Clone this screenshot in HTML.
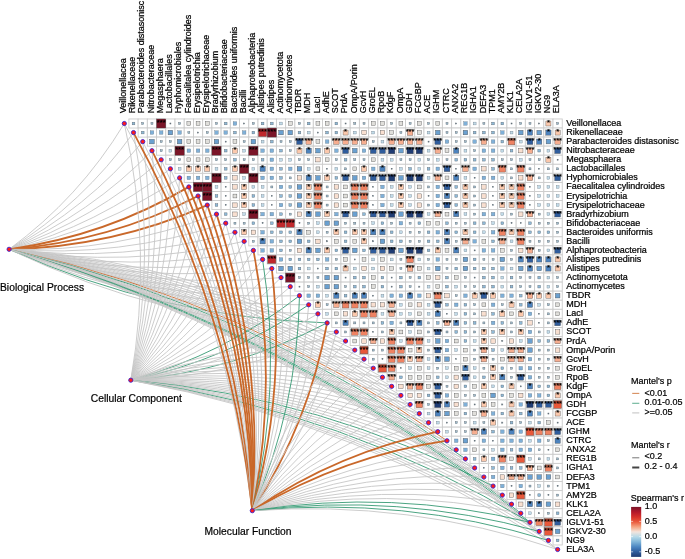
<!DOCTYPE html><html><head><meta charset="utf-8"><title>Mantel correlation plot</title><style>html,body{margin:0;padding:0;background:#fff}svg{display:block}</style></head><body><svg width="685" height="559" viewBox="0 0 685 559" font-family="Liberation Sans, Arial, sans-serif"><rect width="685" height="559" fill="#fff"/><g fill="#fff" stroke="#cccccc" stroke-width="0.9"><rect x="128.91" y="118.97" width="9.22" height="9.06"/><rect x="138.13" y="118.97" width="9.22" height="9.06"/><rect x="147.35" y="118.97" width="9.22" height="9.06"/><rect x="156.57" y="118.97" width="9.22" height="9.06"/><rect x="165.79" y="118.97" width="9.22" height="9.06"/><rect x="175.01" y="118.97" width="9.22" height="9.06"/><rect x="184.23" y="118.97" width="9.22" height="9.06"/><rect x="193.45" y="118.97" width="9.22" height="9.06"/><rect x="202.67" y="118.97" width="9.22" height="9.06"/><rect x="211.89" y="118.97" width="9.22" height="9.06"/><rect x="221.11" y="118.97" width="9.22" height="9.06"/><rect x="230.33" y="118.97" width="9.22" height="9.06"/><rect x="239.55" y="118.97" width="9.22" height="9.06"/><rect x="248.77" y="118.97" width="9.22" height="9.06"/><rect x="257.99" y="118.97" width="9.22" height="9.06"/><rect x="267.21" y="118.97" width="9.22" height="9.06"/><rect x="276.43" y="118.97" width="9.22" height="9.06"/><rect x="285.65" y="118.97" width="9.22" height="9.06"/><rect x="294.87" y="118.97" width="9.22" height="9.06"/><rect x="304.09" y="118.97" width="9.22" height="9.06"/><rect x="313.31" y="118.97" width="9.22" height="9.06"/><rect x="322.53" y="118.97" width="9.22" height="9.06"/><rect x="331.75" y="118.97" width="9.22" height="9.06"/><rect x="340.97" y="118.97" width="9.22" height="9.06"/><rect x="350.19" y="118.97" width="9.22" height="9.06"/><rect x="359.41" y="118.97" width="9.22" height="9.06"/><rect x="368.63" y="118.97" width="9.22" height="9.06"/><rect x="377.85" y="118.97" width="9.22" height="9.06"/><rect x="387.07" y="118.97" width="9.22" height="9.06"/><rect x="396.29" y="118.97" width="9.22" height="9.06"/><rect x="405.51" y="118.97" width="9.22" height="9.06"/><rect x="414.73" y="118.97" width="9.22" height="9.06"/><rect x="423.95" y="118.97" width="9.22" height="9.06"/><rect x="433.17" y="118.97" width="9.22" height="9.06"/><rect x="442.39" y="118.97" width="9.22" height="9.06"/><rect x="451.61" y="118.97" width="9.22" height="9.06"/><rect x="460.83" y="118.97" width="9.22" height="9.06"/><rect x="470.05" y="118.97" width="9.22" height="9.06"/><rect x="479.27" y="118.97" width="9.22" height="9.06"/><rect x="488.49" y="118.97" width="9.22" height="9.06"/><rect x="497.71" y="118.97" width="9.22" height="9.06"/><rect x="506.93" y="118.97" width="9.22" height="9.06"/><rect x="516.15" y="118.97" width="9.22" height="9.06"/><rect x="525.37" y="118.97" width="9.22" height="9.06"/><rect x="534.59" y="118.97" width="9.22" height="9.06"/><rect x="543.81" y="118.97" width="9.22" height="9.06"/><rect x="553.03" y="118.97" width="9.22" height="9.06"/><rect x="138.13" y="128.03" width="9.22" height="9.06"/><rect x="147.35" y="128.03" width="9.22" height="9.06"/><rect x="156.57" y="128.03" width="9.22" height="9.06"/><rect x="165.79" y="128.03" width="9.22" height="9.06"/><rect x="175.01" y="128.03" width="9.22" height="9.06"/><rect x="184.23" y="128.03" width="9.22" height="9.06"/><rect x="193.45" y="128.03" width="9.22" height="9.06"/><rect x="202.67" y="128.03" width="9.22" height="9.06"/><rect x="211.89" y="128.03" width="9.22" height="9.06"/><rect x="221.11" y="128.03" width="9.22" height="9.06"/><rect x="230.33" y="128.03" width="9.22" height="9.06"/><rect x="239.55" y="128.03" width="9.22" height="9.06"/><rect x="248.77" y="128.03" width="9.22" height="9.06"/><rect x="257.99" y="128.03" width="9.22" height="9.06"/><rect x="267.21" y="128.03" width="9.22" height="9.06"/><rect x="276.43" y="128.03" width="9.22" height="9.06"/><rect x="285.65" y="128.03" width="9.22" height="9.06"/><rect x="294.87" y="128.03" width="9.22" height="9.06"/><rect x="304.09" y="128.03" width="9.22" height="9.06"/><rect x="313.31" y="128.03" width="9.22" height="9.06"/><rect x="322.53" y="128.03" width="9.22" height="9.06"/><rect x="331.75" y="128.03" width="9.22" height="9.06"/><rect x="340.97" y="128.03" width="9.22" height="9.06"/><rect x="350.19" y="128.03" width="9.22" height="9.06"/><rect x="359.41" y="128.03" width="9.22" height="9.06"/><rect x="368.63" y="128.03" width="9.22" height="9.06"/><rect x="377.85" y="128.03" width="9.22" height="9.06"/><rect x="387.07" y="128.03" width="9.22" height="9.06"/><rect x="396.29" y="128.03" width="9.22" height="9.06"/><rect x="405.51" y="128.03" width="9.22" height="9.06"/><rect x="414.73" y="128.03" width="9.22" height="9.06"/><rect x="423.95" y="128.03" width="9.22" height="9.06"/><rect x="433.17" y="128.03" width="9.22" height="9.06"/><rect x="442.39" y="128.03" width="9.22" height="9.06"/><rect x="451.61" y="128.03" width="9.22" height="9.06"/><rect x="460.83" y="128.03" width="9.22" height="9.06"/><rect x="470.05" y="128.03" width="9.22" height="9.06"/><rect x="479.27" y="128.03" width="9.22" height="9.06"/><rect x="488.49" y="128.03" width="9.22" height="9.06"/><rect x="497.71" y="128.03" width="9.22" height="9.06"/><rect x="506.93" y="128.03" width="9.22" height="9.06"/><rect x="516.15" y="128.03" width="9.22" height="9.06"/><rect x="525.37" y="128.03" width="9.22" height="9.06"/><rect x="534.59" y="128.03" width="9.22" height="9.06"/><rect x="543.81" y="128.03" width="9.22" height="9.06"/><rect x="553.03" y="128.03" width="9.22" height="9.06"/><rect x="147.35" y="137.10" width="9.22" height="9.06"/><rect x="156.57" y="137.10" width="9.22" height="9.06"/><rect x="165.79" y="137.10" width="9.22" height="9.06"/><rect x="175.01" y="137.10" width="9.22" height="9.06"/><rect x="184.23" y="137.10" width="9.22" height="9.06"/><rect x="193.45" y="137.10" width="9.22" height="9.06"/><rect x="202.67" y="137.10" width="9.22" height="9.06"/><rect x="211.89" y="137.10" width="9.22" height="9.06"/><rect x="221.11" y="137.10" width="9.22" height="9.06"/><rect x="230.33" y="137.10" width="9.22" height="9.06"/><rect x="239.55" y="137.10" width="9.22" height="9.06"/><rect x="248.77" y="137.10" width="9.22" height="9.06"/><rect x="257.99" y="137.10" width="9.22" height="9.06"/><rect x="267.21" y="137.10" width="9.22" height="9.06"/><rect x="276.43" y="137.10" width="9.22" height="9.06"/><rect x="285.65" y="137.10" width="9.22" height="9.06"/><rect x="294.87" y="137.10" width="9.22" height="9.06"/><rect x="304.09" y="137.10" width="9.22" height="9.06"/><rect x="313.31" y="137.10" width="9.22" height="9.06"/><rect x="322.53" y="137.10" width="9.22" height="9.06"/><rect x="331.75" y="137.10" width="9.22" height="9.06"/><rect x="340.97" y="137.10" width="9.22" height="9.06"/><rect x="350.19" y="137.10" width="9.22" height="9.06"/><rect x="359.41" y="137.10" width="9.22" height="9.06"/><rect x="368.63" y="137.10" width="9.22" height="9.06"/><rect x="377.85" y="137.10" width="9.22" height="9.06"/><rect x="387.07" y="137.10" width="9.22" height="9.06"/><rect x="396.29" y="137.10" width="9.22" height="9.06"/><rect x="405.51" y="137.10" width="9.22" height="9.06"/><rect x="414.73" y="137.10" width="9.22" height="9.06"/><rect x="423.95" y="137.10" width="9.22" height="9.06"/><rect x="433.17" y="137.10" width="9.22" height="9.06"/><rect x="442.39" y="137.10" width="9.22" height="9.06"/><rect x="451.61" y="137.10" width="9.22" height="9.06"/><rect x="460.83" y="137.10" width="9.22" height="9.06"/><rect x="470.05" y="137.10" width="9.22" height="9.06"/><rect x="479.27" y="137.10" width="9.22" height="9.06"/><rect x="488.49" y="137.10" width="9.22" height="9.06"/><rect x="497.71" y="137.10" width="9.22" height="9.06"/><rect x="506.93" y="137.10" width="9.22" height="9.06"/><rect x="516.15" y="137.10" width="9.22" height="9.06"/><rect x="525.37" y="137.10" width="9.22" height="9.06"/><rect x="534.59" y="137.10" width="9.22" height="9.06"/><rect x="543.81" y="137.10" width="9.22" height="9.06"/><rect x="553.03" y="137.10" width="9.22" height="9.06"/><rect x="156.57" y="146.16" width="9.22" height="9.06"/><rect x="165.79" y="146.16" width="9.22" height="9.06"/><rect x="175.01" y="146.16" width="9.22" height="9.06"/><rect x="184.23" y="146.16" width="9.22" height="9.06"/><rect x="193.45" y="146.16" width="9.22" height="9.06"/><rect x="202.67" y="146.16" width="9.22" height="9.06"/><rect x="211.89" y="146.16" width="9.22" height="9.06"/><rect x="221.11" y="146.16" width="9.22" height="9.06"/><rect x="230.33" y="146.16" width="9.22" height="9.06"/><rect x="239.55" y="146.16" width="9.22" height="9.06"/><rect x="248.77" y="146.16" width="9.22" height="9.06"/><rect x="257.99" y="146.16" width="9.22" height="9.06"/><rect x="267.21" y="146.16" width="9.22" height="9.06"/><rect x="276.43" y="146.16" width="9.22" height="9.06"/><rect x="285.65" y="146.16" width="9.22" height="9.06"/><rect x="294.87" y="146.16" width="9.22" height="9.06"/><rect x="304.09" y="146.16" width="9.22" height="9.06"/><rect x="313.31" y="146.16" width="9.22" height="9.06"/><rect x="322.53" y="146.16" width="9.22" height="9.06"/><rect x="331.75" y="146.16" width="9.22" height="9.06"/><rect x="340.97" y="146.16" width="9.22" height="9.06"/><rect x="350.19" y="146.16" width="9.22" height="9.06"/><rect x="359.41" y="146.16" width="9.22" height="9.06"/><rect x="368.63" y="146.16" width="9.22" height="9.06"/><rect x="377.85" y="146.16" width="9.22" height="9.06"/><rect x="387.07" y="146.16" width="9.22" height="9.06"/><rect x="396.29" y="146.16" width="9.22" height="9.06"/><rect x="405.51" y="146.16" width="9.22" height="9.06"/><rect x="414.73" y="146.16" width="9.22" height="9.06"/><rect x="423.95" y="146.16" width="9.22" height="9.06"/><rect x="433.17" y="146.16" width="9.22" height="9.06"/><rect x="442.39" y="146.16" width="9.22" height="9.06"/><rect x="451.61" y="146.16" width="9.22" height="9.06"/><rect x="460.83" y="146.16" width="9.22" height="9.06"/><rect x="470.05" y="146.16" width="9.22" height="9.06"/><rect x="479.27" y="146.16" width="9.22" height="9.06"/><rect x="488.49" y="146.16" width="9.22" height="9.06"/><rect x="497.71" y="146.16" width="9.22" height="9.06"/><rect x="506.93" y="146.16" width="9.22" height="9.06"/><rect x="516.15" y="146.16" width="9.22" height="9.06"/><rect x="525.37" y="146.16" width="9.22" height="9.06"/><rect x="534.59" y="146.16" width="9.22" height="9.06"/><rect x="543.81" y="146.16" width="9.22" height="9.06"/><rect x="553.03" y="146.16" width="9.22" height="9.06"/><rect x="165.79" y="155.22" width="9.22" height="9.06"/><rect x="175.01" y="155.22" width="9.22" height="9.06"/><rect x="184.23" y="155.22" width="9.22" height="9.06"/><rect x="193.45" y="155.22" width="9.22" height="9.06"/><rect x="202.67" y="155.22" width="9.22" height="9.06"/><rect x="211.89" y="155.22" width="9.22" height="9.06"/><rect x="221.11" y="155.22" width="9.22" height="9.06"/><rect x="230.33" y="155.22" width="9.22" height="9.06"/><rect x="239.55" y="155.22" width="9.22" height="9.06"/><rect x="248.77" y="155.22" width="9.22" height="9.06"/><rect x="257.99" y="155.22" width="9.22" height="9.06"/><rect x="267.21" y="155.22" width="9.22" height="9.06"/><rect x="276.43" y="155.22" width="9.22" height="9.06"/><rect x="285.65" y="155.22" width="9.22" height="9.06"/><rect x="294.87" y="155.22" width="9.22" height="9.06"/><rect x="304.09" y="155.22" width="9.22" height="9.06"/><rect x="313.31" y="155.22" width="9.22" height="9.06"/><rect x="322.53" y="155.22" width="9.22" height="9.06"/><rect x="331.75" y="155.22" width="9.22" height="9.06"/><rect x="340.97" y="155.22" width="9.22" height="9.06"/><rect x="350.19" y="155.22" width="9.22" height="9.06"/><rect x="359.41" y="155.22" width="9.22" height="9.06"/><rect x="368.63" y="155.22" width="9.22" height="9.06"/><rect x="377.85" y="155.22" width="9.22" height="9.06"/><rect x="387.07" y="155.22" width="9.22" height="9.06"/><rect x="396.29" y="155.22" width="9.22" height="9.06"/><rect x="405.51" y="155.22" width="9.22" height="9.06"/><rect x="414.73" y="155.22" width="9.22" height="9.06"/><rect x="423.95" y="155.22" width="9.22" height="9.06"/><rect x="433.17" y="155.22" width="9.22" height="9.06"/><rect x="442.39" y="155.22" width="9.22" height="9.06"/><rect x="451.61" y="155.22" width="9.22" height="9.06"/><rect x="460.83" y="155.22" width="9.22" height="9.06"/><rect x="470.05" y="155.22" width="9.22" height="9.06"/><rect x="479.27" y="155.22" width="9.22" height="9.06"/><rect x="488.49" y="155.22" width="9.22" height="9.06"/><rect x="497.71" y="155.22" width="9.22" height="9.06"/><rect x="506.93" y="155.22" width="9.22" height="9.06"/><rect x="516.15" y="155.22" width="9.22" height="9.06"/><rect x="525.37" y="155.22" width="9.22" height="9.06"/><rect x="534.59" y="155.22" width="9.22" height="9.06"/><rect x="543.81" y="155.22" width="9.22" height="9.06"/><rect x="553.03" y="155.22" width="9.22" height="9.06"/><rect x="175.01" y="164.29" width="9.22" height="9.06"/><rect x="184.23" y="164.29" width="9.22" height="9.06"/><rect x="193.45" y="164.29" width="9.22" height="9.06"/><rect x="202.67" y="164.29" width="9.22" height="9.06"/><rect x="211.89" y="164.29" width="9.22" height="9.06"/><rect x="221.11" y="164.29" width="9.22" height="9.06"/><rect x="230.33" y="164.29" width="9.22" height="9.06"/><rect x="239.55" y="164.29" width="9.22" height="9.06"/><rect x="248.77" y="164.29" width="9.22" height="9.06"/><rect x="257.99" y="164.29" width="9.22" height="9.06"/><rect x="267.21" y="164.29" width="9.22" height="9.06"/><rect x="276.43" y="164.29" width="9.22" height="9.06"/><rect x="285.65" y="164.29" width="9.22" height="9.06"/><rect x="294.87" y="164.29" width="9.22" height="9.06"/><rect x="304.09" y="164.29" width="9.22" height="9.06"/><rect x="313.31" y="164.29" width="9.22" height="9.06"/><rect x="322.53" y="164.29" width="9.22" height="9.06"/><rect x="331.75" y="164.29" width="9.22" height="9.06"/><rect x="340.97" y="164.29" width="9.22" height="9.06"/><rect x="350.19" y="164.29" width="9.22" height="9.06"/><rect x="359.41" y="164.29" width="9.22" height="9.06"/><rect x="368.63" y="164.29" width="9.22" height="9.06"/><rect x="377.85" y="164.29" width="9.22" height="9.06"/><rect x="387.07" y="164.29" width="9.22" height="9.06"/><rect x="396.29" y="164.29" width="9.22" height="9.06"/><rect x="405.51" y="164.29" width="9.22" height="9.06"/><rect x="414.73" y="164.29" width="9.22" height="9.06"/><rect x="423.95" y="164.29" width="9.22" height="9.06"/><rect x="433.17" y="164.29" width="9.22" height="9.06"/><rect x="442.39" y="164.29" width="9.22" height="9.06"/><rect x="451.61" y="164.29" width="9.22" height="9.06"/><rect x="460.83" y="164.29" width="9.22" height="9.06"/><rect x="470.05" y="164.29" width="9.22" height="9.06"/><rect x="479.27" y="164.29" width="9.22" height="9.06"/><rect x="488.49" y="164.29" width="9.22" height="9.06"/><rect x="497.71" y="164.29" width="9.22" height="9.06"/><rect x="506.93" y="164.29" width="9.22" height="9.06"/><rect x="516.15" y="164.29" width="9.22" height="9.06"/><rect x="525.37" y="164.29" width="9.22" height="9.06"/><rect x="534.59" y="164.29" width="9.22" height="9.06"/><rect x="543.81" y="164.29" width="9.22" height="9.06"/><rect x="553.03" y="164.29" width="9.22" height="9.06"/><rect x="184.23" y="173.35" width="9.22" height="9.06"/><rect x="193.45" y="173.35" width="9.22" height="9.06"/><rect x="202.67" y="173.35" width="9.22" height="9.06"/><rect x="211.89" y="173.35" width="9.22" height="9.06"/><rect x="221.11" y="173.35" width="9.22" height="9.06"/><rect x="230.33" y="173.35" width="9.22" height="9.06"/><rect x="239.55" y="173.35" width="9.22" height="9.06"/><rect x="248.77" y="173.35" width="9.22" height="9.06"/><rect x="257.99" y="173.35" width="9.22" height="9.06"/><rect x="267.21" y="173.35" width="9.22" height="9.06"/><rect x="276.43" y="173.35" width="9.22" height="9.06"/><rect x="285.65" y="173.35" width="9.22" height="9.06"/><rect x="294.87" y="173.35" width="9.22" height="9.06"/><rect x="304.09" y="173.35" width="9.22" height="9.06"/><rect x="313.31" y="173.35" width="9.22" height="9.06"/><rect x="322.53" y="173.35" width="9.22" height="9.06"/><rect x="331.75" y="173.35" width="9.22" height="9.06"/><rect x="340.97" y="173.35" width="9.22" height="9.06"/><rect x="350.19" y="173.35" width="9.22" height="9.06"/><rect x="359.41" y="173.35" width="9.22" height="9.06"/><rect x="368.63" y="173.35" width="9.22" height="9.06"/><rect x="377.85" y="173.35" width="9.22" height="9.06"/><rect x="387.07" y="173.35" width="9.22" height="9.06"/><rect x="396.29" y="173.35" width="9.22" height="9.06"/><rect x="405.51" y="173.35" width="9.22" height="9.06"/><rect x="414.73" y="173.35" width="9.22" height="9.06"/><rect x="423.95" y="173.35" width="9.22" height="9.06"/><rect x="433.17" y="173.35" width="9.22" height="9.06"/><rect x="442.39" y="173.35" width="9.22" height="9.06"/><rect x="451.61" y="173.35" width="9.22" height="9.06"/><rect x="460.83" y="173.35" width="9.22" height="9.06"/><rect x="470.05" y="173.35" width="9.22" height="9.06"/><rect x="479.27" y="173.35" width="9.22" height="9.06"/><rect x="488.49" y="173.35" width="9.22" height="9.06"/><rect x="497.71" y="173.35" width="9.22" height="9.06"/><rect x="506.93" y="173.35" width="9.22" height="9.06"/><rect x="516.15" y="173.35" width="9.22" height="9.06"/><rect x="525.37" y="173.35" width="9.22" height="9.06"/><rect x="534.59" y="173.35" width="9.22" height="9.06"/><rect x="543.81" y="173.35" width="9.22" height="9.06"/><rect x="553.03" y="173.35" width="9.22" height="9.06"/><rect x="193.45" y="182.42" width="9.22" height="9.06"/><rect x="202.67" y="182.42" width="9.22" height="9.06"/><rect x="211.89" y="182.42" width="9.22" height="9.06"/><rect x="221.11" y="182.42" width="9.22" height="9.06"/><rect x="230.33" y="182.42" width="9.22" height="9.06"/><rect x="239.55" y="182.42" width="9.22" height="9.06"/><rect x="248.77" y="182.42" width="9.22" height="9.06"/><rect x="257.99" y="182.42" width="9.22" height="9.06"/><rect x="267.21" y="182.42" width="9.22" height="9.06"/><rect x="276.43" y="182.42" width="9.22" height="9.06"/><rect x="285.65" y="182.42" width="9.22" height="9.06"/><rect x="294.87" y="182.42" width="9.22" height="9.06"/><rect x="304.09" y="182.42" width="9.22" height="9.06"/><rect x="313.31" y="182.42" width="9.22" height="9.06"/><rect x="322.53" y="182.42" width="9.22" height="9.06"/><rect x="331.75" y="182.42" width="9.22" height="9.06"/><rect x="340.97" y="182.42" width="9.22" height="9.06"/><rect x="350.19" y="182.42" width="9.22" height="9.06"/><rect x="359.41" y="182.42" width="9.22" height="9.06"/><rect x="368.63" y="182.42" width="9.22" height="9.06"/><rect x="377.85" y="182.42" width="9.22" height="9.06"/><rect x="387.07" y="182.42" width="9.22" height="9.06"/><rect x="396.29" y="182.42" width="9.22" height="9.06"/><rect x="405.51" y="182.42" width="9.22" height="9.06"/><rect x="414.73" y="182.42" width="9.22" height="9.06"/><rect x="423.95" y="182.42" width="9.22" height="9.06"/><rect x="433.17" y="182.42" width="9.22" height="9.06"/><rect x="442.39" y="182.42" width="9.22" height="9.06"/><rect x="451.61" y="182.42" width="9.22" height="9.06"/><rect x="460.83" y="182.42" width="9.22" height="9.06"/><rect x="470.05" y="182.42" width="9.22" height="9.06"/><rect x="479.27" y="182.42" width="9.22" height="9.06"/><rect x="488.49" y="182.42" width="9.22" height="9.06"/><rect x="497.71" y="182.42" width="9.22" height="9.06"/><rect x="506.93" y="182.42" width="9.22" height="9.06"/><rect x="516.15" y="182.42" width="9.22" height="9.06"/><rect x="525.37" y="182.42" width="9.22" height="9.06"/><rect x="534.59" y="182.42" width="9.22" height="9.06"/><rect x="543.81" y="182.42" width="9.22" height="9.06"/><rect x="553.03" y="182.42" width="9.22" height="9.06"/><rect x="202.67" y="191.48" width="9.22" height="9.06"/><rect x="211.89" y="191.48" width="9.22" height="9.06"/><rect x="221.11" y="191.48" width="9.22" height="9.06"/><rect x="230.33" y="191.48" width="9.22" height="9.06"/><rect x="239.55" y="191.48" width="9.22" height="9.06"/><rect x="248.77" y="191.48" width="9.22" height="9.06"/><rect x="257.99" y="191.48" width="9.22" height="9.06"/><rect x="267.21" y="191.48" width="9.22" height="9.06"/><rect x="276.43" y="191.48" width="9.22" height="9.06"/><rect x="285.65" y="191.48" width="9.22" height="9.06"/><rect x="294.87" y="191.48" width="9.22" height="9.06"/><rect x="304.09" y="191.48" width="9.22" height="9.06"/><rect x="313.31" y="191.48" width="9.22" height="9.06"/><rect x="322.53" y="191.48" width="9.22" height="9.06"/><rect x="331.75" y="191.48" width="9.22" height="9.06"/><rect x="340.97" y="191.48" width="9.22" height="9.06"/><rect x="350.19" y="191.48" width="9.22" height="9.06"/><rect x="359.41" y="191.48" width="9.22" height="9.06"/><rect x="368.63" y="191.48" width="9.22" height="9.06"/><rect x="377.85" y="191.48" width="9.22" height="9.06"/><rect x="387.07" y="191.48" width="9.22" height="9.06"/><rect x="396.29" y="191.48" width="9.22" height="9.06"/><rect x="405.51" y="191.48" width="9.22" height="9.06"/><rect x="414.73" y="191.48" width="9.22" height="9.06"/><rect x="423.95" y="191.48" width="9.22" height="9.06"/><rect x="433.17" y="191.48" width="9.22" height="9.06"/><rect x="442.39" y="191.48" width="9.22" height="9.06"/><rect x="451.61" y="191.48" width="9.22" height="9.06"/><rect x="460.83" y="191.48" width="9.22" height="9.06"/><rect x="470.05" y="191.48" width="9.22" height="9.06"/><rect x="479.27" y="191.48" width="9.22" height="9.06"/><rect x="488.49" y="191.48" width="9.22" height="9.06"/><rect x="497.71" y="191.48" width="9.22" height="9.06"/><rect x="506.93" y="191.48" width="9.22" height="9.06"/><rect x="516.15" y="191.48" width="9.22" height="9.06"/><rect x="525.37" y="191.48" width="9.22" height="9.06"/><rect x="534.59" y="191.48" width="9.22" height="9.06"/><rect x="543.81" y="191.48" width="9.22" height="9.06"/><rect x="553.03" y="191.48" width="9.22" height="9.06"/><rect x="211.89" y="200.54" width="9.22" height="9.06"/><rect x="221.11" y="200.54" width="9.22" height="9.06"/><rect x="230.33" y="200.54" width="9.22" height="9.06"/><rect x="239.55" y="200.54" width="9.22" height="9.06"/><rect x="248.77" y="200.54" width="9.22" height="9.06"/><rect x="257.99" y="200.54" width="9.22" height="9.06"/><rect x="267.21" y="200.54" width="9.22" height="9.06"/><rect x="276.43" y="200.54" width="9.22" height="9.06"/><rect x="285.65" y="200.54" width="9.22" height="9.06"/><rect x="294.87" y="200.54" width="9.22" height="9.06"/><rect x="304.09" y="200.54" width="9.22" height="9.06"/><rect x="313.31" y="200.54" width="9.22" height="9.06"/><rect x="322.53" y="200.54" width="9.22" height="9.06"/><rect x="331.75" y="200.54" width="9.22" height="9.06"/><rect x="340.97" y="200.54" width="9.22" height="9.06"/><rect x="350.19" y="200.54" width="9.22" height="9.06"/><rect x="359.41" y="200.54" width="9.22" height="9.06"/><rect x="368.63" y="200.54" width="9.22" height="9.06"/><rect x="377.85" y="200.54" width="9.22" height="9.06"/><rect x="387.07" y="200.54" width="9.22" height="9.06"/><rect x="396.29" y="200.54" width="9.22" height="9.06"/><rect x="405.51" y="200.54" width="9.22" height="9.06"/><rect x="414.73" y="200.54" width="9.22" height="9.06"/><rect x="423.95" y="200.54" width="9.22" height="9.06"/><rect x="433.17" y="200.54" width="9.22" height="9.06"/><rect x="442.39" y="200.54" width="9.22" height="9.06"/><rect x="451.61" y="200.54" width="9.22" height="9.06"/><rect x="460.83" y="200.54" width="9.22" height="9.06"/><rect x="470.05" y="200.54" width="9.22" height="9.06"/><rect x="479.27" y="200.54" width="9.22" height="9.06"/><rect x="488.49" y="200.54" width="9.22" height="9.06"/><rect x="497.71" y="200.54" width="9.22" height="9.06"/><rect x="506.93" y="200.54" width="9.22" height="9.06"/><rect x="516.15" y="200.54" width="9.22" height="9.06"/><rect x="525.37" y="200.54" width="9.22" height="9.06"/><rect x="534.59" y="200.54" width="9.22" height="9.06"/><rect x="543.81" y="200.54" width="9.22" height="9.06"/><rect x="553.03" y="200.54" width="9.22" height="9.06"/><rect x="221.11" y="209.61" width="9.22" height="9.06"/><rect x="230.33" y="209.61" width="9.22" height="9.06"/><rect x="239.55" y="209.61" width="9.22" height="9.06"/><rect x="248.77" y="209.61" width="9.22" height="9.06"/><rect x="257.99" y="209.61" width="9.22" height="9.06"/><rect x="267.21" y="209.61" width="9.22" height="9.06"/><rect x="276.43" y="209.61" width="9.22" height="9.06"/><rect x="285.65" y="209.61" width="9.22" height="9.06"/><rect x="294.87" y="209.61" width="9.22" height="9.06"/><rect x="304.09" y="209.61" width="9.22" height="9.06"/><rect x="313.31" y="209.61" width="9.22" height="9.06"/><rect x="322.53" y="209.61" width="9.22" height="9.06"/><rect x="331.75" y="209.61" width="9.22" height="9.06"/><rect x="340.97" y="209.61" width="9.22" height="9.06"/><rect x="350.19" y="209.61" width="9.22" height="9.06"/><rect x="359.41" y="209.61" width="9.22" height="9.06"/><rect x="368.63" y="209.61" width="9.22" height="9.06"/><rect x="377.85" y="209.61" width="9.22" height="9.06"/><rect x="387.07" y="209.61" width="9.22" height="9.06"/><rect x="396.29" y="209.61" width="9.22" height="9.06"/><rect x="405.51" y="209.61" width="9.22" height="9.06"/><rect x="414.73" y="209.61" width="9.22" height="9.06"/><rect x="423.95" y="209.61" width="9.22" height="9.06"/><rect x="433.17" y="209.61" width="9.22" height="9.06"/><rect x="442.39" y="209.61" width="9.22" height="9.06"/><rect x="451.61" y="209.61" width="9.22" height="9.06"/><rect x="460.83" y="209.61" width="9.22" height="9.06"/><rect x="470.05" y="209.61" width="9.22" height="9.06"/><rect x="479.27" y="209.61" width="9.22" height="9.06"/><rect x="488.49" y="209.61" width="9.22" height="9.06"/><rect x="497.71" y="209.61" width="9.22" height="9.06"/><rect x="506.93" y="209.61" width="9.22" height="9.06"/><rect x="516.15" y="209.61" width="9.22" height="9.06"/><rect x="525.37" y="209.61" width="9.22" height="9.06"/><rect x="534.59" y="209.61" width="9.22" height="9.06"/><rect x="543.81" y="209.61" width="9.22" height="9.06"/><rect x="553.03" y="209.61" width="9.22" height="9.06"/><rect x="230.33" y="218.67" width="9.22" height="9.06"/><rect x="239.55" y="218.67" width="9.22" height="9.06"/><rect x="248.77" y="218.67" width="9.22" height="9.06"/><rect x="257.99" y="218.67" width="9.22" height="9.06"/><rect x="267.21" y="218.67" width="9.22" height="9.06"/><rect x="276.43" y="218.67" width="9.22" height="9.06"/><rect x="285.65" y="218.67" width="9.22" height="9.06"/><rect x="294.87" y="218.67" width="9.22" height="9.06"/><rect x="304.09" y="218.67" width="9.22" height="9.06"/><rect x="313.31" y="218.67" width="9.22" height="9.06"/><rect x="322.53" y="218.67" width="9.22" height="9.06"/><rect x="331.75" y="218.67" width="9.22" height="9.06"/><rect x="340.97" y="218.67" width="9.22" height="9.06"/><rect x="350.19" y="218.67" width="9.22" height="9.06"/><rect x="359.41" y="218.67" width="9.22" height="9.06"/><rect x="368.63" y="218.67" width="9.22" height="9.06"/><rect x="377.85" y="218.67" width="9.22" height="9.06"/><rect x="387.07" y="218.67" width="9.22" height="9.06"/><rect x="396.29" y="218.67" width="9.22" height="9.06"/><rect x="405.51" y="218.67" width="9.22" height="9.06"/><rect x="414.73" y="218.67" width="9.22" height="9.06"/><rect x="423.95" y="218.67" width="9.22" height="9.06"/><rect x="433.17" y="218.67" width="9.22" height="9.06"/><rect x="442.39" y="218.67" width="9.22" height="9.06"/><rect x="451.61" y="218.67" width="9.22" height="9.06"/><rect x="460.83" y="218.67" width="9.22" height="9.06"/><rect x="470.05" y="218.67" width="9.22" height="9.06"/><rect x="479.27" y="218.67" width="9.22" height="9.06"/><rect x="488.49" y="218.67" width="9.22" height="9.06"/><rect x="497.71" y="218.67" width="9.22" height="9.06"/><rect x="506.93" y="218.67" width="9.22" height="9.06"/><rect x="516.15" y="218.67" width="9.22" height="9.06"/><rect x="525.37" y="218.67" width="9.22" height="9.06"/><rect x="534.59" y="218.67" width="9.22" height="9.06"/><rect x="543.81" y="218.67" width="9.22" height="9.06"/><rect x="553.03" y="218.67" width="9.22" height="9.06"/><rect x="239.55" y="227.74" width="9.22" height="9.06"/><rect x="248.77" y="227.74" width="9.22" height="9.06"/><rect x="257.99" y="227.74" width="9.22" height="9.06"/><rect x="267.21" y="227.74" width="9.22" height="9.06"/><rect x="276.43" y="227.74" width="9.22" height="9.06"/><rect x="285.65" y="227.74" width="9.22" height="9.06"/><rect x="294.87" y="227.74" width="9.22" height="9.06"/><rect x="304.09" y="227.74" width="9.22" height="9.06"/><rect x="313.31" y="227.74" width="9.22" height="9.06"/><rect x="322.53" y="227.74" width="9.22" height="9.06"/><rect x="331.75" y="227.74" width="9.22" height="9.06"/><rect x="340.97" y="227.74" width="9.22" height="9.06"/><rect x="350.19" y="227.74" width="9.22" height="9.06"/><rect x="359.41" y="227.74" width="9.22" height="9.06"/><rect x="368.63" y="227.74" width="9.22" height="9.06"/><rect x="377.85" y="227.74" width="9.22" height="9.06"/><rect x="387.07" y="227.74" width="9.22" height="9.06"/><rect x="396.29" y="227.74" width="9.22" height="9.06"/><rect x="405.51" y="227.74" width="9.22" height="9.06"/><rect x="414.73" y="227.74" width="9.22" height="9.06"/><rect x="423.95" y="227.74" width="9.22" height="9.06"/><rect x="433.17" y="227.74" width="9.22" height="9.06"/><rect x="442.39" y="227.74" width="9.22" height="9.06"/><rect x="451.61" y="227.74" width="9.22" height="9.06"/><rect x="460.83" y="227.74" width="9.22" height="9.06"/><rect x="470.05" y="227.74" width="9.22" height="9.06"/><rect x="479.27" y="227.74" width="9.22" height="9.06"/><rect x="488.49" y="227.74" width="9.22" height="9.06"/><rect x="497.71" y="227.74" width="9.22" height="9.06"/><rect x="506.93" y="227.74" width="9.22" height="9.06"/><rect x="516.15" y="227.74" width="9.22" height="9.06"/><rect x="525.37" y="227.74" width="9.22" height="9.06"/><rect x="534.59" y="227.74" width="9.22" height="9.06"/><rect x="543.81" y="227.74" width="9.22" height="9.06"/><rect x="553.03" y="227.74" width="9.22" height="9.06"/><rect x="248.77" y="236.80" width="9.22" height="9.06"/><rect x="257.99" y="236.80" width="9.22" height="9.06"/><rect x="267.21" y="236.80" width="9.22" height="9.06"/><rect x="276.43" y="236.80" width="9.22" height="9.06"/><rect x="285.65" y="236.80" width="9.22" height="9.06"/><rect x="294.87" y="236.80" width="9.22" height="9.06"/><rect x="304.09" y="236.80" width="9.22" height="9.06"/><rect x="313.31" y="236.80" width="9.22" height="9.06"/><rect x="322.53" y="236.80" width="9.22" height="9.06"/><rect x="331.75" y="236.80" width="9.22" height="9.06"/><rect x="340.97" y="236.80" width="9.22" height="9.06"/><rect x="350.19" y="236.80" width="9.22" height="9.06"/><rect x="359.41" y="236.80" width="9.22" height="9.06"/><rect x="368.63" y="236.80" width="9.22" height="9.06"/><rect x="377.85" y="236.80" width="9.22" height="9.06"/><rect x="387.07" y="236.80" width="9.22" height="9.06"/><rect x="396.29" y="236.80" width="9.22" height="9.06"/><rect x="405.51" y="236.80" width="9.22" height="9.06"/><rect x="414.73" y="236.80" width="9.22" height="9.06"/><rect x="423.95" y="236.80" width="9.22" height="9.06"/><rect x="433.17" y="236.80" width="9.22" height="9.06"/><rect x="442.39" y="236.80" width="9.22" height="9.06"/><rect x="451.61" y="236.80" width="9.22" height="9.06"/><rect x="460.83" y="236.80" width="9.22" height="9.06"/><rect x="470.05" y="236.80" width="9.22" height="9.06"/><rect x="479.27" y="236.80" width="9.22" height="9.06"/><rect x="488.49" y="236.80" width="9.22" height="9.06"/><rect x="497.71" y="236.80" width="9.22" height="9.06"/><rect x="506.93" y="236.80" width="9.22" height="9.06"/><rect x="516.15" y="236.80" width="9.22" height="9.06"/><rect x="525.37" y="236.80" width="9.22" height="9.06"/><rect x="534.59" y="236.80" width="9.22" height="9.06"/><rect x="543.81" y="236.80" width="9.22" height="9.06"/><rect x="553.03" y="236.80" width="9.22" height="9.06"/><rect x="257.99" y="245.86" width="9.22" height="9.06"/><rect x="267.21" y="245.86" width="9.22" height="9.06"/><rect x="276.43" y="245.86" width="9.22" height="9.06"/><rect x="285.65" y="245.86" width="9.22" height="9.06"/><rect x="294.87" y="245.86" width="9.22" height="9.06"/><rect x="304.09" y="245.86" width="9.22" height="9.06"/><rect x="313.31" y="245.86" width="9.22" height="9.06"/><rect x="322.53" y="245.86" width="9.22" height="9.06"/><rect x="331.75" y="245.86" width="9.22" height="9.06"/><rect x="340.97" y="245.86" width="9.22" height="9.06"/><rect x="350.19" y="245.86" width="9.22" height="9.06"/><rect x="359.41" y="245.86" width="9.22" height="9.06"/><rect x="368.63" y="245.86" width="9.22" height="9.06"/><rect x="377.85" y="245.86" width="9.22" height="9.06"/><rect x="387.07" y="245.86" width="9.22" height="9.06"/><rect x="396.29" y="245.86" width="9.22" height="9.06"/><rect x="405.51" y="245.86" width="9.22" height="9.06"/><rect x="414.73" y="245.86" width="9.22" height="9.06"/><rect x="423.95" y="245.86" width="9.22" height="9.06"/><rect x="433.17" y="245.86" width="9.22" height="9.06"/><rect x="442.39" y="245.86" width="9.22" height="9.06"/><rect x="451.61" y="245.86" width="9.22" height="9.06"/><rect x="460.83" y="245.86" width="9.22" height="9.06"/><rect x="470.05" y="245.86" width="9.22" height="9.06"/><rect x="479.27" y="245.86" width="9.22" height="9.06"/><rect x="488.49" y="245.86" width="9.22" height="9.06"/><rect x="497.71" y="245.86" width="9.22" height="9.06"/><rect x="506.93" y="245.86" width="9.22" height="9.06"/><rect x="516.15" y="245.86" width="9.22" height="9.06"/><rect x="525.37" y="245.86" width="9.22" height="9.06"/><rect x="534.59" y="245.86" width="9.22" height="9.06"/><rect x="543.81" y="245.86" width="9.22" height="9.06"/><rect x="553.03" y="245.86" width="9.22" height="9.06"/><rect x="267.21" y="254.93" width="9.22" height="9.06"/><rect x="276.43" y="254.93" width="9.22" height="9.06"/><rect x="285.65" y="254.93" width="9.22" height="9.06"/><rect x="294.87" y="254.93" width="9.22" height="9.06"/><rect x="304.09" y="254.93" width="9.22" height="9.06"/><rect x="313.31" y="254.93" width="9.22" height="9.06"/><rect x="322.53" y="254.93" width="9.22" height="9.06"/><rect x="331.75" y="254.93" width="9.22" height="9.06"/><rect x="340.97" y="254.93" width="9.22" height="9.06"/><rect x="350.19" y="254.93" width="9.22" height="9.06"/><rect x="359.41" y="254.93" width="9.22" height="9.06"/><rect x="368.63" y="254.93" width="9.22" height="9.06"/><rect x="377.85" y="254.93" width="9.22" height="9.06"/><rect x="387.07" y="254.93" width="9.22" height="9.06"/><rect x="396.29" y="254.93" width="9.22" height="9.06"/><rect x="405.51" y="254.93" width="9.22" height="9.06"/><rect x="414.73" y="254.93" width="9.22" height="9.06"/><rect x="423.95" y="254.93" width="9.22" height="9.06"/><rect x="433.17" y="254.93" width="9.22" height="9.06"/><rect x="442.39" y="254.93" width="9.22" height="9.06"/><rect x="451.61" y="254.93" width="9.22" height="9.06"/><rect x="460.83" y="254.93" width="9.22" height="9.06"/><rect x="470.05" y="254.93" width="9.22" height="9.06"/><rect x="479.27" y="254.93" width="9.22" height="9.06"/><rect x="488.49" y="254.93" width="9.22" height="9.06"/><rect x="497.71" y="254.93" width="9.22" height="9.06"/><rect x="506.93" y="254.93" width="9.22" height="9.06"/><rect x="516.15" y="254.93" width="9.22" height="9.06"/><rect x="525.37" y="254.93" width="9.22" height="9.06"/><rect x="534.59" y="254.93" width="9.22" height="9.06"/><rect x="543.81" y="254.93" width="9.22" height="9.06"/><rect x="553.03" y="254.93" width="9.22" height="9.06"/><rect x="276.43" y="263.99" width="9.22" height="9.06"/><rect x="285.65" y="263.99" width="9.22" height="9.06"/><rect x="294.87" y="263.99" width="9.22" height="9.06"/><rect x="304.09" y="263.99" width="9.22" height="9.06"/><rect x="313.31" y="263.99" width="9.22" height="9.06"/><rect x="322.53" y="263.99" width="9.22" height="9.06"/><rect x="331.75" y="263.99" width="9.22" height="9.06"/><rect x="340.97" y="263.99" width="9.22" height="9.06"/><rect x="350.19" y="263.99" width="9.22" height="9.06"/><rect x="359.41" y="263.99" width="9.22" height="9.06"/><rect x="368.63" y="263.99" width="9.22" height="9.06"/><rect x="377.85" y="263.99" width="9.22" height="9.06"/><rect x="387.07" y="263.99" width="9.22" height="9.06"/><rect x="396.29" y="263.99" width="9.22" height="9.06"/><rect x="405.51" y="263.99" width="9.22" height="9.06"/><rect x="414.73" y="263.99" width="9.22" height="9.06"/><rect x="423.95" y="263.99" width="9.22" height="9.06"/><rect x="433.17" y="263.99" width="9.22" height="9.06"/><rect x="442.39" y="263.99" width="9.22" height="9.06"/><rect x="451.61" y="263.99" width="9.22" height="9.06"/><rect x="460.83" y="263.99" width="9.22" height="9.06"/><rect x="470.05" y="263.99" width="9.22" height="9.06"/><rect x="479.27" y="263.99" width="9.22" height="9.06"/><rect x="488.49" y="263.99" width="9.22" height="9.06"/><rect x="497.71" y="263.99" width="9.22" height="9.06"/><rect x="506.93" y="263.99" width="9.22" height="9.06"/><rect x="516.15" y="263.99" width="9.22" height="9.06"/><rect x="525.37" y="263.99" width="9.22" height="9.06"/><rect x="534.59" y="263.99" width="9.22" height="9.06"/><rect x="543.81" y="263.99" width="9.22" height="9.06"/><rect x="553.03" y="263.99" width="9.22" height="9.06"/><rect x="285.65" y="273.06" width="9.22" height="9.06"/><rect x="294.87" y="273.06" width="9.22" height="9.06"/><rect x="304.09" y="273.06" width="9.22" height="9.06"/><rect x="313.31" y="273.06" width="9.22" height="9.06"/><rect x="322.53" y="273.06" width="9.22" height="9.06"/><rect x="331.75" y="273.06" width="9.22" height="9.06"/><rect x="340.97" y="273.06" width="9.22" height="9.06"/><rect x="350.19" y="273.06" width="9.22" height="9.06"/><rect x="359.41" y="273.06" width="9.22" height="9.06"/><rect x="368.63" y="273.06" width="9.22" height="9.06"/><rect x="377.85" y="273.06" width="9.22" height="9.06"/><rect x="387.07" y="273.06" width="9.22" height="9.06"/><rect x="396.29" y="273.06" width="9.22" height="9.06"/><rect x="405.51" y="273.06" width="9.22" height="9.06"/><rect x="414.73" y="273.06" width="9.22" height="9.06"/><rect x="423.95" y="273.06" width="9.22" height="9.06"/><rect x="433.17" y="273.06" width="9.22" height="9.06"/><rect x="442.39" y="273.06" width="9.22" height="9.06"/><rect x="451.61" y="273.06" width="9.22" height="9.06"/><rect x="460.83" y="273.06" width="9.22" height="9.06"/><rect x="470.05" y="273.06" width="9.22" height="9.06"/><rect x="479.27" y="273.06" width="9.22" height="9.06"/><rect x="488.49" y="273.06" width="9.22" height="9.06"/><rect x="497.71" y="273.06" width="9.22" height="9.06"/><rect x="506.93" y="273.06" width="9.22" height="9.06"/><rect x="516.15" y="273.06" width="9.22" height="9.06"/><rect x="525.37" y="273.06" width="9.22" height="9.06"/><rect x="534.59" y="273.06" width="9.22" height="9.06"/><rect x="543.81" y="273.06" width="9.22" height="9.06"/><rect x="553.03" y="273.06" width="9.22" height="9.06"/><rect x="294.87" y="282.12" width="9.22" height="9.06"/><rect x="304.09" y="282.12" width="9.22" height="9.06"/><rect x="313.31" y="282.12" width="9.22" height="9.06"/><rect x="322.53" y="282.12" width="9.22" height="9.06"/><rect x="331.75" y="282.12" width="9.22" height="9.06"/><rect x="340.97" y="282.12" width="9.22" height="9.06"/><rect x="350.19" y="282.12" width="9.22" height="9.06"/><rect x="359.41" y="282.12" width="9.22" height="9.06"/><rect x="368.63" y="282.12" width="9.22" height="9.06"/><rect x="377.85" y="282.12" width="9.22" height="9.06"/><rect x="387.07" y="282.12" width="9.22" height="9.06"/><rect x="396.29" y="282.12" width="9.22" height="9.06"/><rect x="405.51" y="282.12" width="9.22" height="9.06"/><rect x="414.73" y="282.12" width="9.22" height="9.06"/><rect x="423.95" y="282.12" width="9.22" height="9.06"/><rect x="433.17" y="282.12" width="9.22" height="9.06"/><rect x="442.39" y="282.12" width="9.22" height="9.06"/><rect x="451.61" y="282.12" width="9.22" height="9.06"/><rect x="460.83" y="282.12" width="9.22" height="9.06"/><rect x="470.05" y="282.12" width="9.22" height="9.06"/><rect x="479.27" y="282.12" width="9.22" height="9.06"/><rect x="488.49" y="282.12" width="9.22" height="9.06"/><rect x="497.71" y="282.12" width="9.22" height="9.06"/><rect x="506.93" y="282.12" width="9.22" height="9.06"/><rect x="516.15" y="282.12" width="9.22" height="9.06"/><rect x="525.37" y="282.12" width="9.22" height="9.06"/><rect x="534.59" y="282.12" width="9.22" height="9.06"/><rect x="543.81" y="282.12" width="9.22" height="9.06"/><rect x="553.03" y="282.12" width="9.22" height="9.06"/><rect x="304.09" y="291.18" width="9.22" height="9.06"/><rect x="313.31" y="291.18" width="9.22" height="9.06"/><rect x="322.53" y="291.18" width="9.22" height="9.06"/><rect x="331.75" y="291.18" width="9.22" height="9.06"/><rect x="340.97" y="291.18" width="9.22" height="9.06"/><rect x="350.19" y="291.18" width="9.22" height="9.06"/><rect x="359.41" y="291.18" width="9.22" height="9.06"/><rect x="368.63" y="291.18" width="9.22" height="9.06"/><rect x="377.85" y="291.18" width="9.22" height="9.06"/><rect x="387.07" y="291.18" width="9.22" height="9.06"/><rect x="396.29" y="291.18" width="9.22" height="9.06"/><rect x="405.51" y="291.18" width="9.22" height="9.06"/><rect x="414.73" y="291.18" width="9.22" height="9.06"/><rect x="423.95" y="291.18" width="9.22" height="9.06"/><rect x="433.17" y="291.18" width="9.22" height="9.06"/><rect x="442.39" y="291.18" width="9.22" height="9.06"/><rect x="451.61" y="291.18" width="9.22" height="9.06"/><rect x="460.83" y="291.18" width="9.22" height="9.06"/><rect x="470.05" y="291.18" width="9.22" height="9.06"/><rect x="479.27" y="291.18" width="9.22" height="9.06"/><rect x="488.49" y="291.18" width="9.22" height="9.06"/><rect x="497.71" y="291.18" width="9.22" height="9.06"/><rect x="506.93" y="291.18" width="9.22" height="9.06"/><rect x="516.15" y="291.18" width="9.22" height="9.06"/><rect x="525.37" y="291.18" width="9.22" height="9.06"/><rect x="534.59" y="291.18" width="9.22" height="9.06"/><rect x="543.81" y="291.18" width="9.22" height="9.06"/><rect x="553.03" y="291.18" width="9.22" height="9.06"/><rect x="313.31" y="300.25" width="9.22" height="9.06"/><rect x="322.53" y="300.25" width="9.22" height="9.06"/><rect x="331.75" y="300.25" width="9.22" height="9.06"/><rect x="340.97" y="300.25" width="9.22" height="9.06"/><rect x="350.19" y="300.25" width="9.22" height="9.06"/><rect x="359.41" y="300.25" width="9.22" height="9.06"/><rect x="368.63" y="300.25" width="9.22" height="9.06"/><rect x="377.85" y="300.25" width="9.22" height="9.06"/><rect x="387.07" y="300.25" width="9.22" height="9.06"/><rect x="396.29" y="300.25" width="9.22" height="9.06"/><rect x="405.51" y="300.25" width="9.22" height="9.06"/><rect x="414.73" y="300.25" width="9.22" height="9.06"/><rect x="423.95" y="300.25" width="9.22" height="9.06"/><rect x="433.17" y="300.25" width="9.22" height="9.06"/><rect x="442.39" y="300.25" width="9.22" height="9.06"/><rect x="451.61" y="300.25" width="9.22" height="9.06"/><rect x="460.83" y="300.25" width="9.22" height="9.06"/><rect x="470.05" y="300.25" width="9.22" height="9.06"/><rect x="479.27" y="300.25" width="9.22" height="9.06"/><rect x="488.49" y="300.25" width="9.22" height="9.06"/><rect x="497.71" y="300.25" width="9.22" height="9.06"/><rect x="506.93" y="300.25" width="9.22" height="9.06"/><rect x="516.15" y="300.25" width="9.22" height="9.06"/><rect x="525.37" y="300.25" width="9.22" height="9.06"/><rect x="534.59" y="300.25" width="9.22" height="9.06"/><rect x="543.81" y="300.25" width="9.22" height="9.06"/><rect x="553.03" y="300.25" width="9.22" height="9.06"/><rect x="322.53" y="309.31" width="9.22" height="9.06"/><rect x="331.75" y="309.31" width="9.22" height="9.06"/><rect x="340.97" y="309.31" width="9.22" height="9.06"/><rect x="350.19" y="309.31" width="9.22" height="9.06"/><rect x="359.41" y="309.31" width="9.22" height="9.06"/><rect x="368.63" y="309.31" width="9.22" height="9.06"/><rect x="377.85" y="309.31" width="9.22" height="9.06"/><rect x="387.07" y="309.31" width="9.22" height="9.06"/><rect x="396.29" y="309.31" width="9.22" height="9.06"/><rect x="405.51" y="309.31" width="9.22" height="9.06"/><rect x="414.73" y="309.31" width="9.22" height="9.06"/><rect x="423.95" y="309.31" width="9.22" height="9.06"/><rect x="433.17" y="309.31" width="9.22" height="9.06"/><rect x="442.39" y="309.31" width="9.22" height="9.06"/><rect x="451.61" y="309.31" width="9.22" height="9.06"/><rect x="460.83" y="309.31" width="9.22" height="9.06"/><rect x="470.05" y="309.31" width="9.22" height="9.06"/><rect x="479.27" y="309.31" width="9.22" height="9.06"/><rect x="488.49" y="309.31" width="9.22" height="9.06"/><rect x="497.71" y="309.31" width="9.22" height="9.06"/><rect x="506.93" y="309.31" width="9.22" height="9.06"/><rect x="516.15" y="309.31" width="9.22" height="9.06"/><rect x="525.37" y="309.31" width="9.22" height="9.06"/><rect x="534.59" y="309.31" width="9.22" height="9.06"/><rect x="543.81" y="309.31" width="9.22" height="9.06"/><rect x="553.03" y="309.31" width="9.22" height="9.06"/><rect x="331.75" y="318.38" width="9.22" height="9.06"/><rect x="340.97" y="318.38" width="9.22" height="9.06"/><rect x="350.19" y="318.38" width="9.22" height="9.06"/><rect x="359.41" y="318.38" width="9.22" height="9.06"/><rect x="368.63" y="318.38" width="9.22" height="9.06"/><rect x="377.85" y="318.38" width="9.22" height="9.06"/><rect x="387.07" y="318.38" width="9.22" height="9.06"/><rect x="396.29" y="318.38" width="9.22" height="9.06"/><rect x="405.51" y="318.38" width="9.22" height="9.06"/><rect x="414.73" y="318.38" width="9.22" height="9.06"/><rect x="423.95" y="318.38" width="9.22" height="9.06"/><rect x="433.17" y="318.38" width="9.22" height="9.06"/><rect x="442.39" y="318.38" width="9.22" height="9.06"/><rect x="451.61" y="318.38" width="9.22" height="9.06"/><rect x="460.83" y="318.38" width="9.22" height="9.06"/><rect x="470.05" y="318.38" width="9.22" height="9.06"/><rect x="479.27" y="318.38" width="9.22" height="9.06"/><rect x="488.49" y="318.38" width="9.22" height="9.06"/><rect x="497.71" y="318.38" width="9.22" height="9.06"/><rect x="506.93" y="318.38" width="9.22" height="9.06"/><rect x="516.15" y="318.38" width="9.22" height="9.06"/><rect x="525.37" y="318.38" width="9.22" height="9.06"/><rect x="534.59" y="318.38" width="9.22" height="9.06"/><rect x="543.81" y="318.38" width="9.22" height="9.06"/><rect x="553.03" y="318.38" width="9.22" height="9.06"/><rect x="340.97" y="327.44" width="9.22" height="9.06"/><rect x="350.19" y="327.44" width="9.22" height="9.06"/><rect x="359.41" y="327.44" width="9.22" height="9.06"/><rect x="368.63" y="327.44" width="9.22" height="9.06"/><rect x="377.85" y="327.44" width="9.22" height="9.06"/><rect x="387.07" y="327.44" width="9.22" height="9.06"/><rect x="396.29" y="327.44" width="9.22" height="9.06"/><rect x="405.51" y="327.44" width="9.22" height="9.06"/><rect x="414.73" y="327.44" width="9.22" height="9.06"/><rect x="423.95" y="327.44" width="9.22" height="9.06"/><rect x="433.17" y="327.44" width="9.22" height="9.06"/><rect x="442.39" y="327.44" width="9.22" height="9.06"/><rect x="451.61" y="327.44" width="9.22" height="9.06"/><rect x="460.83" y="327.44" width="9.22" height="9.06"/><rect x="470.05" y="327.44" width="9.22" height="9.06"/><rect x="479.27" y="327.44" width="9.22" height="9.06"/><rect x="488.49" y="327.44" width="9.22" height="9.06"/><rect x="497.71" y="327.44" width="9.22" height="9.06"/><rect x="506.93" y="327.44" width="9.22" height="9.06"/><rect x="516.15" y="327.44" width="9.22" height="9.06"/><rect x="525.37" y="327.44" width="9.22" height="9.06"/><rect x="534.59" y="327.44" width="9.22" height="9.06"/><rect x="543.81" y="327.44" width="9.22" height="9.06"/><rect x="553.03" y="327.44" width="9.22" height="9.06"/><rect x="350.19" y="336.50" width="9.22" height="9.06"/><rect x="359.41" y="336.50" width="9.22" height="9.06"/><rect x="368.63" y="336.50" width="9.22" height="9.06"/><rect x="377.85" y="336.50" width="9.22" height="9.06"/><rect x="387.07" y="336.50" width="9.22" height="9.06"/><rect x="396.29" y="336.50" width="9.22" height="9.06"/><rect x="405.51" y="336.50" width="9.22" height="9.06"/><rect x="414.73" y="336.50" width="9.22" height="9.06"/><rect x="423.95" y="336.50" width="9.22" height="9.06"/><rect x="433.17" y="336.50" width="9.22" height="9.06"/><rect x="442.39" y="336.50" width="9.22" height="9.06"/><rect x="451.61" y="336.50" width="9.22" height="9.06"/><rect x="460.83" y="336.50" width="9.22" height="9.06"/><rect x="470.05" y="336.50" width="9.22" height="9.06"/><rect x="479.27" y="336.50" width="9.22" height="9.06"/><rect x="488.49" y="336.50" width="9.22" height="9.06"/><rect x="497.71" y="336.50" width="9.22" height="9.06"/><rect x="506.93" y="336.50" width="9.22" height="9.06"/><rect x="516.15" y="336.50" width="9.22" height="9.06"/><rect x="525.37" y="336.50" width="9.22" height="9.06"/><rect x="534.59" y="336.50" width="9.22" height="9.06"/><rect x="543.81" y="336.50" width="9.22" height="9.06"/><rect x="553.03" y="336.50" width="9.22" height="9.06"/><rect x="359.41" y="345.57" width="9.22" height="9.06"/><rect x="368.63" y="345.57" width="9.22" height="9.06"/><rect x="377.85" y="345.57" width="9.22" height="9.06"/><rect x="387.07" y="345.57" width="9.22" height="9.06"/><rect x="396.29" y="345.57" width="9.22" height="9.06"/><rect x="405.51" y="345.57" width="9.22" height="9.06"/><rect x="414.73" y="345.57" width="9.22" height="9.06"/><rect x="423.95" y="345.57" width="9.22" height="9.06"/><rect x="433.17" y="345.57" width="9.22" height="9.06"/><rect x="442.39" y="345.57" width="9.22" height="9.06"/><rect x="451.61" y="345.57" width="9.22" height="9.06"/><rect x="460.83" y="345.57" width="9.22" height="9.06"/><rect x="470.05" y="345.57" width="9.22" height="9.06"/><rect x="479.27" y="345.57" width="9.22" height="9.06"/><rect x="488.49" y="345.57" width="9.22" height="9.06"/><rect x="497.71" y="345.57" width="9.22" height="9.06"/><rect x="506.93" y="345.57" width="9.22" height="9.06"/><rect x="516.15" y="345.57" width="9.22" height="9.06"/><rect x="525.37" y="345.57" width="9.22" height="9.06"/><rect x="534.59" y="345.57" width="9.22" height="9.06"/><rect x="543.81" y="345.57" width="9.22" height="9.06"/><rect x="553.03" y="345.57" width="9.22" height="9.06"/><rect x="368.63" y="354.63" width="9.22" height="9.06"/><rect x="377.85" y="354.63" width="9.22" height="9.06"/><rect x="387.07" y="354.63" width="9.22" height="9.06"/><rect x="396.29" y="354.63" width="9.22" height="9.06"/><rect x="405.51" y="354.63" width="9.22" height="9.06"/><rect x="414.73" y="354.63" width="9.22" height="9.06"/><rect x="423.95" y="354.63" width="9.22" height="9.06"/><rect x="433.17" y="354.63" width="9.22" height="9.06"/><rect x="442.39" y="354.63" width="9.22" height="9.06"/><rect x="451.61" y="354.63" width="9.22" height="9.06"/><rect x="460.83" y="354.63" width="9.22" height="9.06"/><rect x="470.05" y="354.63" width="9.22" height="9.06"/><rect x="479.27" y="354.63" width="9.22" height="9.06"/><rect x="488.49" y="354.63" width="9.22" height="9.06"/><rect x="497.71" y="354.63" width="9.22" height="9.06"/><rect x="506.93" y="354.63" width="9.22" height="9.06"/><rect x="516.15" y="354.63" width="9.22" height="9.06"/><rect x="525.37" y="354.63" width="9.22" height="9.06"/><rect x="534.59" y="354.63" width="9.22" height="9.06"/><rect x="543.81" y="354.63" width="9.22" height="9.06"/><rect x="553.03" y="354.63" width="9.22" height="9.06"/><rect x="377.85" y="363.70" width="9.22" height="9.06"/><rect x="387.07" y="363.70" width="9.22" height="9.06"/><rect x="396.29" y="363.70" width="9.22" height="9.06"/><rect x="405.51" y="363.70" width="9.22" height="9.06"/><rect x="414.73" y="363.70" width="9.22" height="9.06"/><rect x="423.95" y="363.70" width="9.22" height="9.06"/><rect x="433.17" y="363.70" width="9.22" height="9.06"/><rect x="442.39" y="363.70" width="9.22" height="9.06"/><rect x="451.61" y="363.70" width="9.22" height="9.06"/><rect x="460.83" y="363.70" width="9.22" height="9.06"/><rect x="470.05" y="363.70" width="9.22" height="9.06"/><rect x="479.27" y="363.70" width="9.22" height="9.06"/><rect x="488.49" y="363.70" width="9.22" height="9.06"/><rect x="497.71" y="363.70" width="9.22" height="9.06"/><rect x="506.93" y="363.70" width="9.22" height="9.06"/><rect x="516.15" y="363.70" width="9.22" height="9.06"/><rect x="525.37" y="363.70" width="9.22" height="9.06"/><rect x="534.59" y="363.70" width="9.22" height="9.06"/><rect x="543.81" y="363.70" width="9.22" height="9.06"/><rect x="553.03" y="363.70" width="9.22" height="9.06"/><rect x="387.07" y="372.76" width="9.22" height="9.06"/><rect x="396.29" y="372.76" width="9.22" height="9.06"/><rect x="405.51" y="372.76" width="9.22" height="9.06"/><rect x="414.73" y="372.76" width="9.22" height="9.06"/><rect x="423.95" y="372.76" width="9.22" height="9.06"/><rect x="433.17" y="372.76" width="9.22" height="9.06"/><rect x="442.39" y="372.76" width="9.22" height="9.06"/><rect x="451.61" y="372.76" width="9.22" height="9.06"/><rect x="460.83" y="372.76" width="9.22" height="9.06"/><rect x="470.05" y="372.76" width="9.22" height="9.06"/><rect x="479.27" y="372.76" width="9.22" height="9.06"/><rect x="488.49" y="372.76" width="9.22" height="9.06"/><rect x="497.71" y="372.76" width="9.22" height="9.06"/><rect x="506.93" y="372.76" width="9.22" height="9.06"/><rect x="516.15" y="372.76" width="9.22" height="9.06"/><rect x="525.37" y="372.76" width="9.22" height="9.06"/><rect x="534.59" y="372.76" width="9.22" height="9.06"/><rect x="543.81" y="372.76" width="9.22" height="9.06"/><rect x="553.03" y="372.76" width="9.22" height="9.06"/><rect x="396.29" y="381.82" width="9.22" height="9.06"/><rect x="405.51" y="381.82" width="9.22" height="9.06"/><rect x="414.73" y="381.82" width="9.22" height="9.06"/><rect x="423.95" y="381.82" width="9.22" height="9.06"/><rect x="433.17" y="381.82" width="9.22" height="9.06"/><rect x="442.39" y="381.82" width="9.22" height="9.06"/><rect x="451.61" y="381.82" width="9.22" height="9.06"/><rect x="460.83" y="381.82" width="9.22" height="9.06"/><rect x="470.05" y="381.82" width="9.22" height="9.06"/><rect x="479.27" y="381.82" width="9.22" height="9.06"/><rect x="488.49" y="381.82" width="9.22" height="9.06"/><rect x="497.71" y="381.82" width="9.22" height="9.06"/><rect x="506.93" y="381.82" width="9.22" height="9.06"/><rect x="516.15" y="381.82" width="9.22" height="9.06"/><rect x="525.37" y="381.82" width="9.22" height="9.06"/><rect x="534.59" y="381.82" width="9.22" height="9.06"/><rect x="543.81" y="381.82" width="9.22" height="9.06"/><rect x="553.03" y="381.82" width="9.22" height="9.06"/><rect x="405.51" y="390.89" width="9.22" height="9.06"/><rect x="414.73" y="390.89" width="9.22" height="9.06"/><rect x="423.95" y="390.89" width="9.22" height="9.06"/><rect x="433.17" y="390.89" width="9.22" height="9.06"/><rect x="442.39" y="390.89" width="9.22" height="9.06"/><rect x="451.61" y="390.89" width="9.22" height="9.06"/><rect x="460.83" y="390.89" width="9.22" height="9.06"/><rect x="470.05" y="390.89" width="9.22" height="9.06"/><rect x="479.27" y="390.89" width="9.22" height="9.06"/><rect x="488.49" y="390.89" width="9.22" height="9.06"/><rect x="497.71" y="390.89" width="9.22" height="9.06"/><rect x="506.93" y="390.89" width="9.22" height="9.06"/><rect x="516.15" y="390.89" width="9.22" height="9.06"/><rect x="525.37" y="390.89" width="9.22" height="9.06"/><rect x="534.59" y="390.89" width="9.22" height="9.06"/><rect x="543.81" y="390.89" width="9.22" height="9.06"/><rect x="553.03" y="390.89" width="9.22" height="9.06"/><rect x="414.73" y="399.95" width="9.22" height="9.06"/><rect x="423.95" y="399.95" width="9.22" height="9.06"/><rect x="433.17" y="399.95" width="9.22" height="9.06"/><rect x="442.39" y="399.95" width="9.22" height="9.06"/><rect x="451.61" y="399.95" width="9.22" height="9.06"/><rect x="460.83" y="399.95" width="9.22" height="9.06"/><rect x="470.05" y="399.95" width="9.22" height="9.06"/><rect x="479.27" y="399.95" width="9.22" height="9.06"/><rect x="488.49" y="399.95" width="9.22" height="9.06"/><rect x="497.71" y="399.95" width="9.22" height="9.06"/><rect x="506.93" y="399.95" width="9.22" height="9.06"/><rect x="516.15" y="399.95" width="9.22" height="9.06"/><rect x="525.37" y="399.95" width="9.22" height="9.06"/><rect x="534.59" y="399.95" width="9.22" height="9.06"/><rect x="543.81" y="399.95" width="9.22" height="9.06"/><rect x="553.03" y="399.95" width="9.22" height="9.06"/><rect x="423.95" y="409.02" width="9.22" height="9.06"/><rect x="433.17" y="409.02" width="9.22" height="9.06"/><rect x="442.39" y="409.02" width="9.22" height="9.06"/><rect x="451.61" y="409.02" width="9.22" height="9.06"/><rect x="460.83" y="409.02" width="9.22" height="9.06"/><rect x="470.05" y="409.02" width="9.22" height="9.06"/><rect x="479.27" y="409.02" width="9.22" height="9.06"/><rect x="488.49" y="409.02" width="9.22" height="9.06"/><rect x="497.71" y="409.02" width="9.22" height="9.06"/><rect x="506.93" y="409.02" width="9.22" height="9.06"/><rect x="516.15" y="409.02" width="9.22" height="9.06"/><rect x="525.37" y="409.02" width="9.22" height="9.06"/><rect x="534.59" y="409.02" width="9.22" height="9.06"/><rect x="543.81" y="409.02" width="9.22" height="9.06"/><rect x="553.03" y="409.02" width="9.22" height="9.06"/><rect x="433.17" y="418.08" width="9.22" height="9.06"/><rect x="442.39" y="418.08" width="9.22" height="9.06"/><rect x="451.61" y="418.08" width="9.22" height="9.06"/><rect x="460.83" y="418.08" width="9.22" height="9.06"/><rect x="470.05" y="418.08" width="9.22" height="9.06"/><rect x="479.27" y="418.08" width="9.22" height="9.06"/><rect x="488.49" y="418.08" width="9.22" height="9.06"/><rect x="497.71" y="418.08" width="9.22" height="9.06"/><rect x="506.93" y="418.08" width="9.22" height="9.06"/><rect x="516.15" y="418.08" width="9.22" height="9.06"/><rect x="525.37" y="418.08" width="9.22" height="9.06"/><rect x="534.59" y="418.08" width="9.22" height="9.06"/><rect x="543.81" y="418.08" width="9.22" height="9.06"/><rect x="553.03" y="418.08" width="9.22" height="9.06"/><rect x="442.39" y="427.14" width="9.22" height="9.06"/><rect x="451.61" y="427.14" width="9.22" height="9.06"/><rect x="460.83" y="427.14" width="9.22" height="9.06"/><rect x="470.05" y="427.14" width="9.22" height="9.06"/><rect x="479.27" y="427.14" width="9.22" height="9.06"/><rect x="488.49" y="427.14" width="9.22" height="9.06"/><rect x="497.71" y="427.14" width="9.22" height="9.06"/><rect x="506.93" y="427.14" width="9.22" height="9.06"/><rect x="516.15" y="427.14" width="9.22" height="9.06"/><rect x="525.37" y="427.14" width="9.22" height="9.06"/><rect x="534.59" y="427.14" width="9.22" height="9.06"/><rect x="543.81" y="427.14" width="9.22" height="9.06"/><rect x="553.03" y="427.14" width="9.22" height="9.06"/><rect x="451.61" y="436.21" width="9.22" height="9.06"/><rect x="460.83" y="436.21" width="9.22" height="9.06"/><rect x="470.05" y="436.21" width="9.22" height="9.06"/><rect x="479.27" y="436.21" width="9.22" height="9.06"/><rect x="488.49" y="436.21" width="9.22" height="9.06"/><rect x="497.71" y="436.21" width="9.22" height="9.06"/><rect x="506.93" y="436.21" width="9.22" height="9.06"/><rect x="516.15" y="436.21" width="9.22" height="9.06"/><rect x="525.37" y="436.21" width="9.22" height="9.06"/><rect x="534.59" y="436.21" width="9.22" height="9.06"/><rect x="543.81" y="436.21" width="9.22" height="9.06"/><rect x="553.03" y="436.21" width="9.22" height="9.06"/><rect x="460.83" y="445.27" width="9.22" height="9.06"/><rect x="470.05" y="445.27" width="9.22" height="9.06"/><rect x="479.27" y="445.27" width="9.22" height="9.06"/><rect x="488.49" y="445.27" width="9.22" height="9.06"/><rect x="497.71" y="445.27" width="9.22" height="9.06"/><rect x="506.93" y="445.27" width="9.22" height="9.06"/><rect x="516.15" y="445.27" width="9.22" height="9.06"/><rect x="525.37" y="445.27" width="9.22" height="9.06"/><rect x="534.59" y="445.27" width="9.22" height="9.06"/><rect x="543.81" y="445.27" width="9.22" height="9.06"/><rect x="553.03" y="445.27" width="9.22" height="9.06"/><rect x="470.05" y="454.34" width="9.22" height="9.06"/><rect x="479.27" y="454.34" width="9.22" height="9.06"/><rect x="488.49" y="454.34" width="9.22" height="9.06"/><rect x="497.71" y="454.34" width="9.22" height="9.06"/><rect x="506.93" y="454.34" width="9.22" height="9.06"/><rect x="516.15" y="454.34" width="9.22" height="9.06"/><rect x="525.37" y="454.34" width="9.22" height="9.06"/><rect x="534.59" y="454.34" width="9.22" height="9.06"/><rect x="543.81" y="454.34" width="9.22" height="9.06"/><rect x="553.03" y="454.34" width="9.22" height="9.06"/><rect x="479.27" y="463.40" width="9.22" height="9.06"/><rect x="488.49" y="463.40" width="9.22" height="9.06"/><rect x="497.71" y="463.40" width="9.22" height="9.06"/><rect x="506.93" y="463.40" width="9.22" height="9.06"/><rect x="516.15" y="463.40" width="9.22" height="9.06"/><rect x="525.37" y="463.40" width="9.22" height="9.06"/><rect x="534.59" y="463.40" width="9.22" height="9.06"/><rect x="543.81" y="463.40" width="9.22" height="9.06"/><rect x="553.03" y="463.40" width="9.22" height="9.06"/><rect x="488.49" y="472.46" width="9.22" height="9.06"/><rect x="497.71" y="472.46" width="9.22" height="9.06"/><rect x="506.93" y="472.46" width="9.22" height="9.06"/><rect x="516.15" y="472.46" width="9.22" height="9.06"/><rect x="525.37" y="472.46" width="9.22" height="9.06"/><rect x="534.59" y="472.46" width="9.22" height="9.06"/><rect x="543.81" y="472.46" width="9.22" height="9.06"/><rect x="553.03" y="472.46" width="9.22" height="9.06"/><rect x="497.71" y="481.53" width="9.22" height="9.06"/><rect x="506.93" y="481.53" width="9.22" height="9.06"/><rect x="516.15" y="481.53" width="9.22" height="9.06"/><rect x="525.37" y="481.53" width="9.22" height="9.06"/><rect x="534.59" y="481.53" width="9.22" height="9.06"/><rect x="543.81" y="481.53" width="9.22" height="9.06"/><rect x="553.03" y="481.53" width="9.22" height="9.06"/><rect x="506.93" y="490.59" width="9.22" height="9.06"/><rect x="516.15" y="490.59" width="9.22" height="9.06"/><rect x="525.37" y="490.59" width="9.22" height="9.06"/><rect x="534.59" y="490.59" width="9.22" height="9.06"/><rect x="543.81" y="490.59" width="9.22" height="9.06"/><rect x="553.03" y="490.59" width="9.22" height="9.06"/><rect x="516.15" y="499.66" width="9.22" height="9.06"/><rect x="525.37" y="499.66" width="9.22" height="9.06"/><rect x="534.59" y="499.66" width="9.22" height="9.06"/><rect x="543.81" y="499.66" width="9.22" height="9.06"/><rect x="553.03" y="499.66" width="9.22" height="9.06"/><rect x="525.37" y="508.72" width="9.22" height="9.06"/><rect x="534.59" y="508.72" width="9.22" height="9.06"/><rect x="543.81" y="508.72" width="9.22" height="9.06"/><rect x="553.03" y="508.72" width="9.22" height="9.06"/><rect x="534.59" y="517.78" width="9.22" height="9.06"/><rect x="543.81" y="517.78" width="9.22" height="9.06"/><rect x="553.03" y="517.78" width="9.22" height="9.06"/><rect x="543.81" y="526.85" width="9.22" height="9.06"/><rect x="553.03" y="526.85" width="9.22" height="9.06"/><rect x="553.03" y="535.91" width="9.22" height="9.06"/></g><g stroke="#4a4a4a" stroke-width="0.38"><rect x="132.18" y="122.19" width="2.67" height="2.63" fill="#8fbad8" stroke-width="0.4" stroke="#5a6670"/><rect x="141.73" y="122.50" width="2.03" height="1.99" fill="#9fbccc" stroke-width="0.4" stroke="#5a6670"/><rect x="150.95" y="122.50" width="2.03" height="1.99" fill="#9fbccc" stroke-width="0.4" stroke="#5a6670"/><rect x="156.57" y="118.97" width="9.22" height="9.06" fill="#7a1528"/><rect x="169.85" y="122.96" width="1.11" height="1.09" fill="#8a9aa0" stroke-width="0.4" stroke="#5a6670"/><rect x="178.61" y="122.50" width="2.03" height="1.99" fill="#9fbccc" stroke-width="0.4" stroke="#5a6670"/><rect x="186.90" y="121.60" width="3.87" height="3.81" fill="#e0dfdb"/><rect x="196.12" y="121.60" width="3.87" height="3.81" fill="#e0dfdb"/><rect x="205.34" y="121.60" width="3.87" height="3.81" fill="#e0dfdb"/><rect x="215.49" y="122.50" width="2.03" height="1.99" fill="#9fbccc" stroke-width="0.4" stroke="#5a6670"/><rect x="224.38" y="122.19" width="2.67" height="2.63" fill="#8fbad8" stroke-width="0.4" stroke="#5a6670"/><rect x="233.14" y="121.73" width="3.60" height="3.53" fill="#7fb0d8" stroke-width="0.3" stroke="#5a6a78"/><rect x="243.61" y="122.96" width="1.11" height="1.09" fill="#8a9aa0" stroke-width="0.4" stroke="#5a6670"/><rect x="252.37" y="122.50" width="2.03" height="1.99" fill="#9fbccc" stroke-width="0.4" stroke="#5a6670"/><rect x="261.26" y="122.19" width="2.67" height="2.63" fill="#8fbad8" stroke-width="0.4" stroke="#5a6670"/><rect x="270.48" y="122.19" width="2.67" height="2.63" fill="#8fbad8" stroke-width="0.4" stroke="#5a6670"/><rect x="279.61" y="122.10" width="2.86" height="2.81" fill="#c2dbe8" stroke-width="0.3" stroke="#5a6a78"/><rect x="288.32" y="121.60" width="3.87" height="3.81" fill="#e0dfdb"/><rect x="298.47" y="122.50" width="2.03" height="1.99" fill="#9fbccc" stroke-width="0.4" stroke="#5a6670"/><rect x="307.36" y="122.19" width="2.67" height="2.63" fill="#8fbad8" stroke-width="0.4" stroke="#5a6670"/><rect x="315.98" y="121.60" width="3.87" height="3.81" fill="#e0dfdb"/><rect x="325.20" y="121.60" width="3.87" height="3.81" fill="#e0dfdb"/><rect x="335.02" y="122.19" width="2.67" height="2.63" fill="#8fbad8" stroke-width="0.4" stroke="#5a6670"/><rect x="345.03" y="122.96" width="1.11" height="1.09" fill="#8a9aa0" stroke-width="0.4" stroke="#5a6670"/><rect x="353.79" y="122.50" width="2.03" height="1.99" fill="#9fbccc" stroke-width="0.4" stroke="#5a6670"/><rect x="363.01" y="122.50" width="2.03" height="1.99" fill="#9fbccc" stroke-width="0.4" stroke="#5a6670"/><rect x="371.30" y="121.60" width="3.87" height="3.81" fill="#e0dfdb"/><rect x="380.52" y="121.60" width="3.87" height="3.81" fill="#e0dfdb"/><rect x="390.67" y="122.50" width="2.03" height="1.99" fill="#9fbccc" stroke-width="0.4" stroke="#5a6670"/><rect x="398.96" y="121.60" width="3.87" height="3.81" fill="#e0dfdb"/><rect x="409.11" y="122.50" width="2.03" height="1.99" fill="#9fbccc" stroke-width="0.4" stroke="#5a6670"/><rect x="417.40" y="121.60" width="3.87" height="3.81" fill="#e0dfdb"/><rect x="427.55" y="122.50" width="2.03" height="1.99" fill="#9fbccc" stroke-width="0.4" stroke="#5a6670"/><rect x="435.84" y="121.60" width="3.87" height="3.81" fill="#e0dfdb"/><rect x="445.99" y="122.50" width="2.03" height="1.99" fill="#9fbccc" stroke-width="0.4" stroke="#5a6670"/><rect x="455.67" y="122.96" width="1.11" height="1.09" fill="#8a9aa0" stroke-width="0.4" stroke="#5a6670"/><rect x="463.64" y="121.73" width="3.60" height="3.53" fill="#7fb0d8" stroke-width="0.3" stroke="#5a6a78"/><rect x="473.23" y="122.10" width="2.86" height="2.81" fill="#c2dbe8" stroke-width="0.3" stroke="#5a6a78"/><rect x="482.87" y="122.50" width="2.03" height="1.99" fill="#9fbccc" stroke-width="0.4" stroke="#5a6670"/><rect x="491.76" y="122.19" width="2.67" height="2.63" fill="#8fbad8" stroke-width="0.4" stroke="#5a6670"/><rect x="500.98" y="122.19" width="2.67" height="2.63" fill="#8fbad8" stroke-width="0.4" stroke="#5a6670"/><rect x="510.99" y="122.96" width="1.11" height="1.09" fill="#8a9aa0" stroke-width="0.4" stroke="#5a6670"/><rect x="519.75" y="122.50" width="2.03" height="1.99" fill="#9fbccc" stroke-width="0.4" stroke="#5a6670"/><rect x="528.97" y="122.50" width="2.03" height="1.99" fill="#9fbccc" stroke-width="0.4" stroke="#5a6670"/><rect x="538.65" y="122.96" width="1.11" height="1.09" fill="#8a9aa0" stroke-width="0.4" stroke="#5a6670"/><rect x="545.88" y="121.01" width="5.07" height="4.99" fill="#fbc8ac"/><rect x="556.63" y="122.50" width="2.03" height="1.99" fill="#9fbccc" stroke-width="0.4" stroke="#5a6670"/><rect x="141.40" y="131.25" width="2.67" height="2.63" fill="#8fbad8" stroke-width="0.4" stroke="#5a6670"/><rect x="150.16" y="130.80" width="3.60" height="3.53" fill="#7fb0d8" stroke-width="0.3" stroke="#5a6a78"/><rect x="159.38" y="130.80" width="3.60" height="3.53" fill="#7fb0d8" stroke-width="0.3" stroke="#5a6a78"/><rect x="168.09" y="130.30" width="4.61" height="4.53" fill="#6aa0d0"/><rect x="177.82" y="130.80" width="3.60" height="3.53" fill="#7fb0d8" stroke-width="0.3" stroke="#5a6a78"/><rect x="187.83" y="131.57" width="2.03" height="1.99" fill="#9fbccc" stroke-width="0.4" stroke="#5a6670"/><rect x="197.51" y="132.02" width="1.11" height="1.09" fill="#8a9aa0" stroke-width="0.4" stroke="#5a6670"/><rect x="206.27" y="131.57" width="2.03" height="1.99" fill="#9fbccc" stroke-width="0.4" stroke="#5a6670"/><rect x="214.70" y="130.80" width="3.60" height="3.53" fill="#7fb0d8" stroke-width="0.3" stroke="#5a6a78"/><rect x="223.92" y="130.80" width="3.60" height="3.53" fill="#7fb0d8" stroke-width="0.3" stroke="#5a6a78"/><rect x="233.60" y="131.25" width="2.67" height="2.63" fill="#8fbad8" stroke-width="0.4" stroke="#5a6670"/><rect x="242.36" y="130.80" width="3.60" height="3.53" fill="#7fb0d8" stroke-width="0.3" stroke="#5a6a78"/><rect x="252.04" y="131.25" width="2.67" height="2.63" fill="#8fbad8" stroke-width="0.4" stroke="#5a6670"/><rect x="258.54" y="128.58" width="8.11" height="7.98" fill="#c0282c"/><rect x="267.21" y="128.03" width="9.22" height="9.06" fill="#7a1528"/><rect x="278.74" y="130.30" width="4.61" height="4.53" fill="#6aa0d0"/><rect x="287.95" y="130.30" width="4.61" height="4.53" fill="#6aa0d0"/><rect x="298.14" y="131.25" width="2.67" height="2.63" fill="#8fbad8" stroke-width="0.4" stroke="#5a6670"/><rect x="307.27" y="131.16" width="2.86" height="2.81" fill="#c2dbe8" stroke-width="0.3" stroke="#5a6a78"/><rect x="317.37" y="132.02" width="1.11" height="1.09" fill="#8a9aa0" stroke-width="0.4" stroke="#5a6670"/><rect x="325.80" y="131.25" width="2.67" height="2.63" fill="#8fbad8" stroke-width="0.4" stroke="#5a6670"/><rect x="335.02" y="131.25" width="2.67" height="2.63" fill="#8fbad8" stroke-width="0.4" stroke="#5a6670"/><rect x="343.04" y="130.07" width="5.07" height="4.99" fill="#fbc8ac"/><rect x="353.37" y="131.16" width="2.86" height="2.81" fill="#c2dbe8" stroke-width="0.3" stroke="#5a6a78"/><rect x="361.81" y="130.39" width="4.43" height="4.35" fill="#f8dfd0"/><rect x="371.81" y="131.16" width="2.86" height="2.81" fill="#c2dbe8" stroke-width="0.3" stroke="#5a6a78"/><rect x="380.25" y="130.39" width="4.43" height="4.35" fill="#f8dfd0"/><rect x="389.74" y="130.66" width="3.87" height="3.81" fill="#e0dfdb"/><rect x="399.89" y="131.57" width="2.03" height="1.99" fill="#9fbccc" stroke-width="0.4" stroke="#5a6670"/><rect x="407.35" y="129.84" width="5.53" height="5.44" fill="#f6ad8f"/><rect x="417.40" y="130.66" width="3.87" height="3.81" fill="#e0dfdb"/><rect x="427.13" y="131.16" width="2.86" height="2.81" fill="#c2dbe8" stroke-width="0.3" stroke="#5a6a78"/><rect x="435.48" y="130.30" width="4.61" height="4.53" fill="#6aa0d0"/><rect x="445.99" y="131.57" width="2.03" height="1.99" fill="#9fbccc" stroke-width="0.4" stroke="#5a6670"/><rect x="455.21" y="131.57" width="2.03" height="1.99" fill="#9fbccc" stroke-width="0.4" stroke="#5a6670"/><rect x="463.14" y="130.30" width="4.61" height="4.53" fill="#6aa0d0"/><rect x="473.32" y="131.25" width="2.67" height="2.63" fill="#8fbad8" stroke-width="0.4" stroke="#5a6670"/><rect x="482.54" y="131.25" width="2.67" height="2.63" fill="#8fbad8" stroke-width="0.4" stroke="#5a6670"/><rect x="491.76" y="131.25" width="2.67" height="2.63" fill="#8fbad8" stroke-width="0.4" stroke="#5a6670"/><rect x="500.52" y="130.80" width="3.60" height="3.53" fill="#7fb0d8" stroke-width="0.3" stroke="#5a6a78"/><rect x="510.11" y="131.16" width="2.86" height="2.81" fill="#c2dbe8" stroke-width="0.3" stroke="#5a6a78"/><rect x="518.46" y="130.30" width="4.61" height="4.53" fill="#6aa0d0"/><rect x="527.35" y="129.98" width="5.26" height="5.17" fill="#4c82bd"/><rect x="536.90" y="130.30" width="4.61" height="4.53" fill="#6aa0d0"/><rect x="545.79" y="129.98" width="5.26" height="5.17" fill="#4c82bd"/><rect x="555.10" y="130.07" width="5.07" height="4.99" fill="#fbc8ac"/><rect x="149.66" y="139.36" width="4.61" height="4.53" fill="#6aa0d0"/><rect x="160.17" y="140.63" width="2.03" height="1.99" fill="#9fbccc" stroke-width="0.4" stroke="#5a6670"/><rect x="169.39" y="140.63" width="2.03" height="1.99" fill="#9fbccc" stroke-width="0.4" stroke="#5a6670"/><rect x="177.31" y="139.36" width="4.61" height="4.53" fill="#6aa0d0"/><rect x="186.90" y="139.72" width="3.87" height="3.81" fill="#e0dfdb"/><rect x="196.12" y="139.72" width="3.87" height="3.81" fill="#e0dfdb"/><rect x="205.34" y="139.72" width="3.87" height="3.81" fill="#e0dfdb"/><rect x="214.19" y="139.36" width="4.61" height="4.53" fill="#6aa0d0"/><rect x="225.17" y="141.08" width="1.11" height="1.09" fill="#8a9aa0" stroke-width="0.4" stroke="#5a6670"/><rect x="233.00" y="139.72" width="3.87" height="3.81" fill="#e0dfdb"/><rect x="243.15" y="140.63" width="2.03" height="1.99" fill="#9fbccc" stroke-width="0.4" stroke="#5a6670"/><rect x="251.07" y="139.36" width="4.61" height="4.53" fill="#6aa0d0"/><rect x="261.17" y="140.22" width="2.86" height="2.81" fill="#c2dbe8" stroke-width="0.3" stroke="#5a6a78"/><rect x="270.48" y="140.31" width="2.67" height="2.63" fill="#8fbad8" stroke-width="0.4" stroke="#5a6670"/><rect x="280.03" y="140.63" width="2.03" height="1.99" fill="#9fbccc" stroke-width="0.4" stroke="#5a6670"/><rect x="289.25" y="140.63" width="2.03" height="1.99" fill="#9fbccc" stroke-width="0.4" stroke="#5a6670"/><rect x="296.58" y="138.77" width="5.81" height="5.71" fill="#2f5c9c"/><rect x="305.93" y="138.91" width="5.53" height="5.44" fill="#f6ad8f"/><rect x="315.98" y="139.72" width="3.87" height="3.81" fill="#e0dfdb"/><rect x="325.34" y="139.86" width="3.60" height="3.53" fill="#7fb0d8" stroke-width="0.3" stroke="#5a6a78"/><rect x="333.59" y="138.91" width="5.53" height="5.44" fill="#f6ad8f"/><rect x="342.81" y="138.91" width="5.53" height="5.44" fill="#f6ad8f"/><rect x="352.03" y="138.91" width="5.53" height="5.44" fill="#f6ad8f"/><rect x="361.25" y="138.91" width="5.53" height="5.44" fill="#f6ad8f"/><rect x="372.23" y="140.63" width="2.03" height="1.99" fill="#9fbccc" stroke-width="0.4" stroke="#5a6670"/><rect x="381.03" y="140.22" width="2.86" height="2.81" fill="#c2dbe8" stroke-width="0.3" stroke="#5a6a78"/><rect x="388.91" y="138.91" width="5.53" height="5.44" fill="#f6ad8f"/><rect x="398.13" y="138.91" width="5.53" height="5.44" fill="#f6ad8f"/><rect x="407.35" y="138.91" width="5.53" height="5.44" fill="#f6ad8f"/><rect x="416.57" y="138.91" width="5.53" height="5.44" fill="#f6ad8f"/><rect x="428.01" y="141.08" width="1.11" height="1.09" fill="#8a9aa0" stroke-width="0.4" stroke="#5a6670"/><rect x="434.88" y="138.77" width="5.81" height="5.71" fill="#2f5c9c"/><rect x="445.20" y="139.86" width="3.60" height="3.53" fill="#7fb0d8" stroke-width="0.3" stroke="#5a6a78"/><rect x="455.21" y="140.63" width="2.03" height="1.99" fill="#9fbccc" stroke-width="0.4" stroke="#5a6670"/><rect x="464.43" y="140.63" width="2.03" height="1.99" fill="#9fbccc" stroke-width="0.4" stroke="#5a6670"/><rect x="472.86" y="139.86" width="3.60" height="3.53" fill="#7fb0d8" stroke-width="0.3" stroke="#5a6a78"/><rect x="481.11" y="138.91" width="5.53" height="5.44" fill="#f6ad8f"/><rect x="491.30" y="139.86" width="3.60" height="3.53" fill="#7fb0d8" stroke-width="0.3" stroke="#5a6a78"/><rect x="500.98" y="140.31" width="2.67" height="2.63" fill="#8fbad8" stroke-width="0.4" stroke="#5a6670"/><rect x="508.22" y="138.36" width="6.64" height="6.53" fill="#ef8262"/><rect x="519.33" y="140.22" width="2.86" height="2.81" fill="#c2dbe8" stroke-width="0.3" stroke="#5a6a78"/><rect x="527.08" y="138.77" width="5.81" height="5.71" fill="#2f5c9c"/><rect x="536.57" y="139.04" width="5.26" height="5.17" fill="#4c82bd"/><rect x="546.12" y="139.36" width="4.61" height="4.53" fill="#6aa0d0"/><rect x="554.87" y="138.91" width="5.53" height="5.44" fill="#f6ad8f"/><rect x="160.17" y="149.69" width="2.03" height="1.99" fill="#9fbccc" stroke-width="0.4" stroke="#5a6670"/><rect x="168.97" y="149.29" width="2.86" height="2.81" fill="#c2dbe8" stroke-width="0.3" stroke="#5a6a78"/><rect x="175.01" y="146.16" width="9.22" height="9.06" fill="#7a1528"/><rect x="187.04" y="148.92" width="3.60" height="3.53" fill="#7fb0d8" stroke-width="0.3" stroke="#5a6a78"/><rect x="196.26" y="148.92" width="3.60" height="3.53" fill="#7fb0d8" stroke-width="0.3" stroke="#5a6a78"/><rect x="205.48" y="148.92" width="3.60" height="3.53" fill="#7fb0d8" stroke-width="0.3" stroke="#5a6a78"/><rect x="211.89" y="146.16" width="9.22" height="9.06" fill="#7a1528"/><rect x="224.38" y="149.38" width="2.67" height="2.63" fill="#8fbad8" stroke-width="0.4" stroke="#5a6670"/><rect x="232.40" y="148.20" width="5.07" height="4.99" fill="#fbc8ac"/><rect x="242.73" y="149.29" width="2.86" height="2.81" fill="#c2dbe8" stroke-width="0.3" stroke="#5a6a78"/><rect x="248.77" y="146.16" width="9.22" height="9.06" fill="#7a1528"/><rect x="260.80" y="148.92" width="3.60" height="3.53" fill="#7fb0d8" stroke-width="0.3" stroke="#5a6a78"/><rect x="270.02" y="148.92" width="3.60" height="3.53" fill="#7fb0d8" stroke-width="0.3" stroke="#5a6a78"/><rect x="279.70" y="149.38" width="2.67" height="2.63" fill="#8fbad8" stroke-width="0.4" stroke="#5a6670"/><rect x="289.25" y="149.69" width="2.03" height="1.99" fill="#9fbccc" stroke-width="0.4" stroke="#5a6670"/><rect x="296.94" y="148.20" width="5.07" height="4.99" fill="#fbc8ac"/><rect x="306.07" y="148.11" width="5.26" height="5.17" fill="#4c82bd"/><rect x="315.62" y="148.43" width="4.61" height="4.53" fill="#6aa0d0"/><rect x="324.60" y="148.20" width="5.07" height="4.99" fill="#fbc8ac"/><rect x="334.56" y="148.92" width="3.60" height="3.53" fill="#7fb0d8" stroke-width="0.3" stroke="#5a6a78"/><rect x="342.68" y="147.84" width="5.81" height="5.71" fill="#2f5c9c"/><rect x="352.50" y="148.43" width="4.61" height="4.53" fill="#6aa0d0"/><rect x="362.22" y="148.92" width="3.60" height="3.53" fill="#7fb0d8" stroke-width="0.3" stroke="#5a6a78"/><rect x="370.34" y="147.84" width="5.81" height="5.71" fill="#2f5c9c"/><rect x="379.56" y="147.84" width="5.81" height="5.71" fill="#2f5c9c"/><rect x="388.50" y="147.56" width="6.36" height="6.25" fill="#1f3c73"/><rect x="398.60" y="148.43" width="4.61" height="4.53" fill="#6aa0d0"/><rect x="406.94" y="147.56" width="6.36" height="6.25" fill="#1f3c73"/><rect x="416.16" y="147.56" width="6.36" height="6.25" fill="#1f3c73"/><rect x="427.13" y="149.29" width="2.86" height="2.81" fill="#c2dbe8" stroke-width="0.3" stroke="#5a6a78"/><rect x="435.01" y="147.97" width="5.53" height="5.44" fill="#f6ad8f"/><rect x="445.06" y="148.79" width="3.87" height="3.81" fill="#e0dfdb"/><rect x="453.59" y="148.11" width="5.26" height="5.17" fill="#4c82bd"/><rect x="464.01" y="149.29" width="2.86" height="2.81" fill="#c2dbe8" stroke-width="0.3" stroke="#5a6a78"/><rect x="473.65" y="149.69" width="2.03" height="1.99" fill="#9fbccc" stroke-width="0.4" stroke="#5a6670"/><rect x="482.08" y="148.92" width="3.60" height="3.53" fill="#7fb0d8" stroke-width="0.3" stroke="#5a6a78"/><rect x="491.30" y="148.92" width="3.60" height="3.53" fill="#7fb0d8" stroke-width="0.3" stroke="#5a6a78"/><rect x="500.89" y="149.29" width="2.86" height="2.81" fill="#c2dbe8" stroke-width="0.3" stroke="#5a6a78"/><rect x="510.20" y="149.38" width="2.67" height="2.63" fill="#8fbad8" stroke-width="0.4" stroke="#5a6670"/><rect x="518.55" y="148.52" width="4.43" height="4.35" fill="#f8dfd0"/><rect x="527.21" y="147.97" width="5.53" height="5.44" fill="#f6ad8f"/><rect x="537.86" y="149.38" width="2.67" height="2.63" fill="#8fbad8" stroke-width="0.4" stroke="#5a6670"/><rect x="546.99" y="149.29" width="2.86" height="2.81" fill="#c2dbe8" stroke-width="0.3" stroke="#5a6a78"/><rect x="554.74" y="147.84" width="5.81" height="5.71" fill="#2f5c9c"/><rect x="169.39" y="158.76" width="2.03" height="1.99" fill="#9fbccc" stroke-width="0.4" stroke="#5a6670"/><rect x="178.61" y="158.76" width="2.03" height="1.99" fill="#9fbccc" stroke-width="0.4" stroke="#5a6670"/><rect x="186.90" y="157.85" width="3.87" height="3.81" fill="#e0dfdb"/><rect x="196.12" y="157.85" width="3.87" height="3.81" fill="#e0dfdb"/><rect x="205.34" y="157.85" width="3.87" height="3.81" fill="#e0dfdb"/><rect x="215.49" y="158.76" width="2.03" height="1.99" fill="#9fbccc" stroke-width="0.4" stroke="#5a6670"/><rect x="224.71" y="158.76" width="2.03" height="1.99" fill="#9fbccc" stroke-width="0.4" stroke="#5a6670"/><rect x="233.60" y="158.44" width="2.67" height="2.63" fill="#8fbad8" stroke-width="0.4" stroke="#5a6670"/><rect x="243.15" y="158.76" width="2.03" height="1.99" fill="#9fbccc" stroke-width="0.4" stroke="#5a6670"/><rect x="252.37" y="158.76" width="2.03" height="1.99" fill="#9fbccc" stroke-width="0.4" stroke="#5a6670"/><rect x="261.26" y="158.44" width="2.67" height="2.63" fill="#8fbad8" stroke-width="0.4" stroke="#5a6670"/><rect x="270.02" y="157.99" width="3.60" height="3.53" fill="#7fb0d8" stroke-width="0.3" stroke="#5a6a78"/><rect x="279.61" y="158.35" width="2.86" height="2.81" fill="#c2dbe8" stroke-width="0.3" stroke="#5a6a78"/><rect x="288.83" y="158.35" width="2.86" height="2.81" fill="#c2dbe8" stroke-width="0.3" stroke="#5a6a78"/><rect x="298.47" y="158.76" width="2.03" height="1.99" fill="#9fbccc" stroke-width="0.4" stroke="#5a6670"/><rect x="307.69" y="158.76" width="2.03" height="1.99" fill="#9fbccc" stroke-width="0.4" stroke="#5a6670"/><rect x="315.71" y="157.58" width="4.43" height="4.35" fill="#f8dfd0"/><rect x="325.20" y="157.85" width="3.87" height="3.81" fill="#e0dfdb"/><rect x="335.35" y="158.76" width="2.03" height="1.99" fill="#9fbccc" stroke-width="0.4" stroke="#5a6670"/><rect x="344.24" y="158.44" width="2.67" height="2.63" fill="#8fbad8" stroke-width="0.4" stroke="#5a6670"/><rect x="353.79" y="158.76" width="2.03" height="1.99" fill="#9fbccc" stroke-width="0.4" stroke="#5a6670"/><rect x="363.01" y="158.76" width="2.03" height="1.99" fill="#9fbccc" stroke-width="0.4" stroke="#5a6670"/><rect x="371.30" y="157.85" width="3.87" height="3.81" fill="#e0dfdb"/><rect x="381.03" y="158.35" width="2.86" height="2.81" fill="#c2dbe8" stroke-width="0.3" stroke="#5a6a78"/><rect x="390.25" y="158.35" width="2.86" height="2.81" fill="#c2dbe8" stroke-width="0.3" stroke="#5a6a78"/><rect x="399.89" y="158.76" width="2.03" height="1.99" fill="#9fbccc" stroke-width="0.4" stroke="#5a6670"/><rect x="409.11" y="158.76" width="2.03" height="1.99" fill="#9fbccc" stroke-width="0.4" stroke="#5a6670"/><rect x="417.91" y="158.35" width="2.86" height="2.81" fill="#c2dbe8" stroke-width="0.3" stroke="#5a6a78"/><rect x="427.55" y="158.76" width="2.03" height="1.99" fill="#9fbccc" stroke-width="0.4" stroke="#5a6670"/><rect x="436.35" y="158.35" width="2.86" height="2.81" fill="#c2dbe8" stroke-width="0.3" stroke="#5a6a78"/><rect x="445.99" y="158.76" width="2.03" height="1.99" fill="#9fbccc" stroke-width="0.4" stroke="#5a6670"/><rect x="454.88" y="158.44" width="2.67" height="2.63" fill="#8fbad8" stroke-width="0.4" stroke="#5a6670"/><rect x="464.10" y="158.44" width="2.67" height="2.63" fill="#8fbad8" stroke-width="0.4" stroke="#5a6670"/><rect x="473.32" y="158.44" width="2.67" height="2.63" fill="#8fbad8" stroke-width="0.4" stroke="#5a6670"/><rect x="482.54" y="158.44" width="2.67" height="2.63" fill="#8fbad8" stroke-width="0.4" stroke="#5a6670"/><rect x="491.76" y="158.44" width="2.67" height="2.63" fill="#8fbad8" stroke-width="0.4" stroke="#5a6670"/><rect x="501.31" y="158.76" width="2.03" height="1.99" fill="#9fbccc" stroke-width="0.4" stroke="#5a6670"/><rect x="510.53" y="158.76" width="2.03" height="1.99" fill="#9fbccc" stroke-width="0.4" stroke="#5a6670"/><rect x="519.33" y="158.35" width="2.86" height="2.81" fill="#c2dbe8" stroke-width="0.3" stroke="#5a6a78"/><rect x="528.97" y="158.76" width="2.03" height="1.99" fill="#9fbccc" stroke-width="0.4" stroke="#5a6670"/><rect x="538.19" y="158.76" width="2.03" height="1.99" fill="#9fbccc" stroke-width="0.4" stroke="#5a6670"/><rect x="545.88" y="157.26" width="5.07" height="4.99" fill="#fbc8ac"/><rect x="557.09" y="159.21" width="1.11" height="1.09" fill="#8a9aa0" stroke-width="0.4" stroke="#5a6670"/><rect x="178.19" y="167.42" width="2.86" height="2.81" fill="#c2dbe8" stroke-width="0.3" stroke="#5a6a78"/><rect x="186.30" y="166.33" width="5.07" height="4.99" fill="#fbc8ac"/><rect x="195.52" y="166.33" width="5.07" height="4.99" fill="#fbc8ac"/><rect x="204.74" y="166.33" width="5.07" height="4.99" fill="#fbc8ac"/><rect x="215.07" y="167.42" width="2.86" height="2.81" fill="#c2dbe8" stroke-width="0.3" stroke="#5a6a78"/><rect x="224.38" y="167.51" width="2.67" height="2.63" fill="#8fbad8" stroke-width="0.4" stroke="#5a6670"/><rect x="232.40" y="166.33" width="5.07" height="4.99" fill="#fbc8ac"/><rect x="239.55" y="164.29" width="9.22" height="9.06" fill="#7a1528"/><rect x="251.95" y="167.42" width="2.86" height="2.81" fill="#c2dbe8" stroke-width="0.3" stroke="#5a6a78"/><rect x="259.97" y="166.24" width="5.26" height="5.17" fill="#4c82bd"/><rect x="270.02" y="167.05" width="3.60" height="3.53" fill="#7fb0d8" stroke-width="0.3" stroke="#5a6a78"/><rect x="279.70" y="167.51" width="2.67" height="2.63" fill="#8fbad8" stroke-width="0.4" stroke="#5a6670"/><rect x="288.46" y="167.05" width="3.60" height="3.53" fill="#7fb0d8" stroke-width="0.3" stroke="#5a6a78"/><rect x="297.18" y="166.55" width="4.61" height="4.53" fill="#6aa0d0"/><rect x="307.27" y="167.42" width="2.86" height="2.81" fill="#c2dbe8" stroke-width="0.3" stroke="#5a6a78"/><rect x="315.98" y="166.92" width="3.87" height="3.81" fill="#e0dfdb"/><rect x="326.59" y="168.28" width="1.11" height="1.09" fill="#8a9aa0" stroke-width="0.4" stroke="#5a6670"/><rect x="334.93" y="167.42" width="2.86" height="2.81" fill="#c2dbe8" stroke-width="0.3" stroke="#5a6a78"/><rect x="344.57" y="167.82" width="2.03" height="1.99" fill="#9fbccc" stroke-width="0.4" stroke="#5a6670"/><rect x="352.86" y="166.92" width="3.87" height="3.81" fill="#e0dfdb"/><rect x="361.48" y="166.33" width="5.07" height="4.99" fill="#fbc8ac"/><rect x="371.44" y="167.05" width="3.60" height="3.53" fill="#7fb0d8" stroke-width="0.3" stroke="#5a6a78"/><rect x="379.83" y="166.24" width="5.26" height="5.17" fill="#4c82bd"/><rect x="391.13" y="168.28" width="1.11" height="1.09" fill="#8a9aa0" stroke-width="0.4" stroke="#5a6670"/><rect x="399.47" y="167.42" width="2.86" height="2.81" fill="#c2dbe8" stroke-width="0.3" stroke="#5a6a78"/><rect x="408.78" y="167.51" width="2.67" height="2.63" fill="#8fbad8" stroke-width="0.4" stroke="#5a6670"/><rect x="417.91" y="167.42" width="2.86" height="2.81" fill="#c2dbe8" stroke-width="0.3" stroke="#5a6a78"/><rect x="427.22" y="167.51" width="2.67" height="2.63" fill="#8fbad8" stroke-width="0.4" stroke="#5a6670"/><rect x="435.98" y="167.05" width="3.60" height="3.53" fill="#7fb0d8" stroke-width="0.3" stroke="#5a6a78"/><rect x="444.10" y="165.96" width="5.81" height="5.71" fill="#2f5c9c"/><rect x="455.67" y="168.28" width="1.11" height="1.09" fill="#8a9aa0" stroke-width="0.4" stroke="#5a6670"/><rect x="462.67" y="166.10" width="5.53" height="5.44" fill="#f6ad8f"/><rect x="472.86" y="167.05" width="3.60" height="3.53" fill="#7fb0d8" stroke-width="0.3" stroke="#5a6a78"/><rect x="481.67" y="166.64" width="4.43" height="4.35" fill="#f8dfd0"/><rect x="491.76" y="167.51" width="2.67" height="2.63" fill="#8fbad8" stroke-width="0.4" stroke="#5a6670"/><rect x="499.00" y="165.56" width="6.64" height="6.53" fill="#ef8262"/><rect x="510.53" y="167.82" width="2.03" height="1.99" fill="#9fbccc" stroke-width="0.4" stroke="#5a6670"/><rect x="517.44" y="165.56" width="6.64" height="6.53" fill="#ef8262"/><rect x="528.97" y="167.82" width="2.03" height="1.99" fill="#9fbccc" stroke-width="0.4" stroke="#5a6670"/><rect x="538.65" y="168.28" width="1.11" height="1.09" fill="#8a9aa0" stroke-width="0.4" stroke="#5a6670"/><rect x="547.41" y="167.82" width="2.03" height="1.99" fill="#9fbccc" stroke-width="0.4" stroke="#5a6670"/><rect x="556.63" y="167.82" width="2.03" height="1.99" fill="#9fbccc" stroke-width="0.4" stroke="#5a6670"/><rect x="187.04" y="176.12" width="3.60" height="3.53" fill="#7fb0d8" stroke-width="0.3" stroke="#5a6a78"/><rect x="196.26" y="176.12" width="3.60" height="3.53" fill="#7fb0d8" stroke-width="0.3" stroke="#5a6a78"/><rect x="205.48" y="176.12" width="3.60" height="3.53" fill="#7fb0d8" stroke-width="0.3" stroke="#5a6a78"/><rect x="211.89" y="173.35" width="9.22" height="9.06" fill="#7a1528"/><rect x="224.38" y="176.57" width="2.67" height="2.63" fill="#8fbad8" stroke-width="0.4" stroke="#5a6670"/><rect x="232.73" y="175.71" width="4.43" height="4.35" fill="#f8dfd0"/><rect x="242.73" y="176.48" width="2.86" height="2.81" fill="#c2dbe8" stroke-width="0.3" stroke="#5a6a78"/><rect x="248.77" y="173.35" width="9.22" height="9.06" fill="#7a1528"/><rect x="260.80" y="176.12" width="3.60" height="3.53" fill="#7fb0d8" stroke-width="0.3" stroke="#5a6a78"/><rect x="270.02" y="176.12" width="3.60" height="3.53" fill="#7fb0d8" stroke-width="0.3" stroke="#5a6a78"/><rect x="279.70" y="176.57" width="2.67" height="2.63" fill="#8fbad8" stroke-width="0.4" stroke="#5a6670"/><rect x="289.25" y="176.89" width="2.03" height="1.99" fill="#9fbccc" stroke-width="0.4" stroke="#5a6670"/><rect x="297.27" y="175.71" width="4.43" height="4.35" fill="#f8dfd0"/><rect x="306.07" y="175.30" width="5.26" height="5.17" fill="#4c82bd"/><rect x="315.62" y="175.62" width="4.61" height="4.53" fill="#6aa0d0"/><rect x="324.60" y="175.39" width="5.07" height="4.99" fill="#fbc8ac"/><rect x="335.02" y="176.57" width="2.67" height="2.63" fill="#8fbad8" stroke-width="0.4" stroke="#5a6670"/><rect x="342.68" y="175.03" width="5.81" height="5.71" fill="#2f5c9c"/><rect x="352.50" y="175.62" width="4.61" height="4.53" fill="#6aa0d0"/><rect x="362.22" y="176.12" width="3.60" height="3.53" fill="#7fb0d8" stroke-width="0.3" stroke="#5a6a78"/><rect x="370.34" y="175.03" width="5.81" height="5.71" fill="#2f5c9c"/><rect x="379.56" y="175.03" width="5.81" height="5.71" fill="#2f5c9c"/><rect x="388.50" y="174.76" width="6.36" height="6.25" fill="#1f3c73"/><rect x="398.60" y="175.62" width="4.61" height="4.53" fill="#6aa0d0"/><rect x="406.94" y="174.76" width="6.36" height="6.25" fill="#1f3c73"/><rect x="416.16" y="174.76" width="6.36" height="6.25" fill="#1f3c73"/><rect x="427.13" y="176.48" width="2.86" height="2.81" fill="#c2dbe8" stroke-width="0.3" stroke="#5a6a78"/><rect x="435.01" y="175.16" width="5.53" height="5.44" fill="#f6ad8f"/><rect x="445.06" y="175.98" width="3.87" height="3.81" fill="#e0dfdb"/><rect x="453.59" y="175.30" width="5.26" height="5.17" fill="#4c82bd"/><rect x="464.01" y="176.48" width="2.86" height="2.81" fill="#c2dbe8" stroke-width="0.3" stroke="#5a6a78"/><rect x="474.11" y="177.34" width="1.11" height="1.09" fill="#8a9aa0" stroke-width="0.4" stroke="#5a6670"/><rect x="482.08" y="176.12" width="3.60" height="3.53" fill="#7fb0d8" stroke-width="0.3" stroke="#5a6a78"/><rect x="491.30" y="176.12" width="3.60" height="3.53" fill="#7fb0d8" stroke-width="0.3" stroke="#5a6a78"/><rect x="500.89" y="176.48" width="2.86" height="2.81" fill="#c2dbe8" stroke-width="0.3" stroke="#5a6a78"/><rect x="510.53" y="176.89" width="2.03" height="1.99" fill="#9fbccc" stroke-width="0.4" stroke="#5a6670"/><rect x="518.55" y="175.71" width="4.43" height="4.35" fill="#f8dfd0"/><rect x="527.21" y="175.16" width="5.53" height="5.44" fill="#f6ad8f"/><rect x="538.19" y="176.89" width="2.03" height="1.99" fill="#9fbccc" stroke-width="0.4" stroke="#5a6670"/><rect x="546.99" y="176.48" width="2.86" height="2.81" fill="#c2dbe8" stroke-width="0.3" stroke="#5a6a78"/><rect x="554.74" y="175.03" width="5.81" height="5.71" fill="#2f5c9c"/><rect x="193.45" y="182.42" width="9.22" height="9.06" fill="#7a1528"/><rect x="202.67" y="182.42" width="9.22" height="9.06" fill="#7a1528"/><rect x="215.07" y="185.54" width="2.86" height="2.81" fill="#c2dbe8" stroke-width="0.3" stroke="#5a6a78"/><rect x="225.17" y="186.40" width="1.11" height="1.09" fill="#8a9aa0" stroke-width="0.4" stroke="#5a6670"/><rect x="232.73" y="184.77" width="4.43" height="4.35" fill="#f8dfd0"/><rect x="241.62" y="184.46" width="5.07" height="4.99" fill="#fbc8ac"/><rect x="251.95" y="185.54" width="2.86" height="2.81" fill="#c2dbe8" stroke-width="0.3" stroke="#5a6a78"/><rect x="261.17" y="185.54" width="2.86" height="2.81" fill="#c2dbe8" stroke-width="0.3" stroke="#5a6a78"/><rect x="270.81" y="185.95" width="2.03" height="1.99" fill="#9fbccc" stroke-width="0.4" stroke="#5a6670"/><rect x="279.24" y="185.18" width="3.60" height="3.53" fill="#7fb0d8" stroke-width="0.3" stroke="#5a6a78"/><rect x="288.92" y="185.63" width="2.67" height="2.63" fill="#8fbad8" stroke-width="0.4" stroke="#5a6670"/><rect x="297.18" y="184.68" width="4.61" height="4.53" fill="#6aa0d0"/><rect x="306.16" y="184.46" width="5.07" height="4.99" fill="#fbc8ac"/><rect x="314.60" y="183.68" width="6.64" height="6.53" fill="#ef8262"/><rect x="326.13" y="185.95" width="2.03" height="1.99" fill="#9fbccc" stroke-width="0.4" stroke="#5a6670"/><rect x="334.15" y="184.77" width="4.43" height="4.35" fill="#f8dfd0"/><rect x="343.64" y="185.04" width="3.87" height="3.81" fill="#e0dfdb"/><rect x="351.48" y="183.68" width="6.64" height="6.53" fill="#ef8262"/><rect x="360.70" y="183.68" width="6.64" height="6.53" fill="#ef8262"/><rect x="372.69" y="186.40" width="1.11" height="1.09" fill="#8a9aa0" stroke-width="0.4" stroke="#5a6670"/><rect x="380.66" y="185.18" width="3.60" height="3.53" fill="#7fb0d8" stroke-width="0.3" stroke="#5a6a78"/><rect x="390.25" y="185.54" width="2.86" height="2.81" fill="#c2dbe8" stroke-width="0.3" stroke="#5a6a78"/><rect x="398.36" y="184.46" width="5.07" height="4.99" fill="#fbc8ac"/><rect x="408.69" y="185.54" width="2.86" height="2.81" fill="#c2dbe8" stroke-width="0.3" stroke="#5a6a78"/><rect x="417.40" y="185.04" width="3.87" height="3.81" fill="#e0dfdb"/><rect x="427.55" y="185.95" width="2.03" height="1.99" fill="#9fbccc" stroke-width="0.4" stroke="#5a6670"/><rect x="435.98" y="185.18" width="3.60" height="3.53" fill="#7fb0d8" stroke-width="0.3" stroke="#5a6a78"/><rect x="444.10" y="184.09" width="5.81" height="5.71" fill="#2f5c9c"/><rect x="454.88" y="185.63" width="2.67" height="2.63" fill="#8fbad8" stroke-width="0.4" stroke="#5a6670"/><rect x="462.90" y="184.46" width="5.07" height="4.99" fill="#fbc8ac"/><rect x="473.65" y="185.95" width="2.03" height="1.99" fill="#9fbccc" stroke-width="0.4" stroke="#5a6670"/><rect x="481.67" y="184.77" width="4.43" height="4.35" fill="#f8dfd0"/><rect x="492.55" y="186.40" width="1.11" height="1.09" fill="#8a9aa0" stroke-width="0.4" stroke="#5a6670"/><rect x="499.78" y="184.46" width="5.07" height="4.99" fill="#fbc8ac"/><rect x="509.00" y="184.46" width="5.07" height="4.99" fill="#fbc8ac"/><rect x="517.44" y="183.68" width="6.64" height="6.53" fill="#ef8262"/><rect x="529.43" y="186.40" width="1.11" height="1.09" fill="#8a9aa0" stroke-width="0.4" stroke="#5a6670"/><rect x="537.77" y="185.54" width="2.86" height="2.81" fill="#c2dbe8" stroke-width="0.3" stroke="#5a6a78"/><rect x="546.99" y="185.54" width="2.86" height="2.81" fill="#c2dbe8" stroke-width="0.3" stroke="#5a6a78"/><rect x="556.21" y="185.54" width="2.86" height="2.81" fill="#c2dbe8" stroke-width="0.3" stroke="#5a6a78"/><rect x="202.67" y="191.48" width="9.22" height="9.06" fill="#7a1528"/><rect x="215.16" y="194.70" width="2.67" height="2.63" fill="#8fbad8" stroke-width="0.4" stroke="#5a6670"/><rect x="225.17" y="195.47" width="1.11" height="1.09" fill="#8a9aa0" stroke-width="0.4" stroke="#5a6670"/><rect x="233.00" y="194.11" width="3.87" height="3.81" fill="#e0dfdb"/><rect x="241.62" y="193.52" width="5.07" height="4.99" fill="#fbc8ac"/><rect x="252.04" y="194.70" width="2.67" height="2.63" fill="#8fbad8" stroke-width="0.4" stroke="#5a6670"/><rect x="261.17" y="194.61" width="2.86" height="2.81" fill="#c2dbe8" stroke-width="0.3" stroke="#5a6a78"/><rect x="271.27" y="195.47" width="1.11" height="1.09" fill="#8a9aa0" stroke-width="0.4" stroke="#5a6670"/><rect x="279.70" y="194.70" width="2.67" height="2.63" fill="#8fbad8" stroke-width="0.4" stroke="#5a6670"/><rect x="288.92" y="194.70" width="2.67" height="2.63" fill="#8fbad8" stroke-width="0.4" stroke="#5a6670"/><rect x="297.18" y="193.75" width="4.61" height="4.53" fill="#6aa0d0"/><rect x="306.16" y="193.52" width="5.07" height="4.99" fill="#fbc8ac"/><rect x="314.60" y="192.75" width="6.64" height="6.53" fill="#ef8262"/><rect x="326.13" y="195.01" width="2.03" height="1.99" fill="#9fbccc" stroke-width="0.4" stroke="#5a6670"/><rect x="334.15" y="193.84" width="4.43" height="4.35" fill="#f8dfd0"/><rect x="343.64" y="194.11" width="3.87" height="3.81" fill="#e0dfdb"/><rect x="351.48" y="192.75" width="6.64" height="6.53" fill="#ef8262"/><rect x="360.70" y="192.75" width="6.64" height="6.53" fill="#ef8262"/><rect x="372.69" y="195.47" width="1.11" height="1.09" fill="#8a9aa0" stroke-width="0.4" stroke="#5a6670"/><rect x="380.66" y="194.24" width="3.60" height="3.53" fill="#7fb0d8" stroke-width="0.3" stroke="#5a6a78"/><rect x="390.25" y="194.61" width="2.86" height="2.81" fill="#c2dbe8" stroke-width="0.3" stroke="#5a6a78"/><rect x="398.36" y="193.52" width="5.07" height="4.99" fill="#fbc8ac"/><rect x="408.69" y="194.61" width="2.86" height="2.81" fill="#c2dbe8" stroke-width="0.3" stroke="#5a6a78"/><rect x="417.13" y="193.84" width="4.43" height="4.35" fill="#f8dfd0"/><rect x="428.01" y="195.47" width="1.11" height="1.09" fill="#8a9aa0" stroke-width="0.4" stroke="#5a6670"/><rect x="435.98" y="194.24" width="3.60" height="3.53" fill="#7fb0d8" stroke-width="0.3" stroke="#5a6a78"/><rect x="444.37" y="193.43" width="5.26" height="5.17" fill="#4c82bd"/><rect x="454.88" y="194.70" width="2.67" height="2.63" fill="#8fbad8" stroke-width="0.4" stroke="#5a6670"/><rect x="462.90" y="193.52" width="5.07" height="4.99" fill="#fbc8ac"/><rect x="473.65" y="195.01" width="2.03" height="1.99" fill="#9fbccc" stroke-width="0.4" stroke="#5a6670"/><rect x="481.67" y="193.84" width="4.43" height="4.35" fill="#f8dfd0"/><rect x="492.55" y="195.47" width="1.11" height="1.09" fill="#8a9aa0" stroke-width="0.4" stroke="#5a6670"/><rect x="499.78" y="193.52" width="5.07" height="4.99" fill="#fbc8ac"/><rect x="509.00" y="193.52" width="5.07" height="4.99" fill="#fbc8ac"/><rect x="517.44" y="192.75" width="6.64" height="6.53" fill="#ef8262"/><rect x="529.43" y="195.47" width="1.11" height="1.09" fill="#8a9aa0" stroke-width="0.4" stroke="#5a6670"/><rect x="537.77" y="194.61" width="2.86" height="2.81" fill="#c2dbe8" stroke-width="0.3" stroke="#5a6a78"/><rect x="546.99" y="194.61" width="2.86" height="2.81" fill="#c2dbe8" stroke-width="0.3" stroke="#5a6a78"/><rect x="556.21" y="194.61" width="2.86" height="2.81" fill="#c2dbe8" stroke-width="0.3" stroke="#5a6a78"/><rect x="215.16" y="203.76" width="2.67" height="2.63" fill="#8fbad8" stroke-width="0.4" stroke="#5a6670"/><rect x="225.17" y="204.53" width="1.11" height="1.09" fill="#8a9aa0" stroke-width="0.4" stroke="#5a6670"/><rect x="232.73" y="202.90" width="4.43" height="4.35" fill="#f8dfd0"/><rect x="241.62" y="202.58" width="5.07" height="4.99" fill="#fbc8ac"/><rect x="252.04" y="203.76" width="2.67" height="2.63" fill="#8fbad8" stroke-width="0.4" stroke="#5a6670"/><rect x="261.17" y="203.67" width="2.86" height="2.81" fill="#c2dbe8" stroke-width="0.3" stroke="#5a6a78"/><rect x="271.27" y="204.53" width="1.11" height="1.09" fill="#8a9aa0" stroke-width="0.4" stroke="#5a6670"/><rect x="279.24" y="203.31" width="3.60" height="3.53" fill="#7fb0d8" stroke-width="0.3" stroke="#5a6a78"/><rect x="288.92" y="203.76" width="2.67" height="2.63" fill="#8fbad8" stroke-width="0.4" stroke="#5a6670"/><rect x="297.18" y="202.81" width="4.61" height="4.53" fill="#6aa0d0"/><rect x="306.16" y="202.58" width="5.07" height="4.99" fill="#fbc8ac"/><rect x="314.60" y="201.81" width="6.64" height="6.53" fill="#ef8262"/><rect x="326.13" y="204.08" width="2.03" height="1.99" fill="#9fbccc" stroke-width="0.4" stroke="#5a6670"/><rect x="334.15" y="202.90" width="4.43" height="4.35" fill="#f8dfd0"/><rect x="343.64" y="203.17" width="3.87" height="3.81" fill="#e0dfdb"/><rect x="351.48" y="201.81" width="6.64" height="6.53" fill="#ef8262"/><rect x="360.70" y="201.81" width="6.64" height="6.53" fill="#ef8262"/><rect x="372.69" y="204.53" width="1.11" height="1.09" fill="#8a9aa0" stroke-width="0.4" stroke="#5a6670"/><rect x="380.66" y="203.31" width="3.60" height="3.53" fill="#7fb0d8" stroke-width="0.3" stroke="#5a6a78"/><rect x="390.25" y="203.67" width="2.86" height="2.81" fill="#c2dbe8" stroke-width="0.3" stroke="#5a6a78"/><rect x="398.36" y="202.58" width="5.07" height="4.99" fill="#fbc8ac"/><rect x="408.69" y="203.67" width="2.86" height="2.81" fill="#c2dbe8" stroke-width="0.3" stroke="#5a6a78"/><rect x="417.13" y="202.90" width="4.43" height="4.35" fill="#f8dfd0"/><rect x="427.55" y="204.08" width="2.03" height="1.99" fill="#9fbccc" stroke-width="0.4" stroke="#5a6670"/><rect x="435.98" y="203.31" width="3.60" height="3.53" fill="#7fb0d8" stroke-width="0.3" stroke="#5a6a78"/><rect x="444.10" y="202.22" width="5.81" height="5.71" fill="#2f5c9c"/><rect x="454.88" y="203.76" width="2.67" height="2.63" fill="#8fbad8" stroke-width="0.4" stroke="#5a6670"/><rect x="462.90" y="202.58" width="5.07" height="4.99" fill="#fbc8ac"/><rect x="473.65" y="204.08" width="2.03" height="1.99" fill="#9fbccc" stroke-width="0.4" stroke="#5a6670"/><rect x="481.67" y="202.90" width="4.43" height="4.35" fill="#f8dfd0"/><rect x="492.55" y="204.53" width="1.11" height="1.09" fill="#8a9aa0" stroke-width="0.4" stroke="#5a6670"/><rect x="499.78" y="202.58" width="5.07" height="4.99" fill="#fbc8ac"/><rect x="509.00" y="202.58" width="5.07" height="4.99" fill="#fbc8ac"/><rect x="517.44" y="201.81" width="6.64" height="6.53" fill="#ef8262"/><rect x="529.43" y="204.53" width="1.11" height="1.09" fill="#8a9aa0" stroke-width="0.4" stroke="#5a6670"/><rect x="537.77" y="203.67" width="2.86" height="2.81" fill="#c2dbe8" stroke-width="0.3" stroke="#5a6a78"/><rect x="546.99" y="203.67" width="2.86" height="2.81" fill="#c2dbe8" stroke-width="0.3" stroke="#5a6a78"/><rect x="556.21" y="203.67" width="2.86" height="2.81" fill="#c2dbe8" stroke-width="0.3" stroke="#5a6a78"/><rect x="224.38" y="212.83" width="2.67" height="2.63" fill="#8fbad8" stroke-width="0.4" stroke="#5a6670"/><rect x="232.73" y="211.96" width="4.43" height="4.35" fill="#f8dfd0"/><rect x="242.73" y="212.74" width="2.86" height="2.81" fill="#c2dbe8" stroke-width="0.3" stroke="#5a6a78"/><rect x="248.77" y="209.61" width="9.22" height="9.06" fill="#7a1528"/><rect x="260.80" y="212.37" width="3.60" height="3.53" fill="#7fb0d8" stroke-width="0.3" stroke="#5a6a78"/><rect x="270.02" y="212.37" width="3.60" height="3.53" fill="#7fb0d8" stroke-width="0.3" stroke="#5a6a78"/><rect x="279.70" y="212.83" width="2.67" height="2.63" fill="#8fbad8" stroke-width="0.4" stroke="#5a6670"/><rect x="289.25" y="213.14" width="2.03" height="1.99" fill="#9fbccc" stroke-width="0.4" stroke="#5a6670"/><rect x="297.27" y="211.96" width="4.43" height="4.35" fill="#f8dfd0"/><rect x="306.07" y="211.56" width="5.26" height="5.17" fill="#4c82bd"/><rect x="315.62" y="211.87" width="4.61" height="4.53" fill="#6aa0d0"/><rect x="324.60" y="211.65" width="5.07" height="4.99" fill="#fbc8ac"/><rect x="334.56" y="212.37" width="3.60" height="3.53" fill="#7fb0d8" stroke-width="0.3" stroke="#5a6a78"/><rect x="342.68" y="211.28" width="5.81" height="5.71" fill="#2f5c9c"/><rect x="352.50" y="211.87" width="4.61" height="4.53" fill="#6aa0d0"/><rect x="362.68" y="212.83" width="2.67" height="2.63" fill="#8fbad8" stroke-width="0.4" stroke="#5a6670"/><rect x="370.34" y="211.28" width="5.81" height="5.71" fill="#2f5c9c"/><rect x="379.56" y="211.28" width="5.81" height="5.71" fill="#2f5c9c"/><rect x="388.50" y="211.01" width="6.36" height="6.25" fill="#1f3c73"/><rect x="398.60" y="211.87" width="4.61" height="4.53" fill="#6aa0d0"/><rect x="406.94" y="211.01" width="6.36" height="6.25" fill="#1f3c73"/><rect x="416.16" y="211.01" width="6.36" height="6.25" fill="#1f3c73"/><rect x="427.13" y="212.74" width="2.86" height="2.81" fill="#c2dbe8" stroke-width="0.3" stroke="#5a6a78"/><rect x="435.01" y="211.42" width="5.53" height="5.44" fill="#f6ad8f"/><rect x="445.06" y="212.24" width="3.87" height="3.81" fill="#e0dfdb"/><rect x="453.59" y="211.56" width="5.26" height="5.17" fill="#4c82bd"/><rect x="464.01" y="212.74" width="2.86" height="2.81" fill="#c2dbe8" stroke-width="0.3" stroke="#5a6a78"/><rect x="473.65" y="213.14" width="2.03" height="1.99" fill="#9fbccc" stroke-width="0.4" stroke="#5a6670"/><rect x="482.08" y="212.37" width="3.60" height="3.53" fill="#7fb0d8" stroke-width="0.3" stroke="#5a6a78"/><rect x="491.30" y="212.37" width="3.60" height="3.53" fill="#7fb0d8" stroke-width="0.3" stroke="#5a6a78"/><rect x="500.89" y="212.74" width="2.86" height="2.81" fill="#c2dbe8" stroke-width="0.3" stroke="#5a6a78"/><rect x="510.53" y="213.14" width="2.03" height="1.99" fill="#9fbccc" stroke-width="0.4" stroke="#5a6670"/><rect x="518.55" y="211.96" width="4.43" height="4.35" fill="#f8dfd0"/><rect x="527.21" y="211.42" width="5.53" height="5.44" fill="#f6ad8f"/><rect x="538.19" y="213.14" width="2.03" height="1.99" fill="#9fbccc" stroke-width="0.4" stroke="#5a6670"/><rect x="546.99" y="212.74" width="2.86" height="2.81" fill="#c2dbe8" stroke-width="0.3" stroke="#5a6a78"/><rect x="554.74" y="211.28" width="5.81" height="5.71" fill="#2f5c9c"/><rect x="233.93" y="222.21" width="2.03" height="1.99" fill="#9fbccc" stroke-width="0.4" stroke="#5a6670"/><rect x="243.15" y="222.21" width="2.03" height="1.99" fill="#9fbccc" stroke-width="0.4" stroke="#5a6670"/><rect x="252.04" y="221.89" width="2.67" height="2.63" fill="#8fbad8" stroke-width="0.4" stroke="#5a6670"/><rect x="262.05" y="222.66" width="1.11" height="1.09" fill="#8a9aa0" stroke-width="0.4" stroke="#5a6670"/><rect x="270.48" y="221.89" width="2.67" height="2.63" fill="#8fbad8" stroke-width="0.4" stroke="#5a6670"/><rect x="276.98" y="219.22" width="8.11" height="7.98" fill="#c0282c"/><rect x="286.20" y="219.22" width="8.11" height="7.98" fill="#c0282c"/><rect x="298.93" y="222.66" width="1.11" height="1.09" fill="#8a9aa0" stroke-width="0.4" stroke="#5a6670"/><rect x="307.69" y="222.21" width="2.03" height="1.99" fill="#9fbccc" stroke-width="0.4" stroke="#5a6670"/><rect x="316.49" y="221.80" width="2.86" height="2.81" fill="#c2dbe8" stroke-width="0.3" stroke="#5a6a78"/><rect x="324.83" y="220.94" width="4.61" height="4.53" fill="#6aa0d0"/><rect x="334.06" y="220.94" width="4.61" height="4.53" fill="#6aa0d0"/><rect x="344.57" y="222.21" width="2.03" height="1.99" fill="#9fbccc" stroke-width="0.4" stroke="#5a6670"/><rect x="353.79" y="222.21" width="2.03" height="1.99" fill="#9fbccc" stroke-width="0.4" stroke="#5a6670"/><rect x="363.01" y="222.21" width="2.03" height="1.99" fill="#9fbccc" stroke-width="0.4" stroke="#5a6670"/><rect x="371.81" y="221.80" width="2.86" height="2.81" fill="#c2dbe8" stroke-width="0.3" stroke="#5a6a78"/><rect x="381.12" y="221.89" width="2.67" height="2.63" fill="#8fbad8" stroke-width="0.4" stroke="#5a6670"/><rect x="390.67" y="222.21" width="2.03" height="1.99" fill="#9fbccc" stroke-width="0.4" stroke="#5a6670"/><rect x="399.10" y="221.44" width="3.60" height="3.53" fill="#7fb0d8" stroke-width="0.3" stroke="#5a6a78"/><rect x="409.11" y="222.21" width="2.03" height="1.99" fill="#9fbccc" stroke-width="0.4" stroke="#5a6670"/><rect x="418.00" y="221.89" width="2.67" height="2.63" fill="#8fbad8" stroke-width="0.4" stroke="#5a6670"/><rect x="426.62" y="221.30" width="3.87" height="3.81" fill="#e0dfdb"/><rect x="435.84" y="221.30" width="3.87" height="3.81" fill="#e0dfdb"/><rect x="445.66" y="221.89" width="2.67" height="2.63" fill="#8fbad8" stroke-width="0.4" stroke="#5a6670"/><rect x="455.21" y="222.21" width="2.03" height="1.99" fill="#9fbccc" stroke-width="0.4" stroke="#5a6670"/><rect x="464.43" y="222.21" width="2.03" height="1.99" fill="#9fbccc" stroke-width="0.4" stroke="#5a6670"/><rect x="473.32" y="221.89" width="2.67" height="2.63" fill="#8fbad8" stroke-width="0.4" stroke="#5a6670"/><rect x="482.54" y="221.89" width="2.67" height="2.63" fill="#8fbad8" stroke-width="0.4" stroke="#5a6670"/><rect x="491.67" y="221.80" width="2.86" height="2.81" fill="#c2dbe8" stroke-width="0.3" stroke="#5a6a78"/><rect x="500.98" y="221.89" width="2.67" height="2.63" fill="#8fbad8" stroke-width="0.4" stroke="#5a6670"/><rect x="510.99" y="222.66" width="1.11" height="1.09" fill="#8a9aa0" stroke-width="0.4" stroke="#5a6670"/><rect x="520.21" y="222.66" width="1.11" height="1.09" fill="#8a9aa0" stroke-width="0.4" stroke="#5a6670"/><rect x="528.64" y="221.89" width="2.67" height="2.63" fill="#8fbad8" stroke-width="0.4" stroke="#5a6670"/><rect x="538.19" y="222.21" width="2.03" height="1.99" fill="#9fbccc" stroke-width="0.4" stroke="#5a6670"/><rect x="547.41" y="222.21" width="2.03" height="1.99" fill="#9fbccc" stroke-width="0.4" stroke="#5a6670"/><rect x="556.63" y="222.21" width="2.03" height="1.99" fill="#9fbccc" stroke-width="0.4" stroke="#5a6670"/><rect x="241.62" y="229.78" width="5.07" height="4.99" fill="#fbc8ac"/><rect x="251.17" y="230.09" width="4.43" height="4.35" fill="#f8dfd0"/><rect x="260.80" y="230.50" width="3.60" height="3.53" fill="#7fb0d8" stroke-width="0.3" stroke="#5a6a78"/><rect x="270.48" y="230.95" width="2.67" height="2.63" fill="#8fbad8" stroke-width="0.4" stroke="#5a6670"/><rect x="279.70" y="230.95" width="2.67" height="2.63" fill="#8fbad8" stroke-width="0.4" stroke="#5a6670"/><rect x="288.92" y="230.95" width="2.67" height="2.63" fill="#8fbad8" stroke-width="0.4" stroke="#5a6670"/><rect x="296.85" y="229.68" width="5.26" height="5.17" fill="#4c82bd"/><rect x="306.76" y="230.36" width="3.87" height="3.81" fill="#e0dfdb"/><rect x="316.49" y="230.86" width="2.86" height="2.81" fill="#c2dbe8" stroke-width="0.3" stroke="#5a6a78"/><rect x="326.13" y="231.27" width="2.03" height="1.99" fill="#9fbccc" stroke-width="0.4" stroke="#5a6670"/><rect x="333.82" y="229.78" width="5.07" height="4.99" fill="#fbc8ac"/><rect x="344.24" y="230.95" width="2.67" height="2.63" fill="#8fbad8" stroke-width="0.4" stroke="#5a6670"/><rect x="352.26" y="229.78" width="5.07" height="4.99" fill="#fbc8ac"/><rect x="361.48" y="229.78" width="5.07" height="4.99" fill="#fbc8ac"/><rect x="370.61" y="229.68" width="5.26" height="5.17" fill="#4c82bd"/><rect x="379.83" y="229.68" width="5.26" height="5.17" fill="#4c82bd"/><rect x="390.34" y="230.95" width="2.67" height="2.63" fill="#8fbad8" stroke-width="0.4" stroke="#5a6670"/><rect x="399.47" y="230.86" width="2.86" height="2.81" fill="#c2dbe8" stroke-width="0.3" stroke="#5a6a78"/><rect x="409.11" y="231.27" width="2.03" height="1.99" fill="#9fbccc" stroke-width="0.4" stroke="#5a6670"/><rect x="418.33" y="231.27" width="2.03" height="1.99" fill="#9fbccc" stroke-width="0.4" stroke="#5a6670"/><rect x="427.22" y="230.95" width="2.67" height="2.63" fill="#8fbad8" stroke-width="0.4" stroke="#5a6670"/><rect x="435.98" y="230.50" width="3.60" height="3.53" fill="#7fb0d8" stroke-width="0.3" stroke="#5a6a78"/><rect x="444.37" y="229.68" width="5.26" height="5.17" fill="#4c82bd"/><rect x="454.88" y="230.95" width="2.67" height="2.63" fill="#8fbad8" stroke-width="0.4" stroke="#5a6670"/><rect x="462.90" y="229.78" width="5.07" height="4.99" fill="#fbc8ac"/><rect x="473.32" y="230.95" width="2.67" height="2.63" fill="#8fbad8" stroke-width="0.4" stroke="#5a6670"/><rect x="482.45" y="230.86" width="2.86" height="2.81" fill="#c2dbe8" stroke-width="0.3" stroke="#5a6a78"/><rect x="491.30" y="230.50" width="3.60" height="3.53" fill="#7fb0d8" stroke-width="0.3" stroke="#5a6a78"/><rect x="499.00" y="229.00" width="6.64" height="6.53" fill="#ef8262"/><rect x="509.00" y="229.78" width="5.07" height="4.99" fill="#fbc8ac"/><rect x="517.44" y="229.00" width="6.64" height="6.53" fill="#ef8262"/><rect x="528.64" y="230.95" width="2.67" height="2.63" fill="#8fbad8" stroke-width="0.4" stroke="#5a6670"/><rect x="537.86" y="230.95" width="2.67" height="2.63" fill="#8fbad8" stroke-width="0.4" stroke="#5a6670"/><rect x="547.08" y="230.95" width="2.67" height="2.63" fill="#8fbad8" stroke-width="0.4" stroke="#5a6670"/><rect x="556.63" y="231.27" width="2.03" height="1.99" fill="#9fbccc" stroke-width="0.4" stroke="#5a6670"/><rect x="252.37" y="240.33" width="2.03" height="1.99" fill="#9fbccc" stroke-width="0.4" stroke="#5a6670"/><rect x="259.97" y="238.75" width="5.26" height="5.17" fill="#4c82bd"/><rect x="270.02" y="239.56" width="3.60" height="3.53" fill="#7fb0d8" stroke-width="0.3" stroke="#5a6a78"/><rect x="279.70" y="240.02" width="2.67" height="2.63" fill="#8fbad8" stroke-width="0.4" stroke="#5a6670"/><rect x="288.92" y="240.02" width="2.67" height="2.63" fill="#8fbad8" stroke-width="0.4" stroke="#5a6670"/><rect x="297.18" y="239.07" width="4.61" height="4.53" fill="#6aa0d0"/><rect x="307.36" y="240.02" width="2.67" height="2.63" fill="#8fbad8" stroke-width="0.4" stroke="#5a6670"/><rect x="315.71" y="239.16" width="4.43" height="4.35" fill="#f8dfd0"/><rect x="326.59" y="240.79" width="1.11" height="1.09" fill="#8a9aa0" stroke-width="0.4" stroke="#5a6670"/><rect x="334.42" y="239.43" width="3.87" height="3.81" fill="#e0dfdb"/><rect x="344.24" y="240.02" width="2.67" height="2.63" fill="#8fbad8" stroke-width="0.4" stroke="#5a6670"/><rect x="352.86" y="239.43" width="3.87" height="3.81" fill="#e0dfdb"/><rect x="361.48" y="238.84" width="5.07" height="4.99" fill="#fbc8ac"/><rect x="372.69" y="240.79" width="1.11" height="1.09" fill="#8a9aa0" stroke-width="0.4" stroke="#5a6670"/><rect x="380.16" y="239.07" width="4.61" height="4.53" fill="#6aa0d0"/><rect x="390.34" y="240.02" width="2.67" height="2.63" fill="#8fbad8" stroke-width="0.4" stroke="#5a6670"/><rect x="399.56" y="240.02" width="2.67" height="2.63" fill="#8fbad8" stroke-width="0.4" stroke="#5a6670"/><rect x="409.11" y="240.33" width="2.03" height="1.99" fill="#9fbccc" stroke-width="0.4" stroke="#5a6670"/><rect x="418.33" y="240.33" width="2.03" height="1.99" fill="#9fbccc" stroke-width="0.4" stroke="#5a6670"/><rect x="427.22" y="240.02" width="2.67" height="2.63" fill="#8fbad8" stroke-width="0.4" stroke="#5a6670"/><rect x="436.44" y="240.02" width="2.67" height="2.63" fill="#8fbad8" stroke-width="0.4" stroke="#5a6670"/><rect x="444.37" y="238.75" width="5.26" height="5.17" fill="#4c82bd"/><rect x="455.21" y="240.33" width="2.03" height="1.99" fill="#9fbccc" stroke-width="0.4" stroke="#5a6670"/><rect x="462.67" y="238.61" width="5.53" height="5.44" fill="#f6ad8f"/><rect x="472.86" y="239.56" width="3.60" height="3.53" fill="#7fb0d8" stroke-width="0.3" stroke="#5a6a78"/><rect x="481.94" y="239.43" width="3.87" height="3.81" fill="#e0dfdb"/><rect x="491.76" y="240.02" width="2.67" height="2.63" fill="#8fbad8" stroke-width="0.4" stroke="#5a6670"/><rect x="499.55" y="238.61" width="5.53" height="5.44" fill="#f6ad8f"/><rect x="510.11" y="239.93" width="2.86" height="2.81" fill="#c2dbe8" stroke-width="0.3" stroke="#5a6a78"/><rect x="517.44" y="238.07" width="6.64" height="6.53" fill="#ef8262"/><rect x="528.97" y="240.33" width="2.03" height="1.99" fill="#9fbccc" stroke-width="0.4" stroke="#5a6670"/><rect x="538.19" y="240.33" width="2.03" height="1.99" fill="#9fbccc" stroke-width="0.4" stroke="#5a6670"/><rect x="547.41" y="240.33" width="2.03" height="1.99" fill="#9fbccc" stroke-width="0.4" stroke="#5a6670"/><rect x="556.63" y="240.33" width="2.03" height="1.99" fill="#9fbccc" stroke-width="0.4" stroke="#5a6670"/><rect x="260.80" y="248.63" width="3.60" height="3.53" fill="#7fb0d8" stroke-width="0.3" stroke="#5a6a78"/><rect x="270.02" y="248.63" width="3.60" height="3.53" fill="#7fb0d8" stroke-width="0.3" stroke="#5a6a78"/><rect x="279.70" y="249.08" width="2.67" height="2.63" fill="#8fbad8" stroke-width="0.4" stroke="#5a6670"/><rect x="289.25" y="249.40" width="2.03" height="1.99" fill="#9fbccc" stroke-width="0.4" stroke="#5a6670"/><rect x="297.27" y="248.22" width="4.43" height="4.35" fill="#f8dfd0"/><rect x="306.07" y="247.81" width="5.26" height="5.17" fill="#4c82bd"/><rect x="315.62" y="248.13" width="4.61" height="4.53" fill="#6aa0d0"/><rect x="324.60" y="247.90" width="5.07" height="4.99" fill="#fbc8ac"/><rect x="335.02" y="249.08" width="2.67" height="2.63" fill="#8fbad8" stroke-width="0.4" stroke="#5a6670"/><rect x="342.68" y="247.54" width="5.81" height="5.71" fill="#2f5c9c"/><rect x="352.50" y="248.13" width="4.61" height="4.53" fill="#6aa0d0"/><rect x="362.68" y="249.08" width="2.67" height="2.63" fill="#8fbad8" stroke-width="0.4" stroke="#5a6670"/><rect x="370.34" y="247.54" width="5.81" height="5.71" fill="#2f5c9c"/><rect x="379.56" y="247.54" width="5.81" height="5.71" fill="#2f5c9c"/><rect x="388.50" y="247.27" width="6.36" height="6.25" fill="#1f3c73"/><rect x="398.60" y="248.13" width="4.61" height="4.53" fill="#6aa0d0"/><rect x="406.94" y="247.27" width="6.36" height="6.25" fill="#1f3c73"/><rect x="416.16" y="247.27" width="6.36" height="6.25" fill="#1f3c73"/><rect x="427.22" y="249.08" width="2.67" height="2.63" fill="#8fbad8" stroke-width="0.4" stroke="#5a6670"/><rect x="435.24" y="247.90" width="5.07" height="4.99" fill="#fbc8ac"/><rect x="445.06" y="248.49" width="3.87" height="3.81" fill="#e0dfdb"/><rect x="453.59" y="247.81" width="5.26" height="5.17" fill="#4c82bd"/><rect x="464.01" y="248.99" width="2.86" height="2.81" fill="#c2dbe8" stroke-width="0.3" stroke="#5a6a78"/><rect x="474.11" y="249.85" width="1.11" height="1.09" fill="#8a9aa0" stroke-width="0.4" stroke="#5a6670"/><rect x="482.08" y="248.63" width="3.60" height="3.53" fill="#7fb0d8" stroke-width="0.3" stroke="#5a6a78"/><rect x="491.30" y="248.63" width="3.60" height="3.53" fill="#7fb0d8" stroke-width="0.3" stroke="#5a6a78"/><rect x="500.38" y="248.49" width="3.87" height="3.81" fill="#e0dfdb"/><rect x="510.53" y="249.40" width="2.03" height="1.99" fill="#9fbccc" stroke-width="0.4" stroke="#5a6670"/><rect x="518.55" y="248.22" width="4.43" height="4.35" fill="#f8dfd0"/><rect x="527.21" y="247.68" width="5.53" height="5.44" fill="#f6ad8f"/><rect x="538.19" y="249.40" width="2.03" height="1.99" fill="#9fbccc" stroke-width="0.4" stroke="#5a6670"/><rect x="546.99" y="248.99" width="2.86" height="2.81" fill="#c2dbe8" stroke-width="0.3" stroke="#5a6a78"/><rect x="554.74" y="247.54" width="5.81" height="5.71" fill="#2f5c9c"/><rect x="267.76" y="255.47" width="8.11" height="7.98" fill="#c0282c"/><rect x="279.24" y="257.69" width="3.60" height="3.53" fill="#7fb0d8" stroke-width="0.3" stroke="#5a6a78"/><rect x="288.92" y="258.15" width="2.67" height="2.63" fill="#8fbad8" stroke-width="0.4" stroke="#5a6670"/><rect x="298.14" y="258.15" width="2.67" height="2.63" fill="#8fbad8" stroke-width="0.4" stroke="#5a6670"/><rect x="307.36" y="258.15" width="2.67" height="2.63" fill="#8fbad8" stroke-width="0.4" stroke="#5a6670"/><rect x="316.58" y="258.15" width="2.67" height="2.63" fill="#8fbad8" stroke-width="0.4" stroke="#5a6670"/><rect x="325.34" y="257.69" width="3.60" height="3.53" fill="#7fb0d8" stroke-width="0.3" stroke="#5a6a78"/><rect x="335.35" y="258.46" width="2.03" height="1.99" fill="#9fbccc" stroke-width="0.4" stroke="#5a6670"/><rect x="343.64" y="257.56" width="3.87" height="3.81" fill="#e0dfdb"/><rect x="354.25" y="258.92" width="1.11" height="1.09" fill="#8a9aa0" stroke-width="0.4" stroke="#5a6670"/><rect x="362.08" y="257.56" width="3.87" height="3.81" fill="#e0dfdb"/><rect x="371.81" y="258.06" width="2.86" height="2.81" fill="#c2dbe8" stroke-width="0.3" stroke="#5a6a78"/><rect x="380.52" y="257.56" width="3.87" height="3.81" fill="#e0dfdb"/><rect x="390.25" y="258.06" width="2.86" height="2.81" fill="#c2dbe8" stroke-width="0.3" stroke="#5a6a78"/><rect x="399.89" y="258.46" width="2.03" height="1.99" fill="#9fbccc" stroke-width="0.4" stroke="#5a6670"/><rect x="406.80" y="256.20" width="6.64" height="6.53" fill="#ef8262"/><rect x="417.91" y="258.06" width="2.86" height="2.81" fill="#c2dbe8" stroke-width="0.3" stroke="#5a6a78"/><rect x="427.55" y="258.46" width="2.03" height="1.99" fill="#9fbccc" stroke-width="0.4" stroke="#5a6670"/><rect x="435.98" y="257.69" width="3.60" height="3.53" fill="#7fb0d8" stroke-width="0.3" stroke="#5a6a78"/><rect x="445.99" y="258.46" width="2.03" height="1.99" fill="#9fbccc" stroke-width="0.4" stroke="#5a6670"/><rect x="455.21" y="258.46" width="2.03" height="1.99" fill="#9fbccc" stroke-width="0.4" stroke="#5a6670"/><rect x="463.14" y="257.19" width="4.61" height="4.53" fill="#6aa0d0"/><rect x="473.32" y="258.15" width="2.67" height="2.63" fill="#8fbad8" stroke-width="0.4" stroke="#5a6670"/><rect x="482.87" y="258.46" width="2.03" height="1.99" fill="#9fbccc" stroke-width="0.4" stroke="#5a6670"/><rect x="492.09" y="258.46" width="2.03" height="1.99" fill="#9fbccc" stroke-width="0.4" stroke="#5a6670"/><rect x="500.02" y="257.19" width="4.61" height="4.53" fill="#6aa0d0"/><rect x="510.53" y="258.46" width="2.03" height="1.99" fill="#9fbccc" stroke-width="0.4" stroke="#5a6670"/><rect x="518.13" y="256.88" width="5.26" height="5.17" fill="#4c82bd"/><rect x="527.08" y="256.60" width="5.81" height="5.71" fill="#2f5c9c"/><rect x="536.57" y="256.88" width="5.26" height="5.17" fill="#4c82bd"/><rect x="545.79" y="256.88" width="5.26" height="5.17" fill="#4c82bd"/><rect x="555.10" y="256.97" width="5.07" height="4.99" fill="#fbc8ac"/><rect x="278.74" y="266.26" width="4.61" height="4.53" fill="#6aa0d0"/><rect x="287.95" y="266.26" width="4.61" height="4.53" fill="#6aa0d0"/><rect x="298.14" y="267.21" width="2.67" height="2.63" fill="#8fbad8" stroke-width="0.4" stroke="#5a6670"/><rect x="307.27" y="267.12" width="2.86" height="2.81" fill="#c2dbe8" stroke-width="0.3" stroke="#5a6a78"/><rect x="317.37" y="267.98" width="1.11" height="1.09" fill="#8a9aa0" stroke-width="0.4" stroke="#5a6670"/><rect x="325.80" y="267.21" width="2.67" height="2.63" fill="#8fbad8" stroke-width="0.4" stroke="#5a6670"/><rect x="335.02" y="267.21" width="2.67" height="2.63" fill="#8fbad8" stroke-width="0.4" stroke="#5a6670"/><rect x="343.04" y="266.03" width="5.07" height="4.99" fill="#fbc8ac"/><rect x="353.37" y="267.12" width="2.86" height="2.81" fill="#c2dbe8" stroke-width="0.3" stroke="#5a6a78"/><rect x="361.81" y="266.35" width="4.43" height="4.35" fill="#f8dfd0"/><rect x="371.81" y="267.12" width="2.86" height="2.81" fill="#c2dbe8" stroke-width="0.3" stroke="#5a6a78"/><rect x="380.25" y="266.35" width="4.43" height="4.35" fill="#f8dfd0"/><rect x="389.74" y="266.62" width="3.87" height="3.81" fill="#e0dfdb"/><rect x="399.89" y="267.53" width="2.03" height="1.99" fill="#9fbccc" stroke-width="0.4" stroke="#5a6670"/><rect x="407.35" y="265.80" width="5.53" height="5.44" fill="#f6ad8f"/><rect x="417.40" y="266.62" width="3.87" height="3.81" fill="#e0dfdb"/><rect x="427.13" y="267.12" width="2.86" height="2.81" fill="#c2dbe8" stroke-width="0.3" stroke="#5a6a78"/><rect x="435.48" y="266.26" width="4.61" height="4.53" fill="#6aa0d0"/><rect x="445.99" y="267.53" width="2.03" height="1.99" fill="#9fbccc" stroke-width="0.4" stroke="#5a6670"/><rect x="454.88" y="267.21" width="2.67" height="2.63" fill="#8fbad8" stroke-width="0.4" stroke="#5a6670"/><rect x="463.14" y="266.26" width="4.61" height="4.53" fill="#6aa0d0"/><rect x="473.32" y="267.21" width="2.67" height="2.63" fill="#8fbad8" stroke-width="0.4" stroke="#5a6670"/><rect x="482.54" y="267.21" width="2.67" height="2.63" fill="#8fbad8" stroke-width="0.4" stroke="#5a6670"/><rect x="491.76" y="267.21" width="2.67" height="2.63" fill="#8fbad8" stroke-width="0.4" stroke="#5a6670"/><rect x="500.52" y="266.76" width="3.60" height="3.53" fill="#7fb0d8" stroke-width="0.3" stroke="#5a6a78"/><rect x="510.11" y="267.12" width="2.86" height="2.81" fill="#c2dbe8" stroke-width="0.3" stroke="#5a6a78"/><rect x="518.46" y="266.26" width="4.61" height="4.53" fill="#6aa0d0"/><rect x="527.35" y="265.94" width="5.26" height="5.17" fill="#4c82bd"/><rect x="536.90" y="266.26" width="4.61" height="4.53" fill="#6aa0d0"/><rect x="545.79" y="265.94" width="5.26" height="5.17" fill="#4c82bd"/><rect x="555.10" y="266.03" width="5.07" height="4.99" fill="#fbc8ac"/><rect x="285.65" y="273.06" width="9.22" height="9.06" fill="#7a1528"/><rect x="298.47" y="276.59" width="2.03" height="1.99" fill="#9fbccc" stroke-width="0.4" stroke="#5a6670"/><rect x="307.69" y="276.59" width="2.03" height="1.99" fill="#9fbccc" stroke-width="0.4" stroke="#5a6670"/><rect x="316.91" y="276.59" width="2.03" height="1.99" fill="#9fbccc" stroke-width="0.4" stroke="#5a6670"/><rect x="324.83" y="275.32" width="4.61" height="4.53" fill="#6aa0d0"/><rect x="334.06" y="275.32" width="4.61" height="4.53" fill="#6aa0d0"/><rect x="345.03" y="277.04" width="1.11" height="1.09" fill="#8a9aa0" stroke-width="0.4" stroke="#5a6670"/><rect x="353.46" y="276.27" width="2.67" height="2.63" fill="#8fbad8" stroke-width="0.4" stroke="#5a6670"/><rect x="362.68" y="276.27" width="2.67" height="2.63" fill="#8fbad8" stroke-width="0.4" stroke="#5a6670"/><rect x="371.30" y="275.68" width="3.87" height="3.81" fill="#e0dfdb"/><rect x="381.12" y="276.27" width="2.67" height="2.63" fill="#8fbad8" stroke-width="0.4" stroke="#5a6670"/><rect x="391.13" y="277.04" width="1.11" height="1.09" fill="#8a9aa0" stroke-width="0.4" stroke="#5a6670"/><rect x="399.56" y="276.27" width="2.67" height="2.63" fill="#8fbad8" stroke-width="0.4" stroke="#5a6670"/><rect x="409.11" y="276.59" width="2.03" height="1.99" fill="#9fbccc" stroke-width="0.4" stroke="#5a6670"/><rect x="418.00" y="276.27" width="2.67" height="2.63" fill="#8fbad8" stroke-width="0.4" stroke="#5a6670"/><rect x="426.62" y="275.68" width="3.87" height="3.81" fill="#e0dfdb"/><rect x="435.57" y="275.41" width="4.43" height="4.35" fill="#f8dfd0"/><rect x="445.66" y="276.27" width="2.67" height="2.63" fill="#8fbad8" stroke-width="0.4" stroke="#5a6670"/><rect x="454.28" y="275.68" width="3.87" height="3.81" fill="#e0dfdb"/><rect x="464.43" y="276.59" width="2.03" height="1.99" fill="#9fbccc" stroke-width="0.4" stroke="#5a6670"/><rect x="474.11" y="277.04" width="1.11" height="1.09" fill="#8a9aa0" stroke-width="0.4" stroke="#5a6670"/><rect x="482.54" y="276.27" width="2.67" height="2.63" fill="#8fbad8" stroke-width="0.4" stroke="#5a6670"/><rect x="491.76" y="276.27" width="2.67" height="2.63" fill="#8fbad8" stroke-width="0.4" stroke="#5a6670"/><rect x="500.89" y="276.18" width="2.86" height="2.81" fill="#c2dbe8" stroke-width="0.3" stroke="#5a6a78"/><rect x="510.20" y="276.27" width="2.67" height="2.63" fill="#8fbad8" stroke-width="0.4" stroke="#5a6670"/><rect x="519.75" y="276.59" width="2.03" height="1.99" fill="#9fbccc" stroke-width="0.4" stroke="#5a6670"/><rect x="528.97" y="276.59" width="2.03" height="1.99" fill="#9fbccc" stroke-width="0.4" stroke="#5a6670"/><rect x="537.86" y="276.27" width="2.67" height="2.63" fill="#8fbad8" stroke-width="0.4" stroke="#5a6670"/><rect x="546.99" y="276.18" width="2.86" height="2.81" fill="#c2dbe8" stroke-width="0.3" stroke="#5a6a78"/><rect x="556.63" y="276.59" width="2.03" height="1.99" fill="#9fbccc" stroke-width="0.4" stroke="#5a6670"/><rect x="298.93" y="286.11" width="1.11" height="1.09" fill="#8a9aa0" stroke-width="0.4" stroke="#5a6670"/><rect x="307.69" y="285.65" width="2.03" height="1.99" fill="#9fbccc" stroke-width="0.4" stroke="#5a6670"/><rect x="316.49" y="285.25" width="2.86" height="2.81" fill="#c2dbe8" stroke-width="0.3" stroke="#5a6a78"/><rect x="324.83" y="284.39" width="4.61" height="4.53" fill="#6aa0d0"/><rect x="334.06" y="284.39" width="4.61" height="4.53" fill="#6aa0d0"/><rect x="344.57" y="285.65" width="2.03" height="1.99" fill="#9fbccc" stroke-width="0.4" stroke="#5a6670"/><rect x="353.46" y="285.34" width="2.67" height="2.63" fill="#8fbad8" stroke-width="0.4" stroke="#5a6670"/><rect x="362.68" y="285.34" width="2.67" height="2.63" fill="#8fbad8" stroke-width="0.4" stroke="#5a6670"/><rect x="371.30" y="284.75" width="3.87" height="3.81" fill="#e0dfdb"/><rect x="381.12" y="285.34" width="2.67" height="2.63" fill="#8fbad8" stroke-width="0.4" stroke="#5a6670"/><rect x="391.13" y="286.11" width="1.11" height="1.09" fill="#8a9aa0" stroke-width="0.4" stroke="#5a6670"/><rect x="399.56" y="285.34" width="2.67" height="2.63" fill="#8fbad8" stroke-width="0.4" stroke="#5a6670"/><rect x="409.11" y="285.65" width="2.03" height="1.99" fill="#9fbccc" stroke-width="0.4" stroke="#5a6670"/><rect x="418.79" y="286.11" width="1.11" height="1.09" fill="#8a9aa0" stroke-width="0.4" stroke="#5a6670"/><rect x="427.13" y="285.25" width="2.86" height="2.81" fill="#c2dbe8" stroke-width="0.3" stroke="#5a6a78"/><rect x="435.84" y="284.75" width="3.87" height="3.81" fill="#e0dfdb"/><rect x="445.66" y="285.34" width="2.67" height="2.63" fill="#8fbad8" stroke-width="0.4" stroke="#5a6670"/><rect x="454.79" y="285.25" width="2.86" height="2.81" fill="#c2dbe8" stroke-width="0.3" stroke="#5a6a78"/><rect x="464.43" y="285.65" width="2.03" height="1.99" fill="#9fbccc" stroke-width="0.4" stroke="#5a6670"/><rect x="473.65" y="285.65" width="2.03" height="1.99" fill="#9fbccc" stroke-width="0.4" stroke="#5a6670"/><rect x="482.54" y="285.34" width="2.67" height="2.63" fill="#8fbad8" stroke-width="0.4" stroke="#5a6670"/><rect x="491.76" y="285.34" width="2.67" height="2.63" fill="#8fbad8" stroke-width="0.4" stroke="#5a6670"/><rect x="500.89" y="285.25" width="2.86" height="2.81" fill="#c2dbe8" stroke-width="0.3" stroke="#5a6a78"/><rect x="510.20" y="285.34" width="2.67" height="2.63" fill="#8fbad8" stroke-width="0.4" stroke="#5a6670"/><rect x="519.75" y="285.65" width="2.03" height="1.99" fill="#9fbccc" stroke-width="0.4" stroke="#5a6670"/><rect x="528.97" y="285.65" width="2.03" height="1.99" fill="#9fbccc" stroke-width="0.4" stroke="#5a6670"/><rect x="537.86" y="285.34" width="2.67" height="2.63" fill="#8fbad8" stroke-width="0.4" stroke="#5a6670"/><rect x="546.99" y="285.25" width="2.86" height="2.81" fill="#c2dbe8" stroke-width="0.3" stroke="#5a6a78"/><rect x="556.63" y="285.65" width="2.03" height="1.99" fill="#9fbccc" stroke-width="0.4" stroke="#5a6670"/><rect x="306.90" y="293.95" width="3.60" height="3.53" fill="#7fb0d8" stroke-width="0.3" stroke="#5a6a78"/><rect x="316.12" y="293.95" width="3.60" height="3.53" fill="#7fb0d8" stroke-width="0.3" stroke="#5a6a78"/><rect x="325.71" y="294.31" width="2.86" height="2.81" fill="#c2dbe8" stroke-width="0.3" stroke="#5a6a78"/><rect x="333.73" y="293.13" width="5.26" height="5.17" fill="#4c82bd"/><rect x="344.24" y="294.40" width="2.67" height="2.63" fill="#8fbad8" stroke-width="0.4" stroke="#5a6670"/><rect x="352.17" y="293.13" width="5.26" height="5.17" fill="#4c82bd"/><rect x="361.39" y="293.13" width="5.26" height="5.17" fill="#4c82bd"/><rect x="372.69" y="295.17" width="1.11" height="1.09" fill="#8a9aa0" stroke-width="0.4" stroke="#5a6670"/><rect x="381.03" y="294.31" width="2.86" height="2.81" fill="#c2dbe8" stroke-width="0.3" stroke="#5a6a78"/><rect x="389.88" y="293.95" width="3.60" height="3.53" fill="#7fb0d8" stroke-width="0.3" stroke="#5a6a78"/><rect x="399.10" y="293.95" width="3.60" height="3.53" fill="#7fb0d8" stroke-width="0.3" stroke="#5a6a78"/><rect x="407.49" y="293.13" width="5.26" height="5.17" fill="#4c82bd"/><rect x="417.54" y="293.95" width="3.60" height="3.53" fill="#7fb0d8" stroke-width="0.3" stroke="#5a6a78"/><rect x="426.35" y="293.54" width="4.43" height="4.35" fill="#f8dfd0"/><rect x="434.46" y="292.45" width="6.64" height="6.53" fill="#ef8262"/><rect x="444.79" y="293.54" width="4.43" height="4.35" fill="#f8dfd0"/><rect x="455.21" y="294.72" width="2.03" height="1.99" fill="#9fbccc" stroke-width="0.4" stroke="#5a6670"/><rect x="463.64" y="293.95" width="3.60" height="3.53" fill="#7fb0d8" stroke-width="0.3" stroke="#5a6a78"/><rect x="472.12" y="293.22" width="5.07" height="4.99" fill="#fbc8ac"/><rect x="480.98" y="292.86" width="5.81" height="5.71" fill="#2f5c9c"/><rect x="490.56" y="293.22" width="5.07" height="4.99" fill="#fbc8ac"/><rect x="500.52" y="293.95" width="3.60" height="3.53" fill="#7fb0d8" stroke-width="0.3" stroke="#5a6a78"/><rect x="509.74" y="293.95" width="3.60" height="3.53" fill="#7fb0d8" stroke-width="0.3" stroke="#5a6a78"/><rect x="519.42" y="294.40" width="2.67" height="2.63" fill="#8fbad8" stroke-width="0.4" stroke="#5a6670"/><rect x="527.21" y="293.00" width="5.53" height="5.44" fill="#f6ad8f"/><rect x="536.66" y="293.22" width="5.07" height="4.99" fill="#fbc8ac"/><rect x="545.88" y="293.22" width="5.07" height="4.99" fill="#fbc8ac"/><rect x="555.34" y="293.45" width="4.61" height="4.53" fill="#6aa0d0"/><rect x="315.38" y="302.29" width="5.07" height="4.99" fill="#fbc8ac"/><rect x="326.13" y="303.78" width="2.03" height="1.99" fill="#9fbccc" stroke-width="0.4" stroke="#5a6670"/><rect x="333.59" y="302.06" width="5.53" height="5.44" fill="#f6ad8f"/><rect x="342.26" y="301.52" width="6.64" height="6.53" fill="#ef8262"/><rect x="351.48" y="301.52" width="6.64" height="6.53" fill="#ef8262"/><rect x="360.70" y="301.52" width="6.64" height="6.53" fill="#ef8262"/><rect x="371.03" y="302.60" width="4.43" height="4.35" fill="#f8dfd0"/><rect x="380.25" y="302.60" width="4.43" height="4.35" fill="#f8dfd0"/><rect x="388.91" y="302.06" width="5.53" height="5.44" fill="#f6ad8f"/><rect x="399.47" y="303.38" width="2.86" height="2.81" fill="#c2dbe8" stroke-width="0.3" stroke="#5a6a78"/><rect x="408.18" y="302.88" width="3.87" height="3.81" fill="#e0dfdb"/><rect x="417.13" y="302.60" width="4.43" height="4.35" fill="#f8dfd0"/><rect x="427.13" y="303.38" width="2.86" height="2.81" fill="#c2dbe8" stroke-width="0.3" stroke="#5a6a78"/><rect x="434.88" y="301.92" width="5.81" height="5.71" fill="#2f5c9c"/><rect x="445.66" y="303.47" width="2.67" height="2.63" fill="#8fbad8" stroke-width="0.4" stroke="#5a6670"/><rect x="454.42" y="303.01" width="3.60" height="3.53" fill="#7fb0d8" stroke-width="0.3" stroke="#5a6a78"/><rect x="464.10" y="303.47" width="2.67" height="2.63" fill="#8fbad8" stroke-width="0.4" stroke="#5a6670"/><rect x="473.65" y="303.78" width="2.03" height="1.99" fill="#9fbccc" stroke-width="0.4" stroke="#5a6670"/><rect x="481.94" y="302.88" width="3.87" height="3.81" fill="#e0dfdb"/><rect x="491.30" y="303.01" width="3.60" height="3.53" fill="#7fb0d8" stroke-width="0.3" stroke="#5a6a78"/><rect x="501.31" y="303.78" width="2.03" height="1.99" fill="#9fbccc" stroke-width="0.4" stroke="#5a6670"/><rect x="509.00" y="302.29" width="5.07" height="4.99" fill="#fbc8ac"/><rect x="519.42" y="303.47" width="2.67" height="2.63" fill="#8fbad8" stroke-width="0.4" stroke="#5a6670"/><rect x="527.35" y="302.20" width="5.26" height="5.17" fill="#4c82bd"/><rect x="537.77" y="303.38" width="2.86" height="2.81" fill="#c2dbe8" stroke-width="0.3" stroke="#5a6a78"/><rect x="547.41" y="303.78" width="2.03" height="1.99" fill="#9fbccc" stroke-width="0.4" stroke="#5a6670"/><rect x="555.70" y="302.88" width="3.87" height="3.81" fill="#e0dfdb"/><rect x="325.71" y="312.44" width="2.86" height="2.81" fill="#c2dbe8" stroke-width="0.3" stroke="#5a6a78"/><rect x="334.42" y="311.94" width="3.87" height="3.81" fill="#e0dfdb"/><rect x="343.37" y="311.67" width="4.43" height="4.35" fill="#f8dfd0"/><rect x="352.26" y="311.35" width="5.07" height="4.99" fill="#fbc8ac"/><rect x="360.70" y="310.58" width="6.64" height="6.53" fill="#ef8262"/><rect x="369.92" y="310.58" width="6.64" height="6.53" fill="#ef8262"/><rect x="381.03" y="312.44" width="2.86" height="2.81" fill="#c2dbe8" stroke-width="0.3" stroke="#5a6a78"/><rect x="388.91" y="311.12" width="5.53" height="5.44" fill="#f6ad8f"/><rect x="399.47" y="312.44" width="2.86" height="2.81" fill="#c2dbe8" stroke-width="0.3" stroke="#5a6a78"/><rect x="408.69" y="312.44" width="2.86" height="2.81" fill="#c2dbe8" stroke-width="0.3" stroke="#5a6a78"/><rect x="417.40" y="311.94" width="3.87" height="3.81" fill="#e0dfdb"/><rect x="427.13" y="312.44" width="2.86" height="2.81" fill="#c2dbe8" stroke-width="0.3" stroke="#5a6a78"/><rect x="435.15" y="311.26" width="5.26" height="5.17" fill="#4c82bd"/><rect x="446.45" y="313.30" width="1.11" height="1.09" fill="#8a9aa0" stroke-width="0.4" stroke="#5a6670"/><rect x="454.79" y="312.44" width="2.86" height="2.81" fill="#c2dbe8" stroke-width="0.3" stroke="#5a6a78"/><rect x="464.10" y="312.53" width="2.67" height="2.63" fill="#8fbad8" stroke-width="0.4" stroke="#5a6670"/><rect x="473.65" y="312.85" width="2.03" height="1.99" fill="#9fbccc" stroke-width="0.4" stroke="#5a6670"/><rect x="481.67" y="311.67" width="4.43" height="4.35" fill="#f8dfd0"/><rect x="491.76" y="312.53" width="2.67" height="2.63" fill="#8fbad8" stroke-width="0.4" stroke="#5a6670"/><rect x="499.78" y="311.35" width="5.07" height="4.99" fill="#fbc8ac"/><rect x="509.60" y="311.94" width="3.87" height="3.81" fill="#e0dfdb"/><rect x="518.22" y="311.35" width="5.07" height="4.99" fill="#fbc8ac"/><rect x="528.18" y="312.08" width="3.60" height="3.53" fill="#7fb0d8" stroke-width="0.3" stroke="#5a6a78"/><rect x="538.65" y="313.30" width="1.11" height="1.09" fill="#8a9aa0" stroke-width="0.4" stroke="#5a6670"/><rect x="547.41" y="312.85" width="2.03" height="1.99" fill="#9fbccc" stroke-width="0.4" stroke="#5a6670"/><rect x="555.70" y="311.94" width="3.87" height="3.81" fill="#e0dfdb"/><rect x="335.35" y="321.91" width="2.03" height="1.99" fill="#9fbccc" stroke-width="0.4" stroke="#5a6670"/><rect x="342.95" y="320.32" width="5.26" height="5.17" fill="#4c82bd"/><rect x="353.79" y="321.91" width="2.03" height="1.99" fill="#9fbccc" stroke-width="0.4" stroke="#5a6670"/><rect x="363.01" y="321.91" width="2.03" height="1.99" fill="#9fbccc" stroke-width="0.4" stroke="#5a6670"/><rect x="372.23" y="321.91" width="2.03" height="1.99" fill="#9fbccc" stroke-width="0.4" stroke="#5a6670"/><rect x="381.12" y="321.59" width="2.67" height="2.63" fill="#8fbad8" stroke-width="0.4" stroke="#5a6670"/><rect x="389.88" y="321.14" width="3.60" height="3.53" fill="#7fb0d8" stroke-width="0.3" stroke="#5a6a78"/><rect x="399.89" y="321.91" width="2.03" height="1.99" fill="#9fbccc" stroke-width="0.4" stroke="#5a6670"/><rect x="407.22" y="320.05" width="5.81" height="5.71" fill="#2f5c9c"/><rect x="416.71" y="320.32" width="5.26" height="5.17" fill="#4c82bd"/><rect x="427.55" y="321.91" width="2.03" height="1.99" fill="#9fbccc" stroke-width="0.4" stroke="#5a6670"/><rect x="436.44" y="321.59" width="2.67" height="2.63" fill="#8fbad8" stroke-width="0.4" stroke="#5a6670"/><rect x="444.23" y="320.19" width="5.53" height="5.44" fill="#f6ad8f"/><rect x="453.59" y="320.32" width="5.26" height="5.17" fill="#4c82bd"/><rect x="464.10" y="321.59" width="2.67" height="2.63" fill="#8fbad8" stroke-width="0.4" stroke="#5a6670"/><rect x="473.32" y="321.59" width="2.67" height="2.63" fill="#8fbad8" stroke-width="0.4" stroke="#5a6670"/><rect x="482.87" y="321.91" width="2.03" height="1.99" fill="#9fbccc" stroke-width="0.4" stroke="#5a6670"/><rect x="491.30" y="321.14" width="3.60" height="3.53" fill="#7fb0d8" stroke-width="0.3" stroke="#5a6a78"/><rect x="500.98" y="321.59" width="2.67" height="2.63" fill="#8fbad8" stroke-width="0.4" stroke="#5a6670"/><rect x="510.53" y="321.91" width="2.03" height="1.99" fill="#9fbccc" stroke-width="0.4" stroke="#5a6670"/><rect x="519.42" y="321.59" width="2.67" height="2.63" fill="#8fbad8" stroke-width="0.4" stroke="#5a6670"/><rect x="527.77" y="320.73" width="4.43" height="4.35" fill="#f8dfd0"/><rect x="538.65" y="322.36" width="1.11" height="1.09" fill="#8a9aa0" stroke-width="0.4" stroke="#5a6670"/><rect x="547.41" y="321.91" width="2.03" height="1.99" fill="#9fbccc" stroke-width="0.4" stroke="#5a6670"/><rect x="554.74" y="320.05" width="5.81" height="5.71" fill="#2f5c9c"/><rect x="344.57" y="330.97" width="2.03" height="1.99" fill="#9fbccc" stroke-width="0.4" stroke="#5a6670"/><rect x="351.48" y="328.71" width="6.64" height="6.53" fill="#ef8262"/><rect x="360.70" y="328.71" width="6.64" height="6.53" fill="#ef8262"/><rect x="372.69" y="331.43" width="1.11" height="1.09" fill="#8a9aa0" stroke-width="0.4" stroke="#5a6670"/><rect x="381.45" y="330.97" width="2.03" height="1.99" fill="#9fbccc" stroke-width="0.4" stroke="#5a6670"/><rect x="389.14" y="329.48" width="5.07" height="4.99" fill="#fbc8ac"/><rect x="398.96" y="330.07" width="3.87" height="3.81" fill="#e0dfdb"/><rect x="408.69" y="330.57" width="2.86" height="2.81" fill="#c2dbe8" stroke-width="0.3" stroke="#5a6a78"/><rect x="417.40" y="330.07" width="3.87" height="3.81" fill="#e0dfdb"/><rect x="427.55" y="330.97" width="2.03" height="1.99" fill="#9fbccc" stroke-width="0.4" stroke="#5a6670"/><rect x="434.88" y="329.12" width="5.81" height="5.71" fill="#2f5c9c"/><rect x="445.99" y="330.97" width="2.03" height="1.99" fill="#9fbccc" stroke-width="0.4" stroke="#5a6670"/><rect x="454.88" y="330.66" width="2.67" height="2.63" fill="#8fbad8" stroke-width="0.4" stroke="#5a6670"/><rect x="464.10" y="330.66" width="2.67" height="2.63" fill="#8fbad8" stroke-width="0.4" stroke="#5a6670"/><rect x="473.65" y="330.97" width="2.03" height="1.99" fill="#9fbccc" stroke-width="0.4" stroke="#5a6670"/><rect x="481.34" y="329.48" width="5.07" height="4.99" fill="#fbc8ac"/><rect x="491.76" y="330.66" width="2.67" height="2.63" fill="#8fbad8" stroke-width="0.4" stroke="#5a6670"/><rect x="499.78" y="329.48" width="5.07" height="4.99" fill="#fbc8ac"/><rect x="510.53" y="330.97" width="2.03" height="1.99" fill="#9fbccc" stroke-width="0.4" stroke="#5a6670"/><rect x="518.22" y="329.48" width="5.07" height="4.99" fill="#fbc8ac"/><rect x="528.18" y="330.20" width="3.60" height="3.53" fill="#7fb0d8" stroke-width="0.3" stroke="#5a6a78"/><rect x="538.19" y="330.97" width="2.03" height="1.99" fill="#9fbccc" stroke-width="0.4" stroke="#5a6670"/><rect x="546.99" y="330.57" width="2.86" height="2.81" fill="#c2dbe8" stroke-width="0.3" stroke="#5a6a78"/><rect x="555.43" y="329.80" width="4.43" height="4.35" fill="#f8dfd0"/><rect x="352.86" y="339.13" width="3.87" height="3.81" fill="#e0dfdb"/><rect x="361.81" y="338.86" width="4.43" height="4.35" fill="#f8dfd0"/><rect x="370.47" y="338.32" width="5.53" height="5.44" fill="#f6ad8f"/><rect x="380.25" y="338.86" width="4.43" height="4.35" fill="#f8dfd0"/><rect x="388.36" y="337.77" width="6.64" height="6.53" fill="#ef8262"/><rect x="399.47" y="339.63" width="2.86" height="2.81" fill="#c2dbe8" stroke-width="0.3" stroke="#5a6a78"/><rect x="406.80" y="337.77" width="6.64" height="6.53" fill="#ef8262"/><rect x="416.02" y="337.77" width="6.64" height="6.53" fill="#ef8262"/><rect x="427.13" y="339.63" width="2.86" height="2.81" fill="#c2dbe8" stroke-width="0.3" stroke="#5a6a78"/><rect x="435.48" y="338.77" width="4.61" height="4.53" fill="#6aa0d0"/><rect x="445.20" y="339.27" width="3.60" height="3.53" fill="#7fb0d8" stroke-width="0.3" stroke="#5a6a78"/><rect x="454.28" y="339.13" width="3.87" height="3.81" fill="#e0dfdb"/><rect x="464.10" y="339.72" width="2.67" height="2.63" fill="#8fbad8" stroke-width="0.4" stroke="#5a6670"/><rect x="473.23" y="339.63" width="2.86" height="2.81" fill="#c2dbe8" stroke-width="0.3" stroke="#5a6a78"/><rect x="481.34" y="338.54" width="5.07" height="4.99" fill="#fbc8ac"/><rect x="490.89" y="338.86" width="4.43" height="4.35" fill="#f8dfd0"/><rect x="501.77" y="340.49" width="1.11" height="1.09" fill="#8a9aa0" stroke-width="0.4" stroke="#5a6670"/><rect x="509.33" y="338.86" width="4.43" height="4.35" fill="#f8dfd0"/><rect x="519.33" y="339.63" width="2.86" height="2.81" fill="#c2dbe8" stroke-width="0.3" stroke="#5a6a78"/><rect x="527.68" y="338.77" width="4.61" height="4.53" fill="#6aa0d0"/><rect x="537.86" y="339.72" width="2.67" height="2.63" fill="#8fbad8" stroke-width="0.4" stroke="#5a6670"/><rect x="547.08" y="339.72" width="2.67" height="2.63" fill="#8fbad8" stroke-width="0.4" stroke="#5a6670"/><rect x="554.87" y="338.32" width="5.53" height="5.44" fill="#f6ad8f"/><rect x="360.15" y="346.29" width="7.74" height="7.61" fill="#e8583a"/><rect x="372.23" y="349.10" width="2.03" height="1.99" fill="#9fbccc" stroke-width="0.4" stroke="#5a6670"/><rect x="381.45" y="349.10" width="2.03" height="1.99" fill="#9fbccc" stroke-width="0.4" stroke="#5a6670"/><rect x="388.36" y="346.84" width="6.64" height="6.53" fill="#ef8262"/><rect x="397.58" y="346.84" width="6.64" height="6.53" fill="#ef8262"/><rect x="408.18" y="348.20" width="3.87" height="3.81" fill="#e0dfdb"/><rect x="416.80" y="347.61" width="5.07" height="4.99" fill="#fbc8ac"/><rect x="427.55" y="349.10" width="2.03" height="1.99" fill="#9fbccc" stroke-width="0.4" stroke="#5a6670"/><rect x="434.88" y="347.24" width="5.81" height="5.71" fill="#2f5c9c"/><rect x="445.20" y="348.33" width="3.60" height="3.53" fill="#7fb0d8" stroke-width="0.3" stroke="#5a6a78"/><rect x="454.79" y="348.70" width="2.86" height="2.81" fill="#c2dbe8" stroke-width="0.3" stroke="#5a6a78"/><rect x="463.50" y="348.20" width="3.87" height="3.81" fill="#e0dfdb"/><rect x="473.65" y="349.10" width="2.03" height="1.99" fill="#9fbccc" stroke-width="0.4" stroke="#5a6670"/><rect x="481.11" y="347.38" width="5.53" height="5.44" fill="#f6ad8f"/><rect x="491.76" y="348.79" width="2.67" height="2.63" fill="#8fbad8" stroke-width="0.4" stroke="#5a6670"/><rect x="500.89" y="348.70" width="2.86" height="2.81" fill="#c2dbe8" stroke-width="0.3" stroke="#5a6a78"/><rect x="508.77" y="347.38" width="5.53" height="5.44" fill="#f6ad8f"/><rect x="517.99" y="347.38" width="5.53" height="5.44" fill="#f6ad8f"/><rect x="527.68" y="347.83" width="4.61" height="4.53" fill="#6aa0d0"/><rect x="538.19" y="349.10" width="2.03" height="1.99" fill="#9fbccc" stroke-width="0.4" stroke="#5a6670"/><rect x="547.41" y="349.10" width="2.03" height="1.99" fill="#9fbccc" stroke-width="0.4" stroke="#5a6670"/><rect x="555.43" y="347.92" width="4.43" height="4.35" fill="#f8dfd0"/><rect x="372.23" y="358.17" width="2.03" height="1.99" fill="#9fbccc" stroke-width="0.4" stroke="#5a6670"/><rect x="381.91" y="358.62" width="1.11" height="1.09" fill="#8a9aa0" stroke-width="0.4" stroke="#5a6670"/><rect x="388.36" y="355.90" width="6.64" height="6.53" fill="#ef8262"/><rect x="397.58" y="355.90" width="6.64" height="6.53" fill="#ef8262"/><rect x="407.58" y="356.67" width="5.07" height="4.99" fill="#fbc8ac"/><rect x="416.57" y="356.44" width="5.53" height="5.44" fill="#f6ad8f"/><rect x="427.13" y="357.76" width="2.86" height="2.81" fill="#c2dbe8" stroke-width="0.3" stroke="#5a6a78"/><rect x="435.15" y="356.58" width="5.26" height="5.17" fill="#4c82bd"/><rect x="444.70" y="356.90" width="4.61" height="4.53" fill="#6aa0d0"/><rect x="455.67" y="358.62" width="1.11" height="1.09" fill="#8a9aa0" stroke-width="0.4" stroke="#5a6670"/><rect x="463.50" y="357.26" width="3.87" height="3.81" fill="#e0dfdb"/><rect x="473.65" y="358.17" width="2.03" height="1.99" fill="#9fbccc" stroke-width="0.4" stroke="#5a6670"/><rect x="481.11" y="356.44" width="5.53" height="5.44" fill="#f6ad8f"/><rect x="492.09" y="358.17" width="2.03" height="1.99" fill="#9fbccc" stroke-width="0.4" stroke="#5a6670"/><rect x="500.38" y="357.26" width="3.87" height="3.81" fill="#e0dfdb"/><rect x="508.77" y="356.44" width="5.53" height="5.44" fill="#f6ad8f"/><rect x="517.99" y="356.44" width="5.53" height="5.44" fill="#f6ad8f"/><rect x="528.18" y="357.40" width="3.60" height="3.53" fill="#7fb0d8" stroke-width="0.3" stroke="#5a6a78"/><rect x="538.19" y="358.17" width="2.03" height="1.99" fill="#9fbccc" stroke-width="0.4" stroke="#5a6670"/><rect x="547.41" y="358.17" width="2.03" height="1.99" fill="#9fbccc" stroke-width="0.4" stroke="#5a6670"/><rect x="554.87" y="356.44" width="5.53" height="5.44" fill="#f6ad8f"/><rect x="378.59" y="364.42" width="7.74" height="7.61" fill="#e8583a"/><rect x="388.36" y="364.96" width="6.64" height="6.53" fill="#ef8262"/><rect x="400.35" y="367.68" width="1.11" height="1.09" fill="#8a9aa0" stroke-width="0.4" stroke="#5a6670"/><rect x="408.69" y="366.82" width="2.86" height="2.81" fill="#c2dbe8" stroke-width="0.3" stroke="#5a6a78"/><rect x="417.40" y="366.32" width="3.87" height="3.81" fill="#e0dfdb"/><rect x="427.13" y="366.82" width="2.86" height="2.81" fill="#c2dbe8" stroke-width="0.3" stroke="#5a6a78"/><rect x="436.77" y="367.23" width="2.03" height="1.99" fill="#9fbccc" stroke-width="0.4" stroke="#5a6670"/><rect x="445.57" y="366.82" width="2.86" height="2.81" fill="#c2dbe8" stroke-width="0.3" stroke="#5a6a78"/><rect x="454.28" y="366.32" width="3.87" height="3.81" fill="#e0dfdb"/><rect x="462.81" y="365.64" width="5.26" height="5.17" fill="#4c82bd"/><rect x="473.23" y="366.82" width="2.86" height="2.81" fill="#c2dbe8" stroke-width="0.3" stroke="#5a6a78"/><rect x="482.87" y="367.23" width="2.03" height="1.99" fill="#9fbccc" stroke-width="0.4" stroke="#5a6670"/><rect x="490.56" y="365.74" width="5.07" height="4.99" fill="#fbc8ac"/><rect x="500.98" y="366.91" width="2.67" height="2.63" fill="#8fbad8" stroke-width="0.4" stroke="#5a6670"/><rect x="510.53" y="367.23" width="2.03" height="1.99" fill="#9fbccc" stroke-width="0.4" stroke="#5a6670"/><rect x="518.96" y="366.46" width="3.60" height="3.53" fill="#7fb0d8" stroke-width="0.3" stroke="#5a6a78"/><rect x="528.18" y="366.46" width="3.60" height="3.53" fill="#7fb0d8" stroke-width="0.3" stroke="#5a6a78"/><rect x="538.19" y="367.23" width="2.03" height="1.99" fill="#9fbccc" stroke-width="0.4" stroke="#5a6670"/><rect x="547.41" y="367.23" width="2.03" height="1.99" fill="#9fbccc" stroke-width="0.4" stroke="#5a6670"/><rect x="555.70" y="366.32" width="3.87" height="3.81" fill="#e0dfdb"/><rect x="388.91" y="374.57" width="5.53" height="5.44" fill="#f6ad8f"/><rect x="399.56" y="375.98" width="2.67" height="2.63" fill="#8fbad8" stroke-width="0.4" stroke="#5a6670"/><rect x="408.18" y="375.39" width="3.87" height="3.81" fill="#e0dfdb"/><rect x="417.40" y="375.39" width="3.87" height="3.81" fill="#e0dfdb"/><rect x="426.62" y="375.39" width="3.87" height="3.81" fill="#e0dfdb"/><rect x="436.44" y="375.98" width="2.67" height="2.63" fill="#8fbad8" stroke-width="0.4" stroke="#5a6670"/><rect x="445.57" y="375.89" width="2.86" height="2.81" fill="#c2dbe8" stroke-width="0.3" stroke="#5a6a78"/><rect x="454.01" y="375.12" width="4.43" height="4.35" fill="#f8dfd0"/><rect x="462.54" y="374.44" width="5.81" height="5.71" fill="#2f5c9c"/><rect x="473.23" y="375.89" width="2.86" height="2.81" fill="#c2dbe8" stroke-width="0.3" stroke="#5a6a78"/><rect x="482.54" y="375.98" width="2.67" height="2.63" fill="#8fbad8" stroke-width="0.4" stroke="#5a6670"/><rect x="490.56" y="374.80" width="5.07" height="4.99" fill="#fbc8ac"/><rect x="499.69" y="374.71" width="5.26" height="5.17" fill="#4c82bd"/><rect x="510.53" y="376.29" width="2.03" height="1.99" fill="#9fbccc" stroke-width="0.4" stroke="#5a6670"/><rect x="517.86" y="374.44" width="5.81" height="5.71" fill="#2f5c9c"/><rect x="528.18" y="375.52" width="3.60" height="3.53" fill="#7fb0d8" stroke-width="0.3" stroke="#5a6a78"/><rect x="538.19" y="376.29" width="2.03" height="1.99" fill="#9fbccc" stroke-width="0.4" stroke="#5a6670"/><rect x="547.41" y="376.29" width="2.03" height="1.99" fill="#9fbccc" stroke-width="0.4" stroke="#5a6670"/><rect x="555.70" y="375.39" width="3.87" height="3.81" fill="#e0dfdb"/><rect x="398.69" y="384.18" width="4.43" height="4.35" fill="#f8dfd0"/><rect x="407.35" y="383.64" width="5.53" height="5.44" fill="#f6ad8f"/><rect x="416.02" y="383.09" width="6.64" height="6.53" fill="#ef8262"/><rect x="426.62" y="384.45" width="3.87" height="3.81" fill="#e0dfdb"/><rect x="434.88" y="383.50" width="5.81" height="5.71" fill="#2f5c9c"/><rect x="445.99" y="385.36" width="2.03" height="1.99" fill="#9fbccc" stroke-width="0.4" stroke="#5a6670"/><rect x="454.01" y="384.18" width="4.43" height="4.35" fill="#f8dfd0"/><rect x="464.10" y="385.04" width="2.67" height="2.63" fill="#8fbad8" stroke-width="0.4" stroke="#5a6670"/><rect x="472.72" y="384.45" width="3.87" height="3.81" fill="#e0dfdb"/><rect x="481.34" y="383.86" width="5.07" height="4.99" fill="#fbc8ac"/><rect x="491.67" y="384.95" width="2.86" height="2.81" fill="#c2dbe8" stroke-width="0.3" stroke="#5a6a78"/><rect x="500.98" y="385.04" width="2.67" height="2.63" fill="#8fbad8" stroke-width="0.4" stroke="#5a6670"/><rect x="509.00" y="383.86" width="5.07" height="4.99" fill="#fbc8ac"/><rect x="520.21" y="385.81" width="1.11" height="1.09" fill="#8a9aa0" stroke-width="0.4" stroke="#5a6670"/><rect x="527.35" y="383.77" width="5.26" height="5.17" fill="#4c82bd"/><rect x="537.86" y="385.04" width="2.67" height="2.63" fill="#8fbad8" stroke-width="0.4" stroke="#5a6670"/><rect x="547.08" y="385.04" width="2.67" height="2.63" fill="#8fbad8" stroke-width="0.4" stroke="#5a6670"/><rect x="554.32" y="383.09" width="6.64" height="6.53" fill="#ef8262"/><rect x="407.91" y="393.24" width="4.43" height="4.35" fill="#f8dfd0"/><rect x="417.13" y="393.24" width="4.43" height="4.35" fill="#f8dfd0"/><rect x="427.22" y="394.11" width="2.67" height="2.63" fill="#8fbad8" stroke-width="0.4" stroke="#5a6670"/><rect x="434.88" y="392.56" width="5.81" height="5.71" fill="#2f5c9c"/><rect x="445.20" y="393.65" width="3.60" height="3.53" fill="#7fb0d8" stroke-width="0.3" stroke="#5a6a78"/><rect x="454.28" y="393.52" width="3.87" height="3.81" fill="#e0dfdb"/><rect x="464.43" y="394.42" width="2.03" height="1.99" fill="#9fbccc" stroke-width="0.4" stroke="#5a6670"/><rect x="473.65" y="394.42" width="2.03" height="1.99" fill="#9fbccc" stroke-width="0.4" stroke="#5a6670"/><rect x="481.94" y="393.52" width="3.87" height="3.81" fill="#e0dfdb"/><rect x="490.80" y="393.15" width="4.61" height="4.53" fill="#6aa0d0"/><rect x="500.98" y="394.11" width="2.67" height="2.63" fill="#8fbad8" stroke-width="0.4" stroke="#5a6670"/><rect x="509.60" y="393.52" width="3.87" height="3.81" fill="#e0dfdb"/><rect x="518.55" y="393.24" width="4.43" height="4.35" fill="#f8dfd0"/><rect x="528.18" y="393.65" width="3.60" height="3.53" fill="#7fb0d8" stroke-width="0.3" stroke="#5a6a78"/><rect x="537.40" y="393.65" width="3.60" height="3.53" fill="#7fb0d8" stroke-width="0.3" stroke="#5a6a78"/><rect x="547.08" y="394.11" width="2.67" height="2.63" fill="#8fbad8" stroke-width="0.4" stroke="#5a6670"/><rect x="555.10" y="392.93" width="5.07" height="4.99" fill="#fbc8ac"/><rect x="416.02" y="401.22" width="6.64" height="6.53" fill="#ef8262"/><rect x="427.55" y="403.49" width="2.03" height="1.99" fill="#9fbccc" stroke-width="0.4" stroke="#5a6670"/><rect x="434.60" y="401.36" width="6.36" height="6.25" fill="#1f3c73"/><rect x="444.37" y="401.90" width="5.26" height="5.17" fill="#4c82bd"/><rect x="454.01" y="402.31" width="4.43" height="4.35" fill="#f8dfd0"/><rect x="463.64" y="402.72" width="3.60" height="3.53" fill="#7fb0d8" stroke-width="0.3" stroke="#5a6a78"/><rect x="474.11" y="403.94" width="1.11" height="1.09" fill="#8a9aa0" stroke-width="0.4" stroke="#5a6670"/><rect x="481.34" y="401.99" width="5.07" height="4.99" fill="#fbc8ac"/><rect x="491.16" y="402.58" width="3.87" height="3.81" fill="#e0dfdb"/><rect x="501.77" y="403.94" width="1.11" height="1.09" fill="#8a9aa0" stroke-width="0.4" stroke="#5a6670"/><rect x="509.00" y="401.99" width="5.07" height="4.99" fill="#fbc8ac"/><rect x="518.96" y="402.72" width="3.60" height="3.53" fill="#7fb0d8" stroke-width="0.3" stroke="#5a6a78"/><rect x="526.80" y="401.36" width="6.36" height="6.25" fill="#1f3c73"/><rect x="536.30" y="401.63" width="5.81" height="5.71" fill="#2f5c9c"/><rect x="545.52" y="401.63" width="5.81" height="5.71" fill="#2f5c9c"/><rect x="553.77" y="400.68" width="7.74" height="7.61" fill="#e8583a"/><rect x="427.13" y="412.14" width="2.86" height="2.81" fill="#c2dbe8" stroke-width="0.3" stroke="#5a6a78"/><rect x="435.15" y="410.96" width="5.26" height="5.17" fill="#4c82bd"/><rect x="444.70" y="411.28" width="4.61" height="4.53" fill="#6aa0d0"/><rect x="454.28" y="411.64" width="3.87" height="3.81" fill="#e0dfdb"/><rect x="464.10" y="412.23" width="2.67" height="2.63" fill="#8fbad8" stroke-width="0.4" stroke="#5a6670"/><rect x="472.72" y="411.64" width="3.87" height="3.81" fill="#e0dfdb"/><rect x="481.11" y="410.83" width="5.53" height="5.44" fill="#f6ad8f"/><rect x="491.30" y="411.78" width="3.60" height="3.53" fill="#7fb0d8" stroke-width="0.3" stroke="#5a6a78"/><rect x="500.98" y="412.23" width="2.67" height="2.63" fill="#8fbad8" stroke-width="0.4" stroke="#5a6670"/><rect x="509.00" y="411.06" width="5.07" height="4.99" fill="#fbc8ac"/><rect x="519.42" y="412.23" width="2.67" height="2.63" fill="#8fbad8" stroke-width="0.4" stroke="#5a6670"/><rect x="527.35" y="410.96" width="5.26" height="5.17" fill="#4c82bd"/><rect x="537.40" y="411.78" width="3.60" height="3.53" fill="#7fb0d8" stroke-width="0.3" stroke="#5a6a78"/><rect x="547.87" y="413.00" width="1.11" height="1.09" fill="#8a9aa0" stroke-width="0.4" stroke="#5a6670"/><rect x="555.10" y="411.06" width="5.07" height="4.99" fill="#fbc8ac"/><rect x="436.35" y="421.21" width="2.86" height="2.81" fill="#c2dbe8" stroke-width="0.3" stroke="#5a6a78"/><rect x="446.45" y="422.07" width="1.11" height="1.09" fill="#8a9aa0" stroke-width="0.4" stroke="#5a6670"/><rect x="455.21" y="421.61" width="2.03" height="1.99" fill="#9fbccc" stroke-width="0.4" stroke="#5a6670"/><rect x="464.43" y="421.61" width="2.03" height="1.99" fill="#9fbccc" stroke-width="0.4" stroke="#5a6670"/><rect x="473.23" y="421.21" width="2.86" height="2.81" fill="#c2dbe8" stroke-width="0.3" stroke="#5a6a78"/><rect x="482.87" y="421.61" width="2.03" height="1.99" fill="#9fbccc" stroke-width="0.4" stroke="#5a6670"/><rect x="490.56" y="420.12" width="5.07" height="4.99" fill="#fbc8ac"/><rect x="501.77" y="422.07" width="1.11" height="1.09" fill="#8a9aa0" stroke-width="0.4" stroke="#5a6670"/><rect x="510.20" y="421.30" width="2.67" height="2.63" fill="#8fbad8" stroke-width="0.4" stroke="#5a6670"/><rect x="519.75" y="421.61" width="2.03" height="1.99" fill="#9fbccc" stroke-width="0.4" stroke="#5a6670"/><rect x="528.55" y="421.21" width="2.86" height="2.81" fill="#c2dbe8" stroke-width="0.3" stroke="#5a6a78"/><rect x="537.86" y="421.30" width="2.67" height="2.63" fill="#8fbad8" stroke-width="0.4" stroke="#5a6670"/><rect x="546.48" y="420.71" width="3.87" height="3.81" fill="#e0dfdb"/><rect x="557.09" y="422.07" width="1.11" height="1.09" fill="#8a9aa0" stroke-width="0.4" stroke="#5a6670"/><rect x="445.57" y="430.27" width="2.86" height="2.81" fill="#c2dbe8" stroke-width="0.3" stroke="#5a6a78"/><rect x="455.21" y="430.68" width="2.03" height="1.99" fill="#9fbccc" stroke-width="0.4" stroke="#5a6670"/><rect x="464.43" y="430.68" width="2.03" height="1.99" fill="#9fbccc" stroke-width="0.4" stroke="#5a6670"/><rect x="471.89" y="428.96" width="5.53" height="5.44" fill="#f6ad8f"/><rect x="481.25" y="429.09" width="5.26" height="5.17" fill="#4c82bd"/><rect x="491.76" y="430.36" width="2.67" height="2.63" fill="#8fbad8" stroke-width="0.4" stroke="#5a6670"/><rect x="500.52" y="429.91" width="3.60" height="3.53" fill="#7fb0d8" stroke-width="0.3" stroke="#5a6a78"/><rect x="508.91" y="429.09" width="5.26" height="5.17" fill="#4c82bd"/><rect x="518.96" y="429.91" width="3.60" height="3.53" fill="#7fb0d8" stroke-width="0.3" stroke="#5a6a78"/><rect x="526.11" y="427.87" width="7.74" height="7.61" fill="#e8583a"/><rect x="535.88" y="428.41" width="6.64" height="6.53" fill="#ef8262"/><rect x="545.10" y="428.41" width="6.64" height="6.53" fill="#ef8262"/><rect x="554.74" y="428.82" width="5.81" height="5.71" fill="#2f5c9c"/><rect x="454.42" y="438.97" width="3.60" height="3.53" fill="#7fb0d8" stroke-width="0.3" stroke="#5a6a78"/><rect x="463.14" y="438.47" width="4.61" height="4.53" fill="#6aa0d0"/><rect x="474.11" y="440.20" width="1.11" height="1.09" fill="#8a9aa0" stroke-width="0.4" stroke="#5a6670"/><rect x="482.08" y="438.97" width="3.60" height="3.53" fill="#7fb0d8" stroke-width="0.3" stroke="#5a6a78"/><rect x="492.55" y="440.20" width="1.11" height="1.09" fill="#8a9aa0" stroke-width="0.4" stroke="#5a6670"/><rect x="500.52" y="438.97" width="3.60" height="3.53" fill="#7fb0d8" stroke-width="0.3" stroke="#5a6a78"/><rect x="509.74" y="438.97" width="3.60" height="3.53" fill="#7fb0d8" stroke-width="0.3" stroke="#5a6a78"/><rect x="518.96" y="438.97" width="3.60" height="3.53" fill="#7fb0d8" stroke-width="0.3" stroke="#5a6a78"/><rect x="528.55" y="439.34" width="2.86" height="2.81" fill="#c2dbe8" stroke-width="0.3" stroke="#5a6a78"/><rect x="537.40" y="438.97" width="3.60" height="3.53" fill="#7fb0d8" stroke-width="0.3" stroke="#5a6a78"/><rect x="547.41" y="439.74" width="2.03" height="1.99" fill="#9fbccc" stroke-width="0.4" stroke="#5a6670"/><rect x="555.01" y="438.16" width="5.26" height="5.17" fill="#4c82bd"/><rect x="463.64" y="448.04" width="3.60" height="3.53" fill="#7fb0d8" stroke-width="0.3" stroke="#5a6a78"/><rect x="472.72" y="447.90" width="3.87" height="3.81" fill="#e0dfdb"/><rect x="482.87" y="448.81" width="2.03" height="1.99" fill="#9fbccc" stroke-width="0.4" stroke="#5a6670"/><rect x="491.67" y="448.40" width="2.86" height="2.81" fill="#c2dbe8" stroke-width="0.3" stroke="#5a6a78"/><rect x="500.52" y="448.04" width="3.60" height="3.53" fill="#7fb0d8" stroke-width="0.3" stroke="#5a6a78"/><rect x="510.20" y="448.49" width="2.67" height="2.63" fill="#8fbad8" stroke-width="0.4" stroke="#5a6670"/><rect x="518.96" y="448.04" width="3.60" height="3.53" fill="#7fb0d8" stroke-width="0.3" stroke="#5a6a78"/><rect x="528.18" y="448.04" width="3.60" height="3.53" fill="#7fb0d8" stroke-width="0.3" stroke="#5a6a78"/><rect x="538.19" y="448.81" width="2.03" height="1.99" fill="#9fbccc" stroke-width="0.4" stroke="#5a6670"/><rect x="547.87" y="449.26" width="1.11" height="1.09" fill="#8a9aa0" stroke-width="0.4" stroke="#5a6670"/><rect x="555.70" y="447.90" width="3.87" height="3.81" fill="#e0dfdb"/><rect x="473.32" y="457.55" width="2.67" height="2.63" fill="#8fbad8" stroke-width="0.4" stroke="#5a6670"/><rect x="481.34" y="456.38" width="5.07" height="4.99" fill="#fbc8ac"/><rect x="491.30" y="457.10" width="3.60" height="3.53" fill="#7fb0d8" stroke-width="0.3" stroke="#5a6a78"/><rect x="499.00" y="455.60" width="6.64" height="6.53" fill="#ef8262"/><rect x="509.60" y="456.96" width="3.87" height="3.81" fill="#e0dfdb"/><rect x="516.89" y="455.06" width="7.74" height="7.61" fill="#e8583a"/><rect x="528.55" y="457.46" width="2.86" height="2.81" fill="#c2dbe8" stroke-width="0.3" stroke="#5a6a78"/><rect x="538.19" y="457.87" width="2.03" height="1.99" fill="#9fbccc" stroke-width="0.4" stroke="#5a6670"/><rect x="546.99" y="457.46" width="2.86" height="2.81" fill="#c2dbe8" stroke-width="0.3" stroke="#5a6a78"/><rect x="556.63" y="457.87" width="2.03" height="1.99" fill="#9fbccc" stroke-width="0.4" stroke="#5a6670"/><rect x="483.33" y="467.39" width="1.11" height="1.09" fill="#8a9aa0" stroke-width="0.4" stroke="#5a6670"/><rect x="491.76" y="466.62" width="2.67" height="2.63" fill="#8fbad8" stroke-width="0.4" stroke="#5a6670"/><rect x="500.52" y="466.16" width="3.60" height="3.53" fill="#7fb0d8" stroke-width="0.3" stroke="#5a6a78"/><rect x="510.20" y="466.62" width="2.67" height="2.63" fill="#8fbad8" stroke-width="0.4" stroke="#5a6670"/><rect x="519.42" y="466.62" width="2.67" height="2.63" fill="#8fbad8" stroke-width="0.4" stroke="#5a6670"/><rect x="527.21" y="465.21" width="5.53" height="5.44" fill="#f6ad8f"/><rect x="537.26" y="466.03" width="3.87" height="3.81" fill="#e0dfdb"/><rect x="545.10" y="464.67" width="6.64" height="6.53" fill="#ef8262"/><rect x="556.63" y="466.93" width="2.03" height="1.99" fill="#9fbccc" stroke-width="0.4" stroke="#5a6670"/><rect x="491.30" y="475.23" width="3.60" height="3.53" fill="#7fb0d8" stroke-width="0.3" stroke="#5a6a78"/><rect x="500.11" y="474.82" width="4.43" height="4.35" fill="#f8dfd0"/><rect x="508.77" y="474.28" width="5.53" height="5.44" fill="#f6ad8f"/><rect x="517.99" y="474.28" width="5.53" height="5.44" fill="#f6ad8f"/><rect x="527.68" y="474.73" width="4.61" height="4.53" fill="#6aa0d0"/><rect x="536.90" y="474.73" width="4.61" height="4.53" fill="#6aa0d0"/><rect x="546.12" y="474.73" width="4.61" height="4.53" fill="#6aa0d0"/><rect x="555.70" y="475.09" width="3.87" height="3.81" fill="#e0dfdb"/><rect x="500.52" y="484.29" width="3.60" height="3.53" fill="#7fb0d8" stroke-width="0.3" stroke="#5a6a78"/><rect x="510.99" y="485.52" width="1.11" height="1.09" fill="#8a9aa0" stroke-width="0.4" stroke="#5a6670"/><rect x="518.96" y="484.29" width="3.60" height="3.53" fill="#7fb0d8" stroke-width="0.3" stroke="#5a6a78"/><rect x="528.97" y="485.06" width="2.03" height="1.99" fill="#9fbccc" stroke-width="0.4" stroke="#5a6670"/><rect x="537.77" y="484.66" width="2.86" height="2.81" fill="#c2dbe8" stroke-width="0.3" stroke="#5a6a78"/><rect x="547.41" y="485.06" width="2.03" height="1.99" fill="#9fbccc" stroke-width="0.4" stroke="#5a6670"/><rect x="557.09" y="485.52" width="1.11" height="1.09" fill="#8a9aa0" stroke-width="0.4" stroke="#5a6670"/><rect x="509.33" y="492.95" width="4.43" height="4.35" fill="#f8dfd0"/><rect x="516.89" y="491.32" width="7.74" height="7.61" fill="#e8583a"/><rect x="529.43" y="494.58" width="1.11" height="1.09" fill="#8a9aa0" stroke-width="0.4" stroke="#5a6670"/><rect x="537.86" y="493.81" width="2.67" height="2.63" fill="#8fbad8" stroke-width="0.4" stroke="#5a6670"/><rect x="547.87" y="494.58" width="1.11" height="1.09" fill="#8a9aa0" stroke-width="0.4" stroke="#5a6670"/><rect x="556.63" y="494.13" width="2.03" height="1.99" fill="#9fbccc" stroke-width="0.4" stroke="#5a6670"/><rect x="518.55" y="502.01" width="4.43" height="4.35" fill="#f8dfd0"/><rect x="527.35" y="501.60" width="5.26" height="5.17" fill="#4c82bd"/><rect x="536.57" y="501.60" width="5.26" height="5.17" fill="#4c82bd"/><rect x="546.12" y="501.92" width="4.61" height="4.53" fill="#6aa0d0"/><rect x="555.43" y="502.01" width="4.43" height="4.35" fill="#f8dfd0"/><rect x="528.55" y="511.85" width="2.86" height="2.81" fill="#c2dbe8" stroke-width="0.3" stroke="#5a6a78"/><rect x="538.65" y="512.71" width="1.11" height="1.09" fill="#8a9aa0" stroke-width="0.4" stroke="#5a6670"/><rect x="547.41" y="512.25" width="2.03" height="1.99" fill="#9fbccc" stroke-width="0.4" stroke="#5a6670"/><rect x="556.30" y="511.94" width="2.67" height="2.63" fill="#8fbad8" stroke-width="0.4" stroke="#5a6670"/><rect x="535.88" y="519.05" width="6.64" height="6.53" fill="#ef8262"/><rect x="544.55" y="518.51" width="7.74" height="7.61" fill="#e8583a"/><rect x="554.74" y="519.46" width="5.81" height="5.71" fill="#2f5c9c"/><rect x="544.55" y="527.57" width="7.74" height="7.61" fill="#e8583a"/><rect x="555.34" y="529.11" width="4.61" height="4.53" fill="#6aa0d0"/><rect x="556.30" y="539.13" width="2.67" height="2.63" fill="#8fbad8" stroke-width="0.4" stroke="#5a6670"/></g><g font-size="7.7" text-anchor="middle" fill="#000" stroke="#000" stroke-width="0.15"><text x="161.18" y="125.10">***</text><text x="548.42" y="125.10">*</text><text x="262.60" y="134.16">***</text><text x="271.82" y="134.16">***</text><text x="345.58" y="134.16">*</text><text x="410.12" y="134.16">***</text><text x="529.98" y="134.16">*</text><text x="548.42" y="134.16">*</text><text x="557.64" y="134.16">*</text><text x="299.48" y="143.23">***</text><text x="308.70" y="143.23">***</text><text x="336.36" y="143.23">***</text><text x="345.58" y="143.23">***</text><text x="354.80" y="143.23">***</text><text x="364.02" y="143.23">***</text><text x="391.68" y="143.23">***</text><text x="400.90" y="143.23">***</text><text x="410.12" y="143.23">***</text><text x="419.34" y="143.23">***</text><text x="437.78" y="143.23">***</text><text x="483.88" y="143.23">***</text><text x="511.54" y="143.23">***</text><text x="529.98" y="143.23">***</text><text x="539.20" y="143.23">*</text><text x="557.64" y="143.23">***</text><text x="179.62" y="152.29">***</text><text x="216.50" y="152.29">***</text><text x="234.94" y="152.29">*</text><text x="253.38" y="152.29">***</text><text x="299.48" y="152.29">*</text><text x="308.70" y="152.29">*</text><text x="327.14" y="152.29">*</text><text x="345.58" y="152.29">***</text><text x="373.24" y="152.29">***</text><text x="382.46" y="152.29">***</text><text x="391.68" y="152.29">***</text><text x="410.12" y="152.29">***</text><text x="419.34" y="152.29">***</text><text x="437.78" y="152.29">***</text><text x="456.22" y="152.29">*</text><text x="529.98" y="152.29">***</text><text x="557.64" y="152.29">***</text><text x="548.42" y="161.36">*</text><text x="188.84" y="170.42">*</text><text x="198.06" y="170.42">*</text><text x="207.28" y="170.42">*</text><text x="234.94" y="170.42">*</text><text x="244.16" y="170.42">***</text><text x="262.60" y="170.42">*</text><text x="364.02" y="170.42">*</text><text x="382.46" y="170.42">*</text><text x="447.00" y="170.42">***</text><text x="465.44" y="170.42">***</text><text x="502.32" y="170.42">***</text><text x="520.76" y="170.42">***</text><text x="216.50" y="179.48">***</text><text x="253.38" y="179.48">***</text><text x="308.70" y="179.48">*</text><text x="327.14" y="179.48">*</text><text x="345.58" y="179.48">***</text><text x="373.24" y="179.48">***</text><text x="382.46" y="179.48">***</text><text x="391.68" y="179.48">***</text><text x="410.12" y="179.48">***</text><text x="419.34" y="179.48">***</text><text x="437.78" y="179.48">***</text><text x="456.22" y="179.48">*</text><text x="529.98" y="179.48">***</text><text x="557.64" y="179.48">***</text><text x="198.06" y="188.55">***</text><text x="207.28" y="188.55">***</text><text x="244.16" y="188.55">*</text><text x="308.70" y="188.55">*</text><text x="317.92" y="188.55">***</text><text x="354.80" y="188.55">***</text><text x="364.02" y="188.55">***</text><text x="400.90" y="188.55">*</text><text x="447.00" y="188.55">***</text><text x="465.44" y="188.55">*</text><text x="502.32" y="188.55">*</text><text x="511.54" y="188.55">*</text><text x="520.76" y="188.55">***</text><text x="207.28" y="197.61">***</text><text x="244.16" y="197.61">*</text><text x="308.70" y="197.61">*</text><text x="317.92" y="197.61">***</text><text x="354.80" y="197.61">***</text><text x="364.02" y="197.61">***</text><text x="400.90" y="197.61">*</text><text x="447.00" y="197.61">*</text><text x="465.44" y="197.61">*</text><text x="502.32" y="197.61">*</text><text x="511.54" y="197.61">*</text><text x="520.76" y="197.61">***</text><text x="244.16" y="206.68">*</text><text x="308.70" y="206.68">*</text><text x="317.92" y="206.68">***</text><text x="354.80" y="206.68">***</text><text x="364.02" y="206.68">***</text><text x="400.90" y="206.68">*</text><text x="447.00" y="206.68">***</text><text x="465.44" y="206.68">*</text><text x="502.32" y="206.68">*</text><text x="511.54" y="206.68">*</text><text x="520.76" y="206.68">***</text><text x="253.38" y="215.74">***</text><text x="308.70" y="215.74">*</text><text x="327.14" y="215.74">*</text><text x="345.58" y="215.74">***</text><text x="373.24" y="215.74">***</text><text x="382.46" y="215.74">***</text><text x="391.68" y="215.74">***</text><text x="410.12" y="215.74">***</text><text x="419.34" y="215.74">***</text><text x="437.78" y="215.74">***</text><text x="456.22" y="215.74">*</text><text x="529.98" y="215.74">***</text><text x="557.64" y="215.74">***</text><text x="281.04" y="224.80">***</text><text x="290.26" y="224.80">***</text><text x="244.16" y="233.87">*</text><text x="299.48" y="233.87">*</text><text x="336.36" y="233.87">*</text><text x="354.80" y="233.87">*</text><text x="364.02" y="233.87">*</text><text x="373.24" y="233.87">*</text><text x="382.46" y="233.87">*</text><text x="447.00" y="233.87">*</text><text x="465.44" y="233.87">*</text><text x="502.32" y="233.87">***</text><text x="511.54" y="233.87">*</text><text x="520.76" y="233.87">***</text><text x="262.60" y="242.93">*</text><text x="364.02" y="242.93">*</text><text x="447.00" y="242.93">*</text><text x="465.44" y="242.93">***</text><text x="502.32" y="242.93">***</text><text x="520.76" y="242.93">***</text><text x="308.70" y="252.00">*</text><text x="327.14" y="252.00">*</text><text x="345.58" y="252.00">***</text><text x="373.24" y="252.00">***</text><text x="382.46" y="252.00">***</text><text x="391.68" y="252.00">***</text><text x="410.12" y="252.00">***</text><text x="419.34" y="252.00">***</text><text x="437.78" y="252.00">*</text><text x="456.22" y="252.00">*</text><text x="529.98" y="252.00">***</text><text x="557.64" y="252.00">***</text><text x="271.82" y="261.06">***</text><text x="410.12" y="261.06">***</text><text x="520.76" y="261.06">*</text><text x="529.98" y="261.06">***</text><text x="539.20" y="261.06">*</text><text x="548.42" y="261.06">*</text><text x="557.64" y="261.06">*</text><text x="345.58" y="270.12">*</text><text x="410.12" y="270.12">***</text><text x="529.98" y="270.12">*</text><text x="548.42" y="270.12">*</text><text x="557.64" y="270.12">*</text><text x="290.26" y="279.19">***</text><text x="336.36" y="297.32">*</text><text x="354.80" y="297.32">*</text><text x="364.02" y="297.32">*</text><text x="410.12" y="297.32">*</text><text x="437.78" y="297.32">***</text><text x="474.66" y="297.32">*</text><text x="483.88" y="297.32">***</text><text x="493.10" y="297.32">*</text><text x="529.98" y="297.32">***</text><text x="539.20" y="297.32">*</text><text x="548.42" y="297.32">*</text><text x="317.92" y="306.38">*</text><text x="336.36" y="306.38">***</text><text x="345.58" y="306.38">***</text><text x="354.80" y="306.38">***</text><text x="364.02" y="306.38">***</text><text x="391.68" y="306.38">***</text><text x="437.78" y="306.38">***</text><text x="511.54" y="306.38">*</text><text x="529.98" y="306.38">*</text><text x="354.80" y="315.44">*</text><text x="364.02" y="315.44">***</text><text x="373.24" y="315.44">***</text><text x="391.68" y="315.44">***</text><text x="437.78" y="315.44">*</text><text x="502.32" y="315.44">*</text><text x="520.76" y="315.44">*</text><text x="345.58" y="324.51">*</text><text x="410.12" y="324.51">***</text><text x="419.34" y="324.51">*</text><text x="447.00" y="324.51">***</text><text x="456.22" y="324.51">*</text><text x="557.64" y="324.51">***</text><text x="354.80" y="333.57">***</text><text x="364.02" y="333.57">***</text><text x="391.68" y="333.57">*</text><text x="437.78" y="333.57">***</text><text x="483.88" y="333.57">*</text><text x="502.32" y="333.57">*</text><text x="520.76" y="333.57">*</text><text x="373.24" y="342.64">***</text><text x="391.68" y="342.64">***</text><text x="410.12" y="342.64">***</text><text x="419.34" y="342.64">***</text><text x="483.88" y="342.64">*</text><text x="557.64" y="342.64">***</text><text x="364.02" y="351.70">***</text><text x="391.68" y="351.70">***</text><text x="400.90" y="351.70">***</text><text x="419.34" y="351.70">*</text><text x="437.78" y="351.70">***</text><text x="483.88" y="351.70">***</text><text x="511.54" y="351.70">***</text><text x="520.76" y="351.70">***</text><text x="391.68" y="360.76">***</text><text x="400.90" y="360.76">***</text><text x="410.12" y="360.76">*</text><text x="419.34" y="360.76">***</text><text x="437.78" y="360.76">*</text><text x="483.88" y="360.76">***</text><text x="511.54" y="360.76">***</text><text x="520.76" y="360.76">***</text><text x="557.64" y="360.76">***</text><text x="382.46" y="369.83">***</text><text x="391.68" y="369.83">***</text><text x="465.44" y="369.83">*</text><text x="493.10" y="369.83">*</text><text x="391.68" y="378.89">***</text><text x="465.44" y="378.89">***</text><text x="493.10" y="378.89">*</text><text x="502.32" y="378.89">*</text><text x="520.76" y="378.89">***</text><text x="410.12" y="387.96">***</text><text x="419.34" y="387.96">***</text><text x="437.78" y="387.96">***</text><text x="483.88" y="387.96">*</text><text x="511.54" y="387.96">*</text><text x="529.98" y="387.96">*</text><text x="557.64" y="387.96">***</text><text x="437.78" y="397.02">***</text><text x="557.64" y="397.02">*</text><text x="419.34" y="406.08">***</text><text x="437.78" y="406.08">***</text><text x="447.00" y="406.08">*</text><text x="483.88" y="406.08">*</text><text x="511.54" y="406.08">*</text><text x="529.98" y="406.08">***</text><text x="539.20" y="406.08">***</text><text x="548.42" y="406.08">***</text><text x="557.64" y="406.08">***</text><text x="437.78" y="415.15">*</text><text x="483.88" y="415.15">***</text><text x="511.54" y="415.15">*</text><text x="529.98" y="415.15">*</text><text x="557.64" y="415.15">*</text><text x="493.10" y="424.21">*</text><text x="474.66" y="433.28">***</text><text x="483.88" y="433.28">*</text><text x="511.54" y="433.28">*</text><text x="529.98" y="433.28">***</text><text x="539.20" y="433.28">***</text><text x="548.42" y="433.28">***</text><text x="557.64" y="433.28">***</text><text x="557.64" y="442.34">*</text><text x="483.88" y="460.47">*</text><text x="502.32" y="460.47">***</text><text x="520.76" y="460.47">***</text><text x="529.98" y="469.53">***</text><text x="548.42" y="469.53">***</text><text x="511.54" y="478.60">***</text><text x="520.76" y="478.60">***</text><text x="520.76" y="496.72">***</text><text x="529.98" y="505.79">*</text><text x="539.20" y="505.79">*</text><text x="539.20" y="523.92">***</text><text x="548.42" y="523.92">***</text><text x="557.64" y="523.92">***</text><text x="548.42" y="532.98">***</text></g><g fill="none" stroke-linecap="butt"><path d="M9.1 249.3Q79.3 197.9 124.3 123.5" stroke="#c6c6c6" stroke-width="0.9"/><path d="M9.1 249.3Q83.0 203.4 133.5 132.6" stroke="#c6c6c6" stroke-width="0.9"/><path d="M9.1 249.3Q86.7 208.8 142.7 141.6" stroke="#c6c6c6" stroke-width="0.9"/><path d="M9.1 249.3Q90.4 214.3 152.0 150.7" stroke="#c6c6c6" stroke-width="0.9"/><path d="M9.1 249.3Q94.1 219.7 161.2 159.8" stroke="#c6c6c6" stroke-width="0.9"/><path d="M9.1 249.3Q97.8 225.2 170.4 168.8" stroke="#c6c6c6" stroke-width="0.9"/><path d="M9.1 249.3Q101.5 230.6 179.6 177.9" stroke="#c6c6c6" stroke-width="0.9"/><path d="M9.1 249.3Q105.2 236.1 188.8 186.9" stroke="#c9682a" stroke-width="1.8"/><path d="M9.1 249.3Q108.9 241.6 198.1 196.0" stroke="#c9682a" stroke-width="1.8"/><path d="M9.1 249.3Q112.6 247.0 207.3 205.1" stroke="#c9682a" stroke-width="1.8"/><path d="M9.1 249.3Q116.3 252.5 216.5 214.1" stroke="#c6c6c6" stroke-width="0.9"/><path d="M9.1 249.3Q120.0 257.9 225.7 223.2" stroke="#c6c6c6" stroke-width="0.9"/><path d="M9.1 249.3Q123.7 263.4 234.9 232.3" stroke="#c6c6c6" stroke-width="0.9"/><path d="M9.1 249.3Q127.4 268.8 244.2 241.3" stroke="#c6c6c6" stroke-width="0.9"/><path d="M9.1 249.3Q131.1 274.3 253.4 250.4" stroke="#c6c6c6" stroke-width="0.9"/><path d="M9.1 249.3Q134.8 279.7 262.6 259.5" stroke="#c6c6c6" stroke-width="0.9"/><path d="M9.1 249.3Q138.5 285.2 271.8 268.5" stroke="#c6c6c6" stroke-width="0.9"/><path d="M9.1 249.3Q142.2 290.6 281.0 277.6" stroke="#c6c6c6" stroke-width="0.9"/><path d="M9.1 249.3Q145.9 296.1 290.3 286.7" stroke="#c6c6c6" stroke-width="0.9"/><path d="M9.1 249.3Q149.6 301.5 299.5 295.7" stroke="#c6c6c6" stroke-width="0.9"/><path d="M9.1 249.3Q153.4 307.0 308.7 304.8" stroke="#c6c6c6" stroke-width="0.9"/><path d="M9.1 249.3Q157.1 312.5 317.9 313.8" stroke="#c6c6c6" stroke-width="0.9"/><path d="M9.1 249.3Q160.8 317.9 327.1 322.9" stroke="#379a74" stroke-width="0.9"/><path d="M9.1 249.3Q164.5 323.4 336.4 332.0" stroke="#c6c6c6" stroke-width="0.9"/><path d="M9.1 249.3Q186.5 261.5 345.6 341.0" stroke="#c6c6c6" stroke-width="0.9"/><path d="M9.1 249.3Q192.0 265.1 354.8 350.1" stroke="#c6c6c6" stroke-width="0.9"/><path d="M9.1 249.3Q197.5 268.7 364.0 359.2" stroke="#c6c6c6" stroke-width="0.9"/><path d="M9.1 249.3Q203.1 272.4 373.2 368.2" stroke="#c6c6c6" stroke-width="0.9"/><path d="M9.1 249.3Q208.6 276.0 382.5 377.3" stroke="#c6c6c6" stroke-width="0.9"/><path d="M9.1 249.3Q214.1 279.6 391.7 386.4" stroke="#c6c6c6" stroke-width="0.9"/><path d="M9.1 249.3Q219.6 283.2 400.9 395.4" stroke="#c6c6c6" stroke-width="0.9"/><path d="M9.1 249.3Q225.1 286.8 410.1 404.5" stroke="#c6c6c6" stroke-width="0.9"/><path d="M9.1 249.3Q230.6 290.4 419.3 413.5" stroke="#c6c6c6" stroke-width="0.9"/><path d="M9.1 249.3Q236.2 294.0 428.6 422.6" stroke="#c6c6c6" stroke-width="0.9"/><path d="M9.1 249.3Q241.7 297.6 437.8 431.7" stroke="#c6c6c6" stroke-width="0.9"/><path d="M9.1 249.3Q247.2 301.2 447.0 440.7" stroke="#c9682a" stroke-width="0.9"/><path d="M9.1 249.3Q252.7 304.8 456.2 449.8" stroke="#c6c6c6" stroke-width="0.9"/><path d="M9.1 249.3Q258.2 308.4 465.4 458.9" stroke="#379a74" stroke-width="0.9"/><path d="M9.1 249.3Q263.7 312.1 474.7 467.9" stroke="#c6c6c6" stroke-width="0.9"/><path d="M9.1 249.3Q269.3 315.7 483.9 477.0" stroke="#c6c6c6" stroke-width="0.9"/><path d="M9.1 249.3Q274.8 319.3 493.1 486.1" stroke="#c6c6c6" stroke-width="0.9"/><path d="M9.1 249.3Q280.3 322.9 502.3 495.1" stroke="#c6c6c6" stroke-width="0.9"/><path d="M9.1 249.3Q285.8 326.5 511.5 504.2" stroke="#c6c6c6" stroke-width="0.9"/><path d="M9.1 249.3Q291.3 330.1 520.8 513.3" stroke="#379a74" stroke-width="0.9"/><path d="M9.1 249.3Q296.8 333.7 530.0 522.3" stroke="#379a74" stroke-width="0.9"/><path d="M9.1 249.3Q302.4 337.3 539.2 531.4" stroke="#c6c6c6" stroke-width="0.9"/><path d="M9.1 249.3Q307.9 340.9 548.4 540.4" stroke="#c6c6c6" stroke-width="0.9"/><path d="M9.1 249.3Q313.4 344.6 557.6 549.5" stroke="#c6c6c6" stroke-width="0.9"/><path d="M130.8 380.2Q153.2 251.2 124.3 123.5" stroke="#c6c6c6" stroke-width="0.9"/><path d="M130.8 380.2Q156.9 256.7 133.5 132.6" stroke="#c6c6c6" stroke-width="0.9"/><path d="M130.8 380.2Q160.6 262.1 142.7 141.6" stroke="#c6c6c6" stroke-width="0.9"/><path d="M130.8 380.2Q164.3 267.6 152.0 150.7" stroke="#c6c6c6" stroke-width="0.9"/><path d="M130.8 380.2Q168.0 273.0 161.2 159.8" stroke="#c6c6c6" stroke-width="0.9"/><path d="M130.8 380.2Q171.7 278.5 170.4 168.8" stroke="#c6c6c6" stroke-width="0.9"/><path d="M130.8 380.2Q175.4 283.9 179.6 177.9" stroke="#c6c6c6" stroke-width="0.9"/><path d="M130.8 380.2Q179.1 289.4 188.8 186.9" stroke="#c6c6c6" stroke-width="0.9"/><path d="M130.8 380.2Q182.8 294.8 198.1 196.0" stroke="#c6c6c6" stroke-width="0.9"/><path d="M130.8 380.2Q186.6 300.3 207.3 205.1" stroke="#c6c6c6" stroke-width="0.9"/><path d="M130.8 380.2Q190.3 305.7 216.5 214.1" stroke="#c6c6c6" stroke-width="0.9"/><path d="M130.8 380.2Q194.0 311.2 225.7 223.2" stroke="#c6c6c6" stroke-width="0.9"/><path d="M130.8 380.2Q197.7 316.6 234.9 232.3" stroke="#c6c6c6" stroke-width="0.9"/><path d="M130.8 380.2Q201.4 322.1 244.2 241.3" stroke="#c6c6c6" stroke-width="0.9"/><path d="M130.8 380.2Q205.1 327.6 253.4 250.4" stroke="#c6c6c6" stroke-width="0.9"/><path d="M130.8 380.2Q208.8 333.0 262.6 259.5" stroke="#c6c6c6" stroke-width="0.9"/><path d="M130.8 380.2Q212.5 338.5 271.8 268.5" stroke="#c6c6c6" stroke-width="0.9"/><path d="M130.8 380.2Q216.2 343.9 281.0 277.6" stroke="#c6c6c6" stroke-width="0.9"/><path d="M130.8 380.2Q219.9 349.4 290.3 286.7" stroke="#c6c6c6" stroke-width="0.9"/><path d="M130.8 380.2Q223.6 354.8 299.5 295.7" stroke="#379a74" stroke-width="0.9"/><path d="M130.8 380.2Q227.3 360.3 308.7 304.8" stroke="#379a74" stroke-width="0.9"/><path d="M130.8 380.2Q231.0 365.7 317.9 313.8" stroke="#c6c6c6" stroke-width="0.9"/><path d="M130.8 380.2Q234.7 371.2 327.1 322.9" stroke="#379a74" stroke-width="0.9"/><path d="M130.8 380.2Q238.4 376.6 336.4 332.0" stroke="#c6c6c6" stroke-width="0.9"/><path d="M130.8 380.2Q234.3 339.1 345.6 341.0" stroke="#c6c6c6" stroke-width="0.9"/><path d="M130.8 380.2Q239.8 342.8 354.8 350.1" stroke="#c6c6c6" stroke-width="0.9"/><path d="M130.8 380.2Q245.3 346.4 364.0 359.2" stroke="#c6c6c6" stroke-width="0.9"/><path d="M130.8 380.2Q250.8 350.0 373.2 368.2" stroke="#c6c6c6" stroke-width="0.9"/><path d="M130.8 380.2Q256.3 353.6 382.5 377.3" stroke="#c6c6c6" stroke-width="0.9"/><path d="M130.8 380.2Q261.9 357.2 391.7 386.4" stroke="#c6c6c6" stroke-width="0.9"/><path d="M130.8 380.2Q267.4 360.8 400.9 395.4" stroke="#c6c6c6" stroke-width="0.9"/><path d="M130.8 380.2Q272.9 364.4 410.1 404.5" stroke="#c6c6c6" stroke-width="0.9"/><path d="M130.8 380.2Q278.4 368.0 419.3 413.5" stroke="#c6c6c6" stroke-width="0.9"/><path d="M130.8 380.2Q283.9 371.6 428.6 422.6" stroke="#c6c6c6" stroke-width="0.9"/><path d="M130.8 380.2Q289.4 375.2 437.8 431.7" stroke="#c6c6c6" stroke-width="0.9"/><path d="M130.8 380.2Q295.0 378.9 447.0 440.7" stroke="#c6c6c6" stroke-width="0.9"/><path d="M130.8 380.2Q300.5 382.5 456.2 449.8" stroke="#c6c6c6" stroke-width="0.9"/><path d="M130.8 380.2Q306.0 386.1 465.4 458.9" stroke="#c6c6c6" stroke-width="0.9"/><path d="M130.8 380.2Q311.5 389.7 474.7 467.9" stroke="#c6c6c6" stroke-width="0.9"/><path d="M130.8 380.2Q317.0 393.3 483.9 477.0" stroke="#c6c6c6" stroke-width="0.9"/><path d="M130.8 380.2Q322.5 396.9 493.1 486.1" stroke="#379a74" stroke-width="0.9"/><path d="M130.8 380.2Q328.1 400.5 502.3 495.1" stroke="#c6c6c6" stroke-width="0.9"/><path d="M130.8 380.2Q333.6 404.1 511.5 504.2" stroke="#c6c6c6" stroke-width="0.9"/><path d="M130.8 380.2Q339.1 407.7 520.8 513.3" stroke="#c6c6c6" stroke-width="0.9"/><path d="M130.8 380.2Q344.6 411.3 530.0 522.3" stroke="#379a74" stroke-width="0.9"/><path d="M130.8 380.2Q350.1 414.9 539.2 531.4" stroke="#c6c6c6" stroke-width="0.9"/><path d="M130.8 380.2Q355.6 418.6 548.4 540.4" stroke="#c6c6c6" stroke-width="0.9"/><path d="M130.8 380.2Q361.2 422.2 557.6 549.5" stroke="#c6c6c6" stroke-width="0.9"/><path d="M252.3 510.7Q227.0 304.3 124.3 123.5" stroke="#c6c6c6" stroke-width="0.9"/><path d="M252.3 510.7Q230.7 309.8 133.5 132.6" stroke="#c9682a" stroke-width="1.8"/><path d="M252.3 510.7Q234.4 315.2 142.7 141.6" stroke="#c6c6c6" stroke-width="0.9"/><path d="M252.3 510.7Q238.1 320.7 152.0 150.7" stroke="#c9682a" stroke-width="1.8"/><path d="M252.3 510.7Q241.8 326.1 161.2 159.8" stroke="#c6c6c6" stroke-width="0.9"/><path d="M252.3 510.7Q245.5 331.6 170.4 168.8" stroke="#c6c6c6" stroke-width="0.9"/><path d="M252.3 510.7Q249.2 337.0 179.6 177.9" stroke="#c9682a" stroke-width="1.8"/><path d="M252.3 510.7Q252.9 342.5 188.8 186.9" stroke="#c9682a" stroke-width="1.8"/><path d="M252.3 510.7Q256.6 347.9 198.1 196.0" stroke="#c9682a" stroke-width="1.8"/><path d="M252.3 510.7Q260.4 353.4 207.3 205.1" stroke="#c9682a" stroke-width="1.8"/><path d="M252.3 510.7Q264.1 358.8 216.5 214.1" stroke="#c9682a" stroke-width="1.8"/><path d="M252.3 510.7Q267.8 364.3 225.7 223.2" stroke="#c6c6c6" stroke-width="0.9"/><path d="M252.3 510.7Q271.5 369.7 234.9 232.3" stroke="#c6c6c6" stroke-width="0.9"/><path d="M252.3 510.7Q275.2 375.2 244.2 241.3" stroke="#c6c6c6" stroke-width="0.9"/><path d="M252.3 510.7Q278.9 380.7 253.4 250.4" stroke="#c9682a" stroke-width="1.8"/><path d="M252.3 510.7Q282.6 386.1 262.6 259.5" stroke="#379a74" stroke-width="0.9"/><path d="M252.3 510.7Q286.3 391.6 271.8 268.5" stroke="#c9682a" stroke-width="1.8"/><path d="M252.3 510.7Q290.0 397.0 281.0 277.6" stroke="#c6c6c6" stroke-width="0.9"/><path d="M252.3 510.7Q293.7 402.5 290.3 286.7" stroke="#c6c6c6" stroke-width="0.9"/><path d="M252.3 510.7Q297.4 407.9 299.5 295.7" stroke="#379a74" stroke-width="0.9"/><path d="M252.3 510.7Q301.1 413.4 308.7 304.8" stroke="#c6c6c6" stroke-width="0.9"/><path d="M252.3 510.7Q304.8 418.8 317.9 313.8" stroke="#c6c6c6" stroke-width="0.9"/><path d="M252.3 510.7Q308.5 424.3 327.1 322.9" stroke="#c9682a" stroke-width="1.8"/><path d="M252.3 510.7Q312.2 429.7 336.4 332.0" stroke="#c6c6c6" stroke-width="0.9"/><path d="M252.3 510.7Q282.0 416.5 345.6 341.0" stroke="#c6c6c6" stroke-width="0.9"/><path d="M252.3 510.7Q287.5 420.1 354.8 350.1" stroke="#c6c6c6" stroke-width="0.9"/><path d="M252.3 510.7Q293.0 423.8 364.0 359.2" stroke="#c6c6c6" stroke-width="0.9"/><path d="M252.3 510.7Q298.5 427.4 373.2 368.2" stroke="#c6c6c6" stroke-width="0.9"/><path d="M252.3 510.7Q304.0 431.0 382.5 377.3" stroke="#c6c6c6" stroke-width="0.9"/><path d="M252.3 510.7Q309.6 434.6 391.7 386.4" stroke="#c6c6c6" stroke-width="0.9"/><path d="M252.3 510.7Q315.1 438.2 400.9 395.4" stroke="#c6c6c6" stroke-width="0.9"/><path d="M252.3 510.7Q320.6 441.8 410.1 404.5" stroke="#c6c6c6" stroke-width="0.9"/><path d="M252.3 510.7Q326.1 445.4 419.3 413.5" stroke="#c6c6c6" stroke-width="0.9"/><path d="M252.3 510.7Q331.6 449.0 428.6 422.6" stroke="#c6c6c6" stroke-width="0.9"/><path d="M252.3 510.7Q337.1 452.6 437.8 431.7" stroke="#c9682a" stroke-width="1.8"/><path d="M252.3 510.7Q342.7 456.2 447.0 440.7" stroke="#c9682a" stroke-width="1.8"/><path d="M252.3 510.7Q348.2 459.9 456.2 449.8" stroke="#c6c6c6" stroke-width="0.9"/><path d="M252.3 510.7Q353.7 463.5 465.4 458.9" stroke="#c6c6c6" stroke-width="0.9"/><path d="M252.3 510.7Q359.2 467.1 474.7 467.9" stroke="#c6c6c6" stroke-width="0.9"/><path d="M252.3 510.7Q364.7 470.7 483.9 477.0" stroke="#c6c6c6" stroke-width="0.9"/><path d="M252.3 510.7Q370.2 474.3 493.1 486.1" stroke="#c6c6c6" stroke-width="0.9"/><path d="M252.3 510.7Q375.8 477.9 502.3 495.1" stroke="#c6c6c6" stroke-width="0.9"/><path d="M252.3 510.7Q381.3 481.5 511.5 504.2" stroke="#c6c6c6" stroke-width="0.9"/><path d="M252.3 510.7Q386.8 485.1 520.8 513.3" stroke="#c6c6c6" stroke-width="0.9"/><path d="M252.3 510.7Q392.3 488.7 530.0 522.3" stroke="#379a74" stroke-width="0.9"/><path d="M252.3 510.7Q397.8 492.3 539.2 531.4" stroke="#379a74" stroke-width="0.9"/><path d="M252.3 510.7Q403.3 496.0 548.4 540.4" stroke="#379a74" stroke-width="0.9"/><path d="M252.3 510.7Q408.9 499.6 557.6 549.5" stroke="#c6c6c6" stroke-width="0.9"/></g><g fill="#ff1a1a" stroke="#3a22cc" stroke-width="0.9"><circle cx="124.30" cy="123.50" r="2.1"/><circle cx="133.52" cy="132.56" r="2.1"/><circle cx="142.74" cy="141.63" r="2.1"/><circle cx="151.96" cy="150.69" r="2.1"/><circle cx="161.18" cy="159.76" r="2.1"/><circle cx="170.40" cy="168.82" r="2.1"/><circle cx="179.62" cy="177.88" r="2.1"/><circle cx="188.84" cy="186.95" r="2.1"/><circle cx="198.06" cy="196.01" r="2.1"/><circle cx="207.28" cy="205.08" r="2.1"/><circle cx="216.50" cy="214.14" r="2.1"/><circle cx="225.72" cy="223.20" r="2.1"/><circle cx="234.94" cy="232.27" r="2.1"/><circle cx="244.16" cy="241.33" r="2.1"/><circle cx="253.38" cy="250.40" r="2.1"/><circle cx="262.60" cy="259.46" r="2.1"/><circle cx="271.82" cy="268.52" r="2.1"/><circle cx="281.04" cy="277.59" r="2.1"/><circle cx="290.26" cy="286.65" r="2.1"/><circle cx="299.48" cy="295.72" r="2.1"/><circle cx="308.70" cy="304.78" r="2.1"/><circle cx="317.92" cy="313.84" r="2.1"/><circle cx="327.14" cy="322.91" r="2.1"/><circle cx="336.36" cy="331.97" r="2.1"/><circle cx="345.58" cy="341.04" r="2.1"/><circle cx="354.80" cy="350.10" r="2.1"/><circle cx="364.02" cy="359.16" r="2.1"/><circle cx="373.24" cy="368.23" r="2.1"/><circle cx="382.46" cy="377.29" r="2.1"/><circle cx="391.68" cy="386.36" r="2.1"/><circle cx="400.90" cy="395.42" r="2.1"/><circle cx="410.12" cy="404.48" r="2.1"/><circle cx="419.34" cy="413.55" r="2.1"/><circle cx="428.56" cy="422.61" r="2.1"/><circle cx="437.78" cy="431.68" r="2.1"/><circle cx="447.00" cy="440.74" r="2.1"/><circle cx="456.22" cy="449.80" r="2.1"/><circle cx="465.44" cy="458.87" r="2.1"/><circle cx="474.66" cy="467.93" r="2.1"/><circle cx="483.88" cy="477.00" r="2.1"/><circle cx="493.10" cy="486.06" r="2.1"/><circle cx="502.32" cy="495.12" r="2.1"/><circle cx="511.54" cy="504.19" r="2.1"/><circle cx="520.76" cy="513.25" r="2.1"/><circle cx="529.98" cy="522.32" r="2.1"/><circle cx="539.20" cy="531.38" r="2.1"/><circle cx="548.42" cy="540.44" r="2.1"/><circle cx="557.64" cy="549.51" r="2.1"/><circle cx="9.1" cy="249.3" r="2.1"/><circle cx="130.8" cy="380.2" r="2.1"/><circle cx="252.3" cy="510.7" r="2.1"/></g><g font-size="9" fill="#000" stroke="#000" stroke-width="0.22"><text x="566.3" y="126.00">Veillonellacea</text><text transform="translate(126.00 113.3) rotate(-90)">Veillonellacea</text><text x="566.3" y="135.06">Rikenellaceae</text><text transform="translate(135.22 113.3) rotate(-90)">Rikenellaceae</text><text x="566.3" y="144.13">Parabacteroides distasonisc</text><text transform="translate(144.44 113.3) rotate(-90)">Parabacteroides distasonisc</text><text x="566.3" y="153.19">Nitrobacteraceae</text><text transform="translate(153.66 113.3) rotate(-90)">Nitrobacteraceae</text><text x="566.3" y="162.26">Megasphaera</text><text transform="translate(162.88 113.3) rotate(-90)">Megasphaera</text><text x="566.3" y="171.32">Lactobacillales</text><text transform="translate(172.10 113.3) rotate(-90)">Lactobacillales</text><text x="566.3" y="180.38">Hyphomicrobiales</text><text transform="translate(181.32 113.3) rotate(-90)">Hyphomicrobiales</text><text x="566.3" y="189.45">Faecalitalea cylindroides</text><text transform="translate(190.54 113.3) rotate(-90)">Faecalitalea cylindroides</text><text x="566.3" y="198.51">Erysipelotrichia</text><text transform="translate(199.76 113.3) rotate(-90)">Erysipelotrichia</text><text x="566.3" y="207.58">Erysipelotrichaceae</text><text transform="translate(208.98 113.3) rotate(-90)">Erysipelotrichaceae</text><text x="566.3" y="216.64">Bradyrhizobium</text><text transform="translate(218.20 113.3) rotate(-90)">Bradyrhizobium</text><text x="566.3" y="225.70">Bifidobacteriaceae</text><text transform="translate(227.42 113.3) rotate(-90)">Bifidobacteriaceae</text><text x="566.3" y="234.77">Bacteroides uniformis</text><text transform="translate(236.64 113.3) rotate(-90)">Bacteroides uniformis</text><text x="566.3" y="243.83">Bacilli</text><text transform="translate(245.86 113.3) rotate(-90)">Bacilli</text><text x="566.3" y="252.90">Alphaproteobacteria</text><text transform="translate(255.08 113.3) rotate(-90)">Alphaproteobacteria</text><text x="566.3" y="261.96">Alistipes putredinis</text><text transform="translate(264.30 113.3) rotate(-90)">Alistipes putredinis</text><text x="566.3" y="271.02">Alistipes</text><text transform="translate(273.52 113.3) rotate(-90)">Alistipes</text><text x="566.3" y="280.09">Actinomycetota</text><text transform="translate(282.74 113.3) rotate(-90)">Actinomycetota</text><text x="566.3" y="289.15">Actinomycetes</text><text transform="translate(291.96 113.3) rotate(-90)">Actinomycetes</text><text x="566.3" y="298.22">TBDR</text><text transform="translate(301.18 113.3) rotate(-90)">TBDR</text><text x="566.3" y="307.28">MDH</text><text transform="translate(310.40 113.3) rotate(-90)">MDH</text><text x="566.3" y="316.34">LacI</text><text transform="translate(319.62 113.3) rotate(-90)">LacI</text><text x="566.3" y="325.41">AdhE</text><text transform="translate(328.84 113.3) rotate(-90)">AdhE</text><text x="566.3" y="334.47">SCOT</text><text transform="translate(338.06 113.3) rotate(-90)">SCOT</text><text x="566.3" y="343.54">PrdA</text><text transform="translate(347.28 113.3) rotate(-90)">PrdA</text><text x="566.3" y="352.60">OmpA/Porin</text><text transform="translate(356.50 113.3) rotate(-90)">OmpA/Porin</text><text x="566.3" y="361.66">GcvH</text><text transform="translate(365.72 113.3) rotate(-90)">GcvH</text><text x="566.3" y="370.73">GroEL</text><text transform="translate(374.94 113.3) rotate(-90)">GroEL</text><text x="566.3" y="379.79">RpoB</text><text transform="translate(384.16 113.3) rotate(-90)">RpoB</text><text x="566.3" y="388.86">KdgF</text><text transform="translate(393.38 113.3) rotate(-90)">KdgF</text><text x="566.3" y="397.92">OmpA</text><text transform="translate(402.60 113.3) rotate(-90)">OmpA</text><text x="566.3" y="406.98">GDH</text><text transform="translate(411.82 113.3) rotate(-90)">GDH</text><text x="566.3" y="416.05">FCGBP</text><text transform="translate(421.04 113.3) rotate(-90)">FCGBP</text><text x="566.3" y="425.11">ACE</text><text transform="translate(430.26 113.3) rotate(-90)">ACE</text><text x="566.3" y="434.18">IGHM</text><text transform="translate(439.48 113.3) rotate(-90)">IGHM</text><text x="566.3" y="443.24">CTRC</text><text transform="translate(448.70 113.3) rotate(-90)">CTRC</text><text x="566.3" y="452.30">ANXA2</text><text transform="translate(457.92 113.3) rotate(-90)">ANXA2</text><text x="566.3" y="461.37">REG1B</text><text transform="translate(467.14 113.3) rotate(-90)">REG1B</text><text x="566.3" y="470.43">IGHA1</text><text transform="translate(476.36 113.3) rotate(-90)">IGHA1</text><text x="566.3" y="479.50">DEFA3</text><text transform="translate(485.58 113.3) rotate(-90)">DEFA3</text><text x="566.3" y="488.56">TPM1</text><text transform="translate(494.80 113.3) rotate(-90)">TPM1</text><text x="566.3" y="497.62">AMY2B</text><text transform="translate(504.02 113.3) rotate(-90)">AMY2B</text><text x="566.3" y="506.69">KLK1</text><text transform="translate(513.24 113.3) rotate(-90)">KLK1</text><text x="566.3" y="515.75">CELA2A</text><text transform="translate(522.46 113.3) rotate(-90)">CELA2A</text><text x="566.3" y="524.82">IGLV1-51</text><text transform="translate(531.68 113.3) rotate(-90)">IGLV1-51</text><text x="566.3" y="533.88">IGKV2-30</text><text transform="translate(540.90 113.3) rotate(-90)">IGKV2-30</text><text x="566.3" y="542.94">NG9</text><text transform="translate(550.12 113.3) rotate(-90)">NG9</text><text x="566.3" y="552.01">ELA3A</text><text transform="translate(559.34 113.3) rotate(-90)">ELA3A</text></g><g font-size="10.3" fill="#000" stroke="#000" stroke-width="0.2"><text x="0" y="290.8">Biological Process</text><text x="90.8" y="401.9">Cellular Component</text><text x="204.5" y="534.6">Molecular Function</text></g><g font-size="9" fill="#000" stroke="#000" stroke-width="0.2"><text x="631.1" y="384.3">Mantel's p</text><text x="644.5" y="395.6">&lt;0.01</text><text x="644.5" y="405.2">0.01-0.05</text><text x="644.5" y="415.3">&gt;=0.05</text><text x="631.1" y="448.2">Mantel's r</text><text x="644.5" y="459.1">&lt;0.2</text><text x="644.5" y="468.7">0.2 - 0.4</text><text x="630.8" y="500.6">Spearman's r</text><text x="644.7" y="508.7">1.0</text><text x="644.7" y="524.1">0.5</text><text x="644.7" y="539.4">0.0</text><text x="644.7" y="554.4">-0.5</text></g><g fill="none"><path d="M632.2 393.4h7.1" stroke="#c9682a" stroke-width="1.1" opacity=".75"/><path d="M632.2 403.3h7.1" stroke="#379a74" stroke-width="1.1" opacity=".75"/><path d="M632.2 412.9h7.1" stroke="#c6c6c6" stroke-width="1.1"/><path d="M632.2 457.8h7.1" stroke="#666" stroke-width="0.9"/><path d="M632.2 467.5h7.1" stroke="#444" stroke-width="2"/></g><defs><linearGradient id="cb" x1="0" y1="0" x2="0" y2="1"><stop offset="0" stop-color="#7a1528"/><stop offset="0.10" stop-color="#b2182b"/><stop offset="0.20" stop-color="#d6302a"/><stop offset="0.30" stop-color="#ea5a3c"/><stop offset="0.40" stop-color="#f4a582"/><stop offset="0.50" stop-color="#f3e4dc"/><stop offset="0.60" stop-color="#b5d9e8"/><stop offset="0.70" stop-color="#7fb4d8"/><stop offset="0.80" stop-color="#4b86c2"/><stop offset="0.90" stop-color="#2f5c9c"/><stop offset="1" stop-color="#1f3c73"/></linearGradient></defs><rect x="631.1" y="506.9" width="10.1" height="50" fill="url(#cb)"/><g stroke="#fff" stroke-width="0.6"><path d="M631.1 506.2h2M639.2 506.2h2M631.1 521.4h2M639.2 521.4h2M631.1 536.6h2M639.2 536.6h2M631.1 551.8h2M639.2 551.8h2"/></g></svg></body></html>
